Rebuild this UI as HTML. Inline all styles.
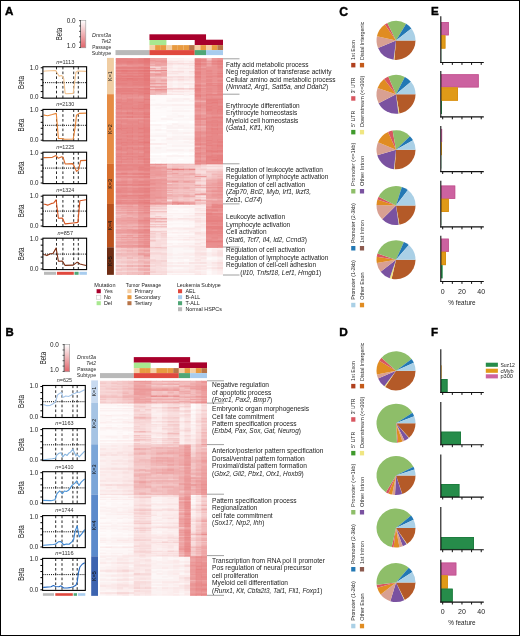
<!DOCTYPE html>
<html><head><meta charset="utf-8"><title>Figure</title>
<style>html,body{margin:0;padding:0;background:#fff;}body{width:520px;height:636px;overflow:hidden;font-family:"Liberation Sans",sans-serif;}svg{display:block;will-change:transform;}</style>
</head><body>
<svg width="520" height="636" viewBox="0 0 520 636" font-family="'Liberation Sans', sans-serif"><rect x="0" y="0" width="520" height="636" fill="#fff"/>
<defs><filter id="hblur" x="-2%" y="-1%" width="104%" height="102%"><feGaussianBlur stdDeviation="0.45 0.3"/></filter></defs>
<text x="5" y="15.4" font-size="11.6" text-anchor="start" fill="#000" font-weight="bold" stroke="#000" stroke-width="0.4">A</text>
<text x="5.4" y="336.3" font-size="11.4" text-anchor="start" fill="#000" font-weight="bold" stroke="#000" stroke-width="0.4">B</text>
<text x="339.2" y="15.5" font-size="12.2" text-anchor="start" fill="#000" font-weight="bold" stroke="#000" stroke-width="0.4">C</text>
<text x="339.3" y="336" font-size="11.8" text-anchor="start" fill="#000" font-weight="bold" stroke="#000" stroke-width="0.4">D</text>
<text x="431" y="15.2" font-size="11.6" text-anchor="start" fill="#000" font-weight="bold" stroke="#000" stroke-width="0.4">E</text>
<text x="431" y="335.8" font-size="11.6" text-anchor="start" fill="#000" font-weight="bold" stroke="#000" stroke-width="0.4">F</text>
<g>
<clipPath id="clip11"><rect x="115.5" y="57.9" width="107.5" height="216.9"/></clipPath>
<g filter="url(#hblur)"><g clip-path="url(#clip11)">
<path fill="#fefafa" d="M189.05 65.9h6.26v1.5h-6.26zM172.08 68.9h6.26v1.5h-6.26zM183.39 68.9h6.26v1.5h-6.26zM189.05 89.9h6.26v1.5h-6.26zM166.42 91.9h11.92v1.5h-11.92zM183.39 91.9h6.26v1.5h-6.26zM149.45 94.2h6.26v1.5h-6.26zM166.42 94.2h17.57v1.5h-17.57zM189.05 94.2h6.26v1.5h-6.26zM155.11 95.2h6.26v1.5h-6.26zM177.74 95.2h17.57v1.5h-17.57zM149.45 96.2h45.86v1.5h-45.86zM166.42 97.2h28.89v1.5h-28.89zM149.45 98.2h17.57v1.5h-17.57zM155.11 99.2h11.92v1.5h-11.92zM177.74 99.2h6.26v1.5h-6.26zM149.45 100.2h17.57v1.5h-17.57zM149.45 101.2h23.23v1.5h-23.23zM149.45 102.2h45.86v1.5h-45.86zM149.45 103.2h6.26v1.5h-6.26zM160.76 103.2h23.23v1.5h-23.23zM189.05 103.2h6.26v1.5h-6.26zM149.45 105.2h17.57v1.5h-17.57zM149.45 106.2h11.92v1.5h-11.92zM149.45 107.2h6.26v1.5h-6.26zM160.76 107.2h11.92v1.5h-11.92zM149.45 108.2h23.23v1.5h-23.23zM183.39 108.2h11.92v1.5h-11.92zM149.45 109.2h17.57v1.5h-17.57zM149.45 111.2h45.86v1.5h-45.86zM149.45 112.2h45.86v1.5h-45.86zM166.42 113.2h6.26v1.5h-6.26zM177.74 113.2h17.57v1.5h-17.57zM149.45 114.2h34.55v1.5h-34.55zM189.05 114.2h6.26v1.5h-6.26zM149.45 115.2h11.92v1.5h-11.92zM183.39 116.2h6.26v1.5h-6.26zM149.45 117.2h17.57v1.5h-17.57zM172.08 117.2h11.92v1.5h-11.92zM189.05 117.2h6.26v1.5h-6.26zM149.45 118.2h11.92v1.5h-11.92zM172.08 118.2h11.92v1.5h-11.92zM155.11 119.2h17.57v1.5h-17.57zM155.11 120.2h11.92v1.5h-11.92zM177.74 121.2h11.92v1.5h-11.92zM166.42 123.2h6.26v1.5h-6.26zM189.05 123.2h6.26v1.5h-6.26zM166.42 124.2h6.26v1.5h-6.26zM155.11 125.2h6.26v1.5h-6.26zM149.45 126.2h23.23v1.5h-23.23zM177.74 126.2h6.26v1.5h-6.26zM189.05 126.2h6.26v1.5h-6.26zM149.45 127.2h11.92v1.5h-11.92zM155.11 128.2h6.26v1.5h-6.26zM166.42 128.2h11.92v1.5h-11.92zM183.39 128.2h6.26v1.5h-6.26zM166.42 129.2h11.92v1.5h-11.92zM183.39 129.2h11.92v1.5h-11.92zM149.45 130.2h17.57v1.5h-17.57zM149.45 131.2h6.26v1.5h-6.26zM166.42 131.2h28.89v1.5h-28.89zM155.11 132.2h11.92v1.5h-11.92zM166.42 133.2h6.26v1.5h-6.26zM177.74 133.2h17.57v1.5h-17.57zM155.11 134.2h23.23v1.5h-23.23zM183.39 134.2h11.92v1.5h-11.92zM166.42 135.2h6.26v1.5h-6.26zM149.45 136.2h17.57v1.5h-17.57zM177.74 137.2h17.57v1.5h-17.57zM149.45 138.2h17.57v1.5h-17.57zM155.11 139.2h6.26v1.5h-6.26zM166.42 139.2h6.26v1.5h-6.26zM177.74 139.2h11.92v1.5h-11.92zM149.45 140.2h17.57v1.5h-17.57zM172.08 140.2h17.57v1.5h-17.57zM160.76 141.2h6.26v1.5h-6.26zM149.45 142.2h17.57v1.5h-17.57zM166.42 143.2h6.26v1.5h-6.26zM189.05 143.2h6.26v1.5h-6.26zM166.42 144.2h28.89v1.5h-28.89zM149.45 145.2h17.57v1.5h-17.57zM149.45 146.2h45.86v1.5h-45.86zM166.42 147.2h28.89v1.5h-28.89zM149.45 148.2h11.92v1.5h-11.92zM172.08 148.2h23.23v1.5h-23.23zM155.11 150.2h11.92v1.5h-11.92zM166.42 151.2h23.23v1.5h-23.23zM149.45 152.2h11.92v1.5h-11.92zM177.74 152.2h6.26v1.5h-6.26zM189.05 152.2h6.26v1.5h-6.26zM172.08 154.2h6.26v1.5h-6.26zM160.76 155.2h6.26v1.5h-6.26zM149.45 156.2h23.23v1.5h-23.23zM177.74 156.2h11.92v1.5h-11.92zM149.45 157.2h11.92v1.5h-11.92zM166.42 157.2h28.89v1.5h-28.89zM166.42 158.2h11.92v1.5h-11.92zM183.39 158.2h11.92v1.5h-11.92zM149.45 159.2h6.26v1.5h-6.26zM166.42 159.2h6.26v1.5h-6.26zM155.11 160.2h6.26v1.5h-6.26zM166.42 160.2h28.89v1.5h-28.89zM160.76 161.2h34.55v1.5h-34.55zM172.08 162.2h6.26v1.5h-6.26zM189.05 162.2h6.26v1.5h-6.26zM149.45 163.2h17.57v1.1h-17.57zM166.42 204.9h28.89v1.5h-28.89zM166.42 207.9h28.89v1.5h-28.89zM172.08 208.9h17.57v1.5h-17.57zM177.74 209.9h6.26v1.5h-6.26zM166.42 210.9h23.23v1.5h-23.23zM166.42 211.9h23.23v1.5h-23.23zM166.42 213.9h28.89v1.5h-28.89zM172.08 215.9h6.26v1.5h-6.26zM177.74 216.9h6.26v1.5h-6.26zM166.42 220.9h17.57v1.5h-17.57zM166.42 221.9h23.23v1.5h-23.23zM172.08 223.9h11.92v1.5h-11.92zM155.11 224.9h6.26v1.5h-6.26zM166.42 224.9h17.57v1.5h-17.57zM189.05 224.9h6.26v1.5h-6.26zM166.42 225.9h23.23v1.5h-23.23zM172.08 230.9h6.26v1.5h-6.26zM166.42 232.9h11.92v1.5h-11.92zM183.39 232.9h6.26v1.5h-6.26zM166.42 233.9h28.89v1.5h-28.89zM166.42 237.9h28.89v1.5h-28.89zM166.42 239.9h17.57v1.5h-17.57zM166.42 240.9h6.26v1.5h-6.26zM177.74 240.9h6.26v1.5h-6.26zM189.05 240.9h6.26v1.5h-6.26zM166.42 241.9h17.57v1.5h-17.57zM172.08 243.9h6.26v1.5h-6.26zM166.42 247.3h28.89v1.5h-28.89zM206.03 247.3h6.26v1.5h-6.26zM166.42 249.3h28.89v1.5h-28.89zM206.03 249.3h6.26v1.5h-6.26zM166.42 251.3h11.92v1.5h-11.92zM183.39 251.3h11.92v1.5h-11.92zM206.03 251.3h6.26v1.5h-6.26zM166.42 256.3h28.89v1.5h-28.89zM211.68 257.3h6.26v1.5h-6.26zM172.08 258.3h17.57v1.5h-17.57zM206.03 258.3h6.26v1.5h-6.26zM183.39 259.3h6.26v1.5h-6.26zM206.03 259.3h6.26v1.5h-6.26zM172.08 260.3h6.26v1.5h-6.26zM183.39 260.3h6.26v1.5h-6.26zM166.42 261.3h17.57v1.5h-17.57zM166.42 263.3h23.23v1.5h-23.23zM172.08 266.3h6.26v1.5h-6.26zM206.03 266.3h6.26v1.5h-6.26zM177.74 268.3h17.57v1.5h-17.57zM172.08 270.3h11.92v1.5h-11.92zM189.05 270.3h6.26v1.5h-6.26zM206.03 270.3h6.26v1.5h-6.26zM206.03 271.3h6.26v1.5h-6.26zM206.03 272.3h6.26v1.5h-6.26zM166.42 273.3h11.92v1.5h-11.92zM183.39 273.3h6.26v1.5h-6.26zM206.03 273.3h6.26v1.5h-6.26z"/>
<path fill="#fdf6f6" d="M183.39 57.9h11.92v1.5h-11.92zM166.42 58.9h28.89v1.5h-28.89zM183.39 61.9h6.26v1.5h-6.26zM172.08 65.9h6.26v1.5h-6.26zM183.39 65.9h6.26v1.5h-6.26zM177.74 68.9h6.26v1.5h-6.26zM189.05 68.9h6.26v1.5h-6.26zM166.42 73.9h11.92v1.5h-11.92zM183.39 73.9h6.26v1.5h-6.26zM172.08 80.9h6.26v1.5h-6.26zM183.39 80.9h6.26v1.5h-6.26zM172.08 81.9h23.23v1.5h-23.23zM172.08 84.9h6.26v1.5h-6.26zM183.39 84.9h6.26v1.5h-6.26zM172.08 85.9h6.26v1.5h-6.26zM183.39 85.9h6.26v1.5h-6.26zM183.39 86.9h6.26v1.5h-6.26zM172.08 89.9h17.57v1.5h-17.57zM177.74 91.9h6.26v1.5h-6.26zM189.05 91.9h6.26v1.5h-6.26zM155.11 94.2h11.92v1.5h-11.92zM166.42 98.2h6.26v1.5h-6.26zM189.05 98.2h6.26v1.5h-6.26zM149.45 99.2h6.26v1.5h-6.26zM166.42 99.2h6.26v1.5h-6.26zM183.39 99.2h11.92v1.5h-11.92zM183.39 100.2h6.26v1.5h-6.26zM155.11 103.2h6.26v1.5h-6.26zM166.42 105.2h28.89v1.5h-28.89zM160.76 106.2h6.26v1.5h-6.26zM155.11 107.2h6.26v1.5h-6.26zM172.08 107.2h23.23v1.5h-23.23zM172.08 108.2h11.92v1.5h-11.92zM166.42 110.2h6.26v1.5h-6.26zM189.05 110.2h6.26v1.5h-6.26zM172.08 113.2h6.26v1.5h-6.26zM166.42 115.2h11.92v1.5h-11.92zM183.39 115.2h11.92v1.5h-11.92zM166.42 116.2h17.57v1.5h-17.57zM189.05 116.2h6.26v1.5h-6.26zM183.39 118.2h11.92v1.5h-11.92zM172.08 119.2h23.23v1.5h-23.23zM149.45 120.2h6.26v1.5h-6.26zM177.74 123.2h11.92v1.5h-11.92zM160.76 124.2h6.26v1.5h-6.26zM172.08 124.2h23.23v1.5h-23.23zM172.08 125.2h6.26v1.5h-6.26zM183.39 125.2h11.92v1.5h-11.92zM172.08 126.2h6.26v1.5h-6.26zM183.39 126.2h6.26v1.5h-6.26zM149.45 129.2h6.26v1.5h-6.26zM160.76 129.2h6.26v1.5h-6.26zM177.74 130.2h17.57v1.5h-17.57zM166.42 132.2h6.26v1.5h-6.26zM149.45 133.2h17.57v1.5h-17.57zM172.08 133.2h6.26v1.5h-6.26zM177.74 134.2h6.26v1.5h-6.26zM172.08 135.2h23.23v1.5h-23.23zM166.42 136.2h6.26v1.5h-6.26zM166.42 137.2h11.92v1.5h-11.92zM160.76 139.2h6.26v1.5h-6.26zM172.08 139.2h6.26v1.5h-6.26zM189.05 139.2h6.26v1.5h-6.26zM166.42 140.2h6.26v1.5h-6.26zM189.05 140.2h6.26v1.5h-6.26zM166.42 141.2h17.57v1.5h-17.57zM189.05 141.2h6.26v1.5h-6.26zM166.42 142.2h23.23v1.5h-23.23zM172.08 143.2h17.57v1.5h-17.57zM166.42 145.2h6.26v1.5h-6.26zM149.45 147.2h6.26v1.5h-6.26zM160.76 147.2h6.26v1.5h-6.26zM149.45 149.2h17.57v1.5h-17.57zM183.39 149.2h6.26v1.5h-6.26zM149.45 150.2h6.26v1.5h-6.26zM166.42 150.2h23.23v1.5h-23.23zM149.45 151.2h17.57v1.5h-17.57zM149.45 155.2h11.92v1.5h-11.92zM183.39 155.2h6.26v1.5h-6.26zM149.45 158.2h17.57v1.5h-17.57zM149.45 160.2h6.26v1.5h-6.26zM160.76 160.2h6.26v1.5h-6.26zM172.08 163.2h6.26v1.1h-6.26zM183.39 163.2h11.92v1.1h-11.92zM166.42 203.9h23.23v1.5h-23.23zM172.08 206.9h6.26v1.5h-6.26zM166.42 208.9h6.26v1.5h-6.26zM189.05 208.9h6.26v1.5h-6.26zM166.42 209.9h11.92v1.5h-11.92zM183.39 209.9h11.92v1.5h-11.92zM189.05 210.9h17.57v1.5h-17.57zM189.05 211.9h6.26v1.5h-6.26zM172.08 214.9h11.92v1.5h-11.92zM166.42 215.9h6.26v1.5h-6.26zM177.74 215.9h6.26v1.5h-6.26zM194.71 215.9h11.92v1.5h-11.92zM166.42 216.9h11.92v1.5h-11.92zM183.39 216.9h11.92v1.5h-11.92zM172.08 219.9h11.92v1.5h-11.92zM183.39 220.9h11.92v1.5h-11.92zM189.05 221.9h6.26v1.5h-6.26zM166.42 222.9h28.89v1.5h-28.89zM166.42 223.9h6.26v1.5h-6.26zM183.39 223.9h11.92v1.5h-11.92zM149.45 224.9h6.26v1.5h-6.26zM160.76 224.9h6.26v1.5h-6.26zM189.05 225.9h6.26v1.5h-6.26zM166.42 226.9h6.26v1.5h-6.26zM172.08 228.9h6.26v1.5h-6.26zM200.37 228.9h6.26v1.5h-6.26zM166.42 229.9h23.23v1.5h-23.23zM200.37 229.9h6.26v1.5h-6.26zM166.42 230.9h6.26v1.5h-6.26zM177.74 230.9h11.92v1.5h-11.92zM177.74 232.9h6.26v1.5h-6.26zM189.05 232.9h6.26v1.5h-6.26zM166.42 234.9h11.92v1.5h-11.92zM166.42 235.9h23.23v1.5h-23.23zM183.39 239.9h11.92v1.5h-11.92zM183.39 241.9h11.92v1.5h-11.92zM172.08 242.9h6.26v1.5h-6.26zM166.42 243.9h6.26v1.5h-6.26zM177.74 243.9h17.57v1.5h-17.57zM166.42 244.9h6.26v1.5h-6.26zM166.42 246.9h23.23v0.9h-23.23zM200.37 247.3h6.26v1.5h-6.26zM211.68 247.3h6.26v1.5h-6.26zM172.08 248.3h11.92v1.5h-11.92zM206.03 248.3h6.26v1.5h-6.26zM172.08 250.3h23.23v1.5h-23.23zM206.03 250.3h6.26v1.5h-6.26zM177.74 251.3h6.26v1.5h-6.26zM172.08 252.3h11.92v1.5h-11.92zM172.08 253.3h6.26v1.5h-6.26zM172.08 255.3h11.92v1.5h-11.92zM189.05 255.3h6.26v1.5h-6.26zM206.03 256.3h11.92v1.5h-11.92zM217.34 257.3h6.26v1.5h-6.26zM166.42 258.3h6.26v1.5h-6.26zM189.05 258.3h6.26v1.5h-6.26zM211.68 258.3h6.26v1.5h-6.26zM166.42 259.3h17.57v1.5h-17.57zM211.68 259.3h6.26v1.5h-6.26zM166.42 260.3h6.26v1.5h-6.26zM177.74 260.3h6.26v1.5h-6.26zM189.05 260.3h6.26v1.5h-6.26zM183.39 261.3h11.92v1.5h-11.92zM206.03 261.3h6.26v1.5h-6.26zM189.05 263.3h28.89v1.5h-28.89zM172.08 264.3h17.57v1.5h-17.57zM206.03 265.3h6.26v1.5h-6.26zM166.42 266.3h6.26v1.5h-6.26zM177.74 266.3h17.57v1.5h-17.57zM211.68 266.3h6.26v1.5h-6.26zM172.08 267.3h11.92v1.5h-11.92zM206.03 268.3h6.26v1.5h-6.26zM206.03 269.3h6.26v1.5h-6.26zM166.42 270.3h6.26v1.5h-6.26zM183.39 270.3h6.26v1.5h-6.26zM200.37 270.3h6.26v1.5h-6.26zM211.68 270.3h6.26v1.5h-6.26zM166.42 272.3h28.89v1.5h-28.89zM211.68 272.3h6.26v1.5h-6.26zM177.74 273.3h6.26v1.5h-6.26zM189.05 273.3h6.26v1.5h-6.26zM206.03 274.3h6.26v1h-6.26z"/>
<path fill="#fcf1f1" d="M166.42 57.9h17.57v1.5h-17.57zM172.08 59.9h6.26v1.5h-6.26zM183.39 59.9h11.92v1.5h-11.92zM172.08 61.9h11.92v1.5h-11.92zM189.05 61.9h6.26v1.5h-6.26zM172.08 63.9h23.23v1.5h-23.23zM172.08 64.9h11.92v1.5h-11.92zM166.42 65.9h6.26v1.5h-6.26zM177.74 65.9h6.26v1.5h-6.26zM172.08 66.9h6.26v1.5h-6.26zM183.39 66.9h6.26v1.5h-6.26zM166.42 68.9h6.26v1.5h-6.26zM172.08 69.9h6.26v1.5h-6.26zM183.39 69.9h11.92v1.5h-11.92zM166.42 71.9h11.92v1.5h-11.92zM183.39 71.9h11.92v1.5h-11.92zM177.74 73.9h6.26v1.5h-6.26zM189.05 73.9h6.26v1.5h-6.26zM166.42 74.9h28.89v1.5h-28.89zM166.42 77.9h11.92v1.5h-11.92zM183.39 77.9h11.92v1.5h-11.92zM172.08 79.9h6.26v1.5h-6.26zM166.42 80.9h6.26v1.5h-6.26zM189.05 80.9h6.26v1.5h-6.26zM166.42 81.9h6.26v1.5h-6.26zM172.08 82.9h6.26v1.5h-6.26zM172.08 83.9h6.26v1.5h-6.26zM183.39 83.9h6.26v1.5h-6.26zM177.74 84.9h6.26v1.5h-6.26zM189.05 84.9h6.26v1.5h-6.26zM177.74 85.9h6.26v1.5h-6.26zM166.42 86.9h11.92v1.5h-11.92zM189.05 86.9h6.26v1.5h-6.26zM166.42 89.9h6.26v1.5h-6.26zM172.08 92.9h23.23v1.5h-23.23zM183.39 93.9h6.26v0.8h-6.26zM183.39 94.2h6.26v1.5h-6.26zM172.08 98.2h11.92v1.5h-11.92zM172.08 99.2h6.26v1.5h-6.26zM166.42 100.2h17.57v1.5h-17.57zM189.05 100.2h6.26v1.5h-6.26zM149.45 104.2h23.23v1.5h-23.23zM189.05 104.2h6.26v1.5h-6.26zM172.08 110.2h17.57v1.5h-17.57zM177.74 115.2h6.26v1.5h-6.26zM160.76 118.2h11.92v1.5h-11.92zM172.08 123.2h6.26v1.5h-6.26zM149.45 124.2h11.92v1.5h-11.92zM166.42 125.2h6.26v1.5h-6.26zM177.74 125.2h6.26v1.5h-6.26zM166.42 127.2h28.89v1.5h-28.89zM155.11 129.2h6.26v1.5h-6.26zM166.42 130.2h11.92v1.5h-11.92zM172.08 132.2h11.92v1.5h-11.92zM189.05 132.2h6.26v1.5h-6.26zM149.45 135.2h17.57v1.5h-17.57zM172.08 136.2h23.23v1.5h-23.23zM172.08 138.2h11.92v1.5h-11.92zM149.45 139.2h6.26v1.5h-6.26zM183.39 141.2h6.26v1.5h-6.26zM189.05 142.2h6.26v1.5h-6.26zM172.08 145.2h23.23v1.5h-23.23zM155.11 147.2h6.26v1.5h-6.26zM166.42 149.2h17.57v1.5h-17.57zM189.05 149.2h6.26v1.5h-6.26zM189.05 150.2h6.26v1.5h-6.26zM166.42 155.2h17.57v1.5h-17.57zM189.05 155.2h6.26v1.5h-6.26zM166.42 163.2h6.26v1.1h-6.26zM177.74 163.2h6.26v1.1h-6.26zM189.05 203.9h6.26v1.5h-6.26zM166.42 205.9h17.57v1.5h-17.57zM200.37 205.9h6.26v1.5h-6.26zM166.42 206.9h6.26v1.5h-6.26zM177.74 206.9h28.89v1.5h-28.89zM200.37 208.9h6.26v1.5h-6.26zM194.71 211.9h11.92v1.5h-11.92zM166.42 212.9h28.89v1.5h-28.89zM194.71 213.9h11.92v1.5h-11.92zM166.42 214.9h6.26v1.5h-6.26zM183.39 214.9h6.26v1.5h-6.26zM183.39 215.9h11.92v1.5h-11.92zM200.37 216.9h6.26v1.5h-6.26zM177.74 218.9h11.92v1.5h-11.92zM166.42 219.9h6.26v1.5h-6.26zM183.39 219.9h11.92v1.5h-11.92zM200.37 221.9h6.26v1.5h-6.26zM200.37 222.9h6.26v1.5h-6.26zM194.71 224.9h6.26v1.5h-6.26zM172.08 226.9h23.23v1.5h-23.23zM194.71 227.9h11.92v1.5h-11.92zM155.11 228.9h6.26v1.5h-6.26zM166.42 228.9h6.26v1.5h-6.26zM177.74 228.9h17.57v1.5h-17.57zM189.05 229.9h11.92v1.5h-11.92zM166.42 231.9h6.26v1.5h-6.26zM177.74 231.9h6.26v1.5h-6.26zM189.05 231.9h6.26v1.5h-6.26zM177.74 234.9h17.57v1.5h-17.57zM189.05 235.9h6.26v1.5h-6.26zM200.37 235.9h6.26v1.5h-6.26zM172.08 236.9h11.92v1.5h-11.92zM200.37 236.9h6.26v1.5h-6.26zM149.45 237.9h11.92v1.5h-11.92zM194.71 237.9h6.26v1.5h-6.26zM166.42 238.9h11.92v1.5h-11.92zM194.71 239.9h11.92v1.5h-11.92zM194.71 240.9h11.92v1.5h-11.92zM194.71 241.9h6.26v1.5h-6.26zM166.42 242.9h6.26v1.5h-6.26zM177.74 242.9h17.57v1.5h-17.57zM200.37 243.9h6.26v1.5h-6.26zM172.08 244.9h11.92v1.5h-11.92zM189.05 246.9h6.26v0.9h-6.26zM166.42 248.3h6.26v1.5h-6.26zM183.39 248.3h11.92v1.5h-11.92zM211.68 248.3h6.26v1.5h-6.26zM166.42 250.3h6.26v1.5h-6.26zM194.71 251.3h11.92v1.5h-11.92zM211.68 251.3h6.26v1.5h-6.26zM166.42 252.3h6.26v1.5h-6.26zM183.39 252.3h11.92v1.5h-11.92zM177.74 253.3h6.26v1.5h-6.26zM206.03 253.3h6.26v1.5h-6.26zM172.08 254.3h17.57v1.5h-17.57zM166.42 255.3h6.26v1.5h-6.26zM183.39 255.3h6.26v1.5h-6.26zM200.37 255.3h11.92v1.5h-11.92zM172.08 257.3h6.26v1.5h-6.26zM217.34 258.3h6.26v1.5h-6.26zM189.05 259.3h6.26v1.5h-6.26zM200.37 260.3h17.57v1.5h-17.57zM211.68 261.3h6.26v1.5h-6.26zM166.42 264.3h6.26v1.5h-6.26zM189.05 264.3h17.57v1.5h-17.57zM166.42 267.3h6.26v1.5h-6.26zM183.39 267.3h6.26v1.5h-6.26zM194.71 269.3h11.92v1.5h-11.92zM194.71 270.3h6.26v1.5h-6.26zM211.68 271.3h6.26v1.5h-6.26zM200.37 272.3h6.26v1.5h-6.26zM211.68 273.3h6.26v1.5h-6.26zM211.68 274.3h6.26v1h-6.26z"/>
<path fill="#fceded" d="M166.42 59.9h6.26v1.5h-6.26zM177.74 59.9h6.26v1.5h-6.26zM183.39 60.9h6.26v1.5h-6.26zM183.39 64.9h6.26v1.5h-6.26zM149.45 65.9h6.26v1.5h-6.26zM177.74 66.9h6.26v1.5h-6.26zM189.05 66.9h6.26v1.5h-6.26zM166.42 67.9h11.92v1.5h-11.92zM166.42 69.9h6.26v1.5h-6.26zM177.74 69.9h6.26v1.5h-6.26zM183.39 70.9h6.26v1.5h-6.26zM177.74 71.9h6.26v1.5h-6.26zM177.74 72.9h11.92v1.5h-11.92zM177.74 77.9h6.26v1.5h-6.26zM177.74 79.9h17.57v1.5h-17.57zM177.74 80.9h6.26v1.5h-6.26zM166.42 82.9h6.26v1.5h-6.26zM177.74 82.9h6.26v1.5h-6.26zM166.42 83.9h6.26v1.5h-6.26zM177.74 83.9h6.26v1.5h-6.26zM189.05 83.9h6.26v1.5h-6.26zM166.42 84.9h6.26v1.5h-6.26zM166.42 85.9h6.26v1.5h-6.26zM189.05 85.9h6.26v1.5h-6.26zM177.74 86.9h6.26v1.5h-6.26zM189.05 90.9h6.26v1.5h-6.26zM166.42 92.9h6.26v1.5h-6.26zM183.39 98.2h6.26v1.5h-6.26zM172.08 104.2h17.57v1.5h-17.57zM183.39 132.2h6.26v1.5h-6.26zM166.42 138.2h6.26v1.5h-6.26zM183.39 138.2h11.92v1.5h-11.92zM160.76 143.2h6.26v1.5h-6.26zM206.03 164.8h6.26v1.5h-6.26zM200.37 195.8h6.26v1.5h-6.26zM166.42 199.8h6.26v1.5h-6.26zM200.37 203.9h6.26v1.5h-6.26zM194.71 204.9h6.26v1.5h-6.26zM183.39 205.9h17.57v1.5h-17.57zM194.71 208.9h6.26v1.5h-6.26zM160.76 214.9h6.26v1.5h-6.26zM189.05 214.9h6.26v1.5h-6.26zM194.71 216.9h6.26v1.5h-6.26zM172.08 217.9h6.26v1.5h-6.26zM166.42 218.9h11.92v1.5h-11.92zM194.71 218.9h11.92v1.5h-11.92zM194.71 221.9h6.26v1.5h-6.26zM194.71 222.9h6.26v1.5h-6.26zM194.71 223.9h6.26v1.5h-6.26zM200.37 224.9h6.26v1.5h-6.26zM200.37 226.9h6.26v1.5h-6.26zM166.42 227.9h17.57v1.5h-17.57zM149.45 228.9h6.26v1.5h-6.26zM160.76 228.9h6.26v1.5h-6.26zM194.71 228.9h6.26v1.5h-6.26zM189.05 230.9h17.57v1.5h-17.57zM172.08 231.9h6.26v1.5h-6.26zM183.39 231.9h6.26v1.5h-6.26zM194.71 233.9h11.92v1.5h-11.92zM194.71 234.9h6.26v1.5h-6.26zM194.71 235.9h6.26v1.5h-6.26zM166.42 236.9h6.26v1.5h-6.26zM183.39 236.9h6.26v1.5h-6.26zM194.71 236.9h6.26v1.5h-6.26zM160.76 237.9h6.26v1.5h-6.26zM200.37 237.9h6.26v1.5h-6.26zM177.74 238.9h6.26v1.5h-6.26zM189.05 238.9h6.26v1.5h-6.26zM200.37 242.9h6.26v1.5h-6.26zM194.71 243.9h6.26v1.5h-6.26zM183.39 244.9h23.23v1.5h-23.23zM166.42 245.9h23.23v1.5h-23.23zM194.71 247.3h6.26v1.5h-6.26zM217.34 247.3h6.26v1.5h-6.26zM217.34 248.3h6.26v1.5h-6.26zM211.68 249.3h11.92v1.5h-11.92zM200.37 250.3h6.26v1.5h-6.26zM211.68 250.3h6.26v1.5h-6.26zM206.03 252.3h6.26v1.5h-6.26zM166.42 253.3h6.26v1.5h-6.26zM183.39 253.3h11.92v1.5h-11.92zM166.42 254.3h6.26v1.5h-6.26zM189.05 254.3h6.26v1.5h-6.26zM206.03 254.3h6.26v1.5h-6.26zM194.71 255.3h6.26v1.5h-6.26zM211.68 255.3h6.26v1.5h-6.26zM200.37 256.3h6.26v1.5h-6.26zM217.34 256.3h6.26v1.5h-6.26zM166.42 257.3h6.26v1.5h-6.26zM177.74 257.3h23.23v1.5h-23.23zM194.71 258.3h11.92v1.5h-11.92zM200.37 259.3h6.26v1.5h-6.26zM217.34 259.3h6.26v1.5h-6.26zM194.71 260.3h6.26v1.5h-6.26zM194.71 261.3h11.92v1.5h-11.92zM217.34 261.3h6.26v1.5h-6.26zM172.08 262.3h6.26v1.5h-6.26zM183.39 262.3h6.26v1.5h-6.26zM206.03 262.3h6.26v1.5h-6.26zM217.34 263.3h6.26v1.5h-6.26zM206.03 264.3h6.26v1.5h-6.26zM189.05 265.3h6.26v1.5h-6.26zM211.68 265.3h6.26v1.5h-6.26zM200.37 266.3h6.26v1.5h-6.26zM217.34 266.3h6.26v1.5h-6.26zM189.05 267.3h17.57v1.5h-17.57zM211.68 268.3h6.26v1.5h-6.26zM166.42 269.3h23.23v1.5h-23.23zM211.68 269.3h6.26v1.5h-6.26zM217.34 270.3h6.26v1.5h-6.26zM200.37 271.3h6.26v1.5h-6.26zM217.34 271.3h6.26v1.5h-6.26zM194.71 272.3h6.26v1.5h-6.26zM217.34 272.3h6.26v1.5h-6.26zM200.37 273.3h6.26v1.5h-6.26zM217.34 273.3h6.26v1.5h-6.26zM166.42 274.3h6.26v1h-6.26zM217.34 274.3h6.26v1h-6.26z"/>
<path fill="#fbe8e8" d="M177.74 60.9h6.26v1.5h-6.26zM189.05 60.9h6.26v1.5h-6.26zM166.42 61.9h6.26v1.5h-6.26zM166.42 63.9h6.26v1.5h-6.26zM166.42 64.9h6.26v1.5h-6.26zM166.42 66.9h6.26v1.5h-6.26zM177.74 67.9h17.57v1.5h-17.57zM189.05 72.9h6.26v1.5h-6.26zM189.05 78.9h6.26v1.5h-6.26zM166.42 79.9h6.26v1.5h-6.26zM183.39 82.9h11.92v1.5h-11.92zM172.08 88.9h17.57v1.5h-17.57zM166.42 90.9h6.26v1.5h-6.26zM183.39 90.9h6.26v1.5h-6.26zM189.05 93.9h6.26v0.8h-6.26zM149.45 143.2h11.92v1.5h-11.92zM211.68 164.8h11.92v1.5h-11.92zM206.03 166.8h11.92v1.5h-11.92zM206.03 167.8h11.92v1.5h-11.92zM200.37 185.8h6.26v1.5h-6.26zM200.37 188.8h6.26v1.5h-6.26zM200.37 197.8h6.26v1.5h-6.26zM194.71 203.9h6.26v1.5h-6.26zM200.37 204.9h6.26v1.5h-6.26zM155.11 206.9h6.26v1.5h-6.26zM200.37 207.9h6.26v1.5h-6.26zM194.71 209.9h6.26v1.5h-6.26zM149.45 211.9h17.57v1.5h-17.57zM149.45 214.9h11.92v1.5h-11.92zM166.42 217.9h6.26v1.5h-6.26zM189.05 217.9h6.26v1.5h-6.26zM200.37 217.9h6.26v1.5h-6.26zM189.05 218.9h6.26v1.5h-6.26zM155.11 221.9h11.92v1.5h-11.92zM200.37 223.9h6.26v1.5h-6.26zM200.37 225.9h6.26v1.5h-6.26zM155.11 226.9h6.26v1.5h-6.26zM194.71 226.9h6.26v1.5h-6.26zM160.76 227.9h6.26v1.5h-6.26zM183.39 227.9h11.92v1.5h-11.92zM155.11 229.9h6.26v1.5h-6.26zM200.37 231.9h6.26v1.5h-6.26zM200.37 234.9h6.26v1.5h-6.26zM189.05 236.9h6.26v1.5h-6.26zM183.39 238.9h6.26v1.5h-6.26zM200.37 238.9h6.26v1.5h-6.26zM200.37 241.9h6.26v1.5h-6.26zM189.05 245.9h6.26v1.5h-6.26zM194.71 246.9h11.92v0.9h-11.92zM194.71 249.3h11.92v1.5h-11.92zM149.45 250.3h17.57v1.5h-17.57zM194.71 250.3h6.26v1.5h-6.26zM217.34 251.3h6.26v1.5h-6.26zM211.68 252.3h6.26v1.5h-6.26zM211.68 253.3h6.26v1.5h-6.26zM155.11 254.3h6.26v1.5h-6.26zM155.11 256.3h11.92v1.5h-11.92zM194.71 256.3h6.26v1.5h-6.26zM155.11 258.3h6.26v1.5h-6.26zM217.34 260.3h6.26v1.5h-6.26zM166.42 262.3h6.26v1.5h-6.26zM177.74 262.3h6.26v1.5h-6.26zM155.11 263.3h6.26v1.5h-6.26zM211.68 264.3h6.26v1.5h-6.26zM166.42 265.3h23.23v1.5h-23.23zM160.76 266.3h6.26v1.5h-6.26zM194.71 266.3h6.26v1.5h-6.26zM206.03 267.3h6.26v1.5h-6.26zM155.11 268.3h6.26v1.5h-6.26zM200.37 268.3h6.26v1.5h-6.26zM217.34 268.3h6.26v1.5h-6.26zM189.05 269.3h6.26v1.5h-6.26zM217.34 269.3h6.26v1.5h-6.26zM172.08 271.3h17.57v1.5h-17.57zM194.71 271.3h6.26v1.5h-6.26zM194.71 273.3h6.26v1.5h-6.26zM172.08 274.3h23.23v1h-23.23z"/>
<path fill="#fae4e4" d="M166.42 60.9h11.92v1.5h-11.92zM189.05 64.9h6.26v1.5h-6.26zM149.45 68.9h6.26v1.5h-6.26zM166.42 70.9h6.26v1.5h-6.26zM166.42 72.9h11.92v1.5h-11.92zM183.39 75.9h6.26v1.5h-6.26zM172.08 76.9h6.26v1.5h-6.26zM183.39 76.9h6.26v1.5h-6.26zM172.08 78.9h6.26v1.5h-6.26zM183.39 78.9h6.26v1.5h-6.26zM189.05 88.9h6.26v1.5h-6.26zM172.08 90.9h11.92v1.5h-11.92zM172.08 93.9h11.92v0.8h-11.92zM200.37 166.8h6.26v1.5h-6.26zM217.34 166.8h6.26v1.5h-6.26zM217.34 167.8h6.26v1.5h-6.26zM200.37 174.8h6.26v1.5h-6.26zM166.42 182.8h6.26v1.5h-6.26zM166.42 192.8h6.26v1.5h-6.26zM200.37 194.8h6.26v1.5h-6.26zM194.71 197.8h6.26v1.5h-6.26zM200.37 200.8h6.26v1.5h-6.26zM149.45 206.9h6.26v1.5h-6.26zM160.76 206.9h6.26v1.5h-6.26zM194.71 207.9h6.26v1.5h-6.26zM155.11 209.9h11.92v1.5h-11.92zM200.37 209.9h6.26v1.5h-6.26zM155.11 213.9h11.92v1.5h-11.92zM194.71 214.9h11.92v1.5h-11.92zM155.11 216.9h6.26v1.5h-6.26zM177.74 217.9h11.92v1.5h-11.92zM200.37 219.9h6.26v1.5h-6.26zM200.37 220.9h6.26v1.5h-6.26zM149.45 221.9h6.26v1.5h-6.26zM194.71 225.9h6.26v1.5h-6.26zM149.45 226.9h6.26v1.5h-6.26zM160.76 226.9h6.26v1.5h-6.26zM149.45 227.9h11.92v1.5h-11.92zM149.45 229.9h6.26v1.5h-6.26zM160.76 229.9h6.26v1.5h-6.26zM149.45 231.9h17.57v1.5h-17.57zM200.37 232.9h6.26v1.5h-6.26zM194.71 238.9h6.26v1.5h-6.26zM160.76 240.9h6.26v1.5h-6.26zM194.71 242.9h6.26v1.5h-6.26zM160.76 243.9h6.26v1.5h-6.26zM160.76 244.9h6.26v1.5h-6.26zM194.71 245.9h6.26v1.5h-6.26zM194.71 248.3h11.92v1.5h-11.92zM149.45 251.3h6.26v1.5h-6.26zM160.76 251.3h6.26v1.5h-6.26zM194.71 253.3h6.26v1.5h-6.26zM149.45 254.3h6.26v1.5h-6.26zM160.76 254.3h6.26v1.5h-6.26zM194.71 254.3h6.26v1.5h-6.26zM211.68 254.3h6.26v1.5h-6.26zM217.34 255.3h6.26v1.5h-6.26zM149.45 256.3h6.26v1.5h-6.26zM149.45 257.3h6.26v1.5h-6.26zM200.37 257.3h6.26v1.5h-6.26zM149.45 258.3h6.26v1.5h-6.26zM160.76 258.3h6.26v1.5h-6.26zM194.71 259.3h6.26v1.5h-6.26zM149.45 261.3h6.26v1.5h-6.26zM149.45 263.3h6.26v1.5h-6.26zM160.76 263.3h6.26v1.5h-6.26zM194.71 265.3h11.92v1.5h-11.92zM217.34 265.3h6.26v1.5h-6.26zM149.45 266.3h11.92v1.5h-11.92zM160.76 267.3h6.26v1.5h-6.26zM194.71 268.3h6.26v1.5h-6.26zM149.45 270.3h17.57v1.5h-17.57zM166.42 271.3h6.26v1.5h-6.26zM189.05 271.3h6.26v1.5h-6.26zM149.45 272.3h17.57v1.5h-17.57z"/>
<path fill="#f9dfdf" d="M172.08 62.9h6.26v1.5h-6.26zM183.39 62.9h11.92v1.5h-11.92zM160.76 65.9h6.26v1.5h-6.26zM155.11 68.9h6.26v1.5h-6.26zM172.08 70.9h11.92v1.5h-11.92zM189.05 70.9h6.26v1.5h-6.26zM166.42 75.9h11.92v1.5h-11.92zM189.05 75.9h6.26v1.5h-6.26zM177.74 76.9h6.26v1.5h-6.26zM189.05 76.9h6.26v1.5h-6.26zM166.42 78.9h6.26v1.5h-6.26zM166.42 88.9h6.26v1.5h-6.26zM166.42 93.9h6.26v0.8h-6.26zM194.71 169.8h6.26v1.5h-6.26zM200.37 170.8h6.26v1.5h-6.26zM194.71 171.8h11.92v1.5h-11.92zM200.37 172.8h6.26v1.5h-6.26zM200.37 178.8h6.26v1.5h-6.26zM194.71 181.8h11.92v1.5h-11.92zM200.37 182.8h6.26v1.5h-6.26zM194.71 187.8h11.92v1.5h-11.92zM194.71 195.8h6.26v1.5h-6.26zM194.71 200.8h6.26v1.5h-6.26zM149.45 208.9h17.57v1.5h-17.57zM149.45 209.9h6.26v1.5h-6.26zM155.11 212.9h11.92v1.5h-11.92zM149.45 215.9h6.26v1.5h-6.26zM160.76 215.9h6.26v1.5h-6.26zM160.76 216.9h6.26v1.5h-6.26zM194.71 217.9h6.26v1.5h-6.26zM155.11 218.9h6.26v1.5h-6.26zM194.71 219.9h6.26v1.5h-6.26zM194.71 220.9h6.26v1.5h-6.26zM149.45 222.9h17.57v1.5h-17.57zM194.71 231.9h6.26v1.5h-6.26zM155.11 232.9h6.26v1.5h-6.26zM194.71 232.9h6.26v1.5h-6.26zM155.11 234.9h6.26v1.5h-6.26zM155.11 235.9h6.26v1.5h-6.26zM155.11 236.9h6.26v1.5h-6.26zM155.11 238.9h6.26v1.5h-6.26zM149.45 240.9h6.26v1.5h-6.26zM149.45 241.9h17.57v1.5h-17.57zM149.45 242.9h6.26v1.5h-6.26zM149.45 243.9h6.26v1.5h-6.26zM149.45 244.9h6.26v1.5h-6.26zM160.76 245.9h6.26v1.5h-6.26zM200.37 245.9h6.26v1.5h-6.26zM149.45 248.3h6.26v1.5h-6.26zM160.76 248.3h6.26v1.5h-6.26zM217.34 250.3h6.26v1.5h-6.26zM155.11 251.3h6.26v1.5h-6.26zM160.76 252.3h6.26v1.5h-6.26zM194.71 252.3h11.92v1.5h-11.92zM200.37 253.3h6.26v1.5h-6.26zM217.34 253.3h6.26v1.5h-6.26zM200.37 254.3h6.26v1.5h-6.26zM149.45 255.3h11.92v1.5h-11.92zM115.5 256.3h6.26v1.5h-6.26zM155.11 257.3h6.26v1.5h-6.26zM155.11 259.3h11.92v1.5h-11.92zM155.11 261.3h11.92v1.5h-11.92zM189.05 262.3h11.92v1.5h-11.92zM211.68 262.3h6.26v1.5h-6.26zM115.5 263.3h11.92v1.5h-11.92zM149.45 264.3h6.26v1.5h-6.26zM217.34 264.3h6.26v1.5h-6.26zM149.45 267.3h6.26v1.5h-6.26zM211.68 267.3h6.26v1.5h-6.26zM160.76 268.3h6.26v1.5h-6.26zM160.76 269.3h6.26v1.5h-6.26zM149.45 273.3h11.92v1.5h-11.92zM200.37 274.3h6.26v1h-6.26z"/>
<path fill="#f8dbdb" d="M166.42 62.9h6.26v1.5h-6.26zM177.74 62.9h6.26v1.5h-6.26zM177.74 75.9h6.26v1.5h-6.26zM166.42 76.9h6.26v1.5h-6.26zM177.74 78.9h6.26v1.5h-6.26zM206.03 163.8h11.92v1.5h-11.92zM200.37 164.8h6.26v1.5h-6.26zM194.71 167.8h11.92v1.5h-11.92zM200.37 169.8h11.92v1.5h-11.92zM194.71 170.8h6.26v1.5h-6.26zM194.71 172.8h6.26v1.5h-6.26zM194.71 174.8h6.26v1.5h-6.26zM200.37 176.8h6.26v1.5h-6.26zM200.37 177.8h6.26v1.5h-6.26zM194.71 178.8h6.26v1.5h-6.26zM194.71 182.8h6.26v1.5h-6.26zM200.37 183.8h6.26v1.5h-6.26zM194.71 185.8h6.26v1.5h-6.26zM194.71 188.8h6.26v1.5h-6.26zM200.37 189.8h6.26v1.5h-6.26zM200.37 191.8h6.26v1.5h-6.26zM194.71 194.8h6.26v1.5h-6.26zM200.37 198.8h6.26v1.5h-6.26zM200.37 203.8h6.26v0.6h-6.26zM194.71 212.9h11.92v1.5h-11.92zM149.45 213.9h6.26v1.5h-6.26zM160.76 219.9h6.26v1.5h-6.26zM149.45 233.9h17.57v1.5h-17.57zM160.76 235.9h6.26v1.5h-6.26zM160.76 238.9h6.26v1.5h-6.26zM155.11 239.9h11.92v1.5h-11.92zM155.11 240.9h6.26v1.5h-6.26zM155.11 242.9h11.92v1.5h-11.92zM155.11 243.9h6.26v1.5h-6.26zM155.11 244.9h6.26v1.5h-6.26zM149.45 245.9h11.92v1.5h-11.92zM115.5 248.3h6.26v1.5h-6.26zM155.11 248.3h6.26v1.5h-6.26zM149.45 249.3h17.57v1.5h-17.57zM115.5 251.3h11.92v1.5h-11.92zM217.34 252.3h6.26v1.5h-6.26zM217.34 254.3h6.26v1.5h-6.26zM160.76 255.3h6.26v1.5h-6.26zM160.76 257.3h6.26v1.5h-6.26zM115.5 259.3h6.26v1.5h-6.26zM160.76 262.3h6.26v1.5h-6.26zM200.37 262.3h6.26v1.5h-6.26zM160.76 264.3h6.26v1.5h-6.26zM155.11 265.3h6.26v1.5h-6.26zM115.5 267.3h6.26v1.5h-6.26zM155.11 267.3h6.26v1.5h-6.26zM149.45 268.3h6.26v1.5h-6.26zM155.11 269.3h6.26v1.5h-6.26zM121.16 270.3h6.26v1.5h-6.26zM115.5 273.3h11.92v1.5h-11.92zM160.76 273.3h6.26v1.5h-6.26zM194.71 274.3h6.26v1h-6.26z"/>
<path fill="#f7d6d6" d="M155.11 65.9h6.26v1.5h-6.26zM155.11 66.9h6.26v1.5h-6.26zM149.45 70.9h6.26v1.5h-6.26zM160.76 70.9h6.26v1.5h-6.26zM160.76 76.9h6.26v1.5h-6.26zM155.11 83.9h6.26v1.5h-6.26zM183.39 87.9h6.26v1.5h-6.26zM217.34 163.8h6.26v1.5h-6.26zM194.71 164.8h6.26v1.5h-6.26zM200.37 165.8h23.23v1.5h-23.23zM194.71 166.8h6.26v1.5h-6.26zM206.03 168.8h11.92v1.5h-11.92zM211.68 169.8h6.26v1.5h-6.26zM194.71 176.8h6.26v1.5h-6.26zM200.37 180.8h6.26v1.5h-6.26zM194.71 189.8h6.26v1.5h-6.26zM194.71 191.8h6.26v1.5h-6.26zM166.42 198.8h6.26v1.5h-6.26zM189.05 199.8h6.26v1.5h-6.26zM155.11 204.9h6.26v1.5h-6.26zM149.45 212.9h6.26v1.5h-6.26zM149.45 216.9h6.26v1.5h-6.26zM160.76 218.9h6.26v1.5h-6.26zM149.45 234.9h6.26v1.5h-6.26zM160.76 236.9h6.26v1.5h-6.26zM149.45 238.9h6.26v1.5h-6.26zM149.45 252.3h11.92v1.5h-11.92zM149.45 253.3h11.92v1.5h-11.92zM121.16 256.3h6.26v1.5h-6.26zM132.47 256.3h6.26v1.5h-6.26zM217.34 262.3h6.26v1.5h-6.26zM132.47 263.3h6.26v1.5h-6.26zM115.5 264.3h11.92v1.5h-11.92zM155.11 264.3h6.26v1.5h-6.26zM160.76 265.3h6.26v1.5h-6.26zM115.5 266.3h6.26v1.5h-6.26zM217.34 267.3h6.26v1.5h-6.26zM149.45 269.3h6.26v1.5h-6.26zM115.5 270.3h6.26v1.5h-6.26zM132.47 270.3h6.26v1.5h-6.26zM115.5 271.3h11.92v1.5h-11.92zM155.11 271.3h11.92v1.5h-11.92zM126.82 273.3h11.92v1.5h-11.92z"/>
<path fill="#f6d2d2" d="M149.45 66.9h6.26v1.5h-6.26zM149.45 76.9h6.26v1.5h-6.26zM172.08 87.9h6.26v1.5h-6.26zM166.42 164.8h6.26v1.5h-6.26zM189.05 164.8h6.26v1.5h-6.26zM189.05 166.8h6.26v1.5h-6.26zM194.71 168.8h6.26v1.5h-6.26zM217.34 168.8h6.26v1.5h-6.26zM217.34 169.8h6.26v1.5h-6.26zM206.03 172.8h6.26v1.5h-6.26zM206.03 174.8h6.26v1.5h-6.26zM200.37 179.8h6.26v1.5h-6.26zM194.71 180.8h6.26v1.5h-6.26zM194.71 183.8h6.26v1.5h-6.26zM166.42 188.8h6.26v1.5h-6.26zM166.42 190.8h6.26v1.5h-6.26zM200.37 190.8h6.26v1.5h-6.26zM177.74 192.8h6.26v1.5h-6.26zM189.05 192.8h6.26v1.5h-6.26zM200.37 196.8h6.26v1.5h-6.26zM177.74 198.8h6.26v1.5h-6.26zM189.05 198.8h6.26v1.5h-6.26zM149.45 218.9h6.26v1.5h-6.26zM155.11 219.9h6.26v1.5h-6.26zM160.76 230.9h6.26v1.5h-6.26zM160.76 234.9h6.26v1.5h-6.26zM149.45 235.9h6.26v1.5h-6.26zM149.45 236.9h6.26v1.5h-6.26zM149.45 247.3h11.92v1.5h-11.92zM121.16 248.3h6.26v1.5h-6.26zM126.82 251.3h11.92v1.5h-11.92zM160.76 253.3h6.26v1.5h-6.26zM126.82 256.3h6.26v1.5h-6.26zM115.5 258.3h11.92v1.5h-11.92zM121.16 259.3h17.57v1.5h-17.57zM149.45 259.3h6.26v1.5h-6.26zM155.11 260.3h6.26v1.5h-6.26zM149.45 262.3h11.92v1.5h-11.92zM126.82 263.3h6.26v1.5h-6.26zM149.45 265.3h6.26v1.5h-6.26zM121.16 266.3h6.26v1.5h-6.26zM132.47 266.3h6.26v1.5h-6.26zM121.16 267.3h6.26v1.5h-6.26zM132.47 267.3h6.26v1.5h-6.26zM126.82 270.3h6.26v1.5h-6.26z"/>
<path fill="#f5cdcd" d="M160.76 68.9h6.26v1.5h-6.26zM155.11 76.9h6.26v1.5h-6.26zM149.45 87.9h6.26v1.5h-6.26zM166.42 87.9h6.26v1.5h-6.26zM177.74 87.9h6.26v1.5h-6.26zM189.05 87.9h6.26v1.5h-6.26zM160.76 92.9h6.26v1.5h-6.26zM172.08 164.8h17.57v1.5h-17.57zM194.71 165.8h6.26v1.5h-6.26zM166.42 166.8h6.26v1.5h-6.26zM183.39 166.8h6.26v1.5h-6.26zM200.37 168.8h6.26v1.5h-6.26zM166.42 169.8h6.26v1.5h-6.26zM189.05 169.8h6.26v1.5h-6.26zM189.05 171.8h6.26v1.5h-6.26zM206.03 171.8h11.92v1.5h-11.92zM200.37 173.8h11.92v1.5h-11.92zM206.03 175.8h6.26v1.5h-6.26zM172.08 182.8h6.26v1.5h-6.26zM183.39 182.8h11.92v1.5h-11.92zM189.05 185.8h6.26v1.5h-6.26zM189.05 188.8h6.26v1.5h-6.26zM183.39 190.8h11.92v1.5h-11.92zM172.08 192.8h6.26v1.5h-6.26zM189.05 196.8h11.92v1.5h-11.92zM189.05 197.8h6.26v1.5h-6.26zM177.74 199.8h11.92v1.5h-11.92zM166.42 200.8h6.26v1.5h-6.26zM160.76 204.9h6.26v1.5h-6.26zM155.11 207.9h11.92v1.5h-11.92zM155.11 215.9h6.26v1.5h-6.26zM155.11 230.9h6.26v1.5h-6.26zM149.45 232.9h6.26v1.5h-6.26zM160.76 232.9h6.26v1.5h-6.26zM115.5 237.9h11.92v1.5h-11.92zM160.76 247.3h6.26v1.5h-6.26zM126.82 248.3h11.92v1.5h-11.92zM126.82 258.3h11.92v1.5h-11.92zM115.5 260.3h11.92v1.5h-11.92zM132.47 260.3h6.26v1.5h-6.26zM149.45 260.3h6.26v1.5h-6.26zM160.76 260.3h6.26v1.5h-6.26zM115.5 261.3h6.26v1.5h-6.26zM115.5 262.3h6.26v1.5h-6.26zM126.82 264.3h11.92v1.5h-11.92zM126.82 266.3h6.26v1.5h-6.26zM126.82 267.3h6.26v1.5h-6.26zM115.5 268.3h6.26v1.5h-6.26zM126.82 271.3h11.92v1.5h-11.92zM143.79 273.3h6.26v1.5h-6.26zM160.76 274.3h6.26v1h-6.26z"/>
<path fill="#f4c9c9" d="M155.11 70.9h6.26v1.5h-6.26zM149.45 71.9h6.26v1.5h-6.26zM155.11 87.9h6.26v1.5h-6.26zM166.42 165.8h6.26v1.5h-6.26zM183.39 165.8h11.92v1.5h-11.92zM177.74 166.8h6.26v1.5h-6.26zM189.05 167.8h6.26v1.5h-6.26zM177.74 169.8h6.26v1.5h-6.26zM166.42 171.8h6.26v1.5h-6.26zM183.39 171.8h6.26v1.5h-6.26zM211.68 174.8h6.26v1.5h-6.26zM189.05 175.8h6.26v1.5h-6.26zM206.03 176.8h6.26v1.5h-6.26zM189.05 178.8h6.26v1.5h-6.26zM177.74 182.8h6.26v1.5h-6.26zM172.08 188.8h17.57v1.5h-17.57zM194.71 190.8h6.26v1.5h-6.26zM183.39 192.8h6.26v1.5h-6.26zM194.71 192.8h6.26v1.5h-6.26zM177.74 196.8h6.26v1.5h-6.26zM177.74 197.8h11.92v1.5h-11.92zM200.37 201.8h6.26v1.5h-6.26zM160.76 205.9h6.26v1.5h-6.26zM149.45 207.9h6.26v1.5h-6.26zM115.5 210.9h6.26v1.5h-6.26zM155.11 223.9h6.26v1.5h-6.26zM149.45 230.9h6.26v1.5h-6.26zM160.76 246.9h6.26v0.9h-6.26zM143.79 248.3h6.26v1.5h-6.26zM138.13 251.3h6.26v1.5h-6.26zM115.5 252.3h6.26v1.5h-6.26zM138.13 256.3h6.26v1.5h-6.26zM121.16 257.3h6.26v1.5h-6.26zM121.16 262.3h6.26v1.5h-6.26zM138.13 263.3h11.92v1.5h-11.92zM138.13 267.3h6.26v1.5h-6.26zM121.16 269.3h6.26v1.5h-6.26zM138.13 270.3h6.26v1.5h-6.26zM149.45 271.3h6.26v1.5h-6.26zM138.13 273.3h6.26v1.5h-6.26zM149.45 274.3h11.92v1h-11.92z"/>
<path fill="#f4c4c4" d="M206.03 58.9h6.26v1.5h-6.26zM155.11 67.9h6.26v1.5h-6.26zM155.11 71.9h6.26v1.5h-6.26zM149.45 83.9h6.26v1.5h-6.26zM160.76 83.9h6.26v1.5h-6.26zM155.11 84.9h6.26v1.5h-6.26zM149.45 89.9h6.26v1.5h-6.26zM189.05 163.8h6.26v1.5h-6.26zM160.76 164.8h6.26v1.5h-6.26zM177.74 167.8h6.26v1.5h-6.26zM172.08 169.8h6.26v1.5h-6.26zM183.39 169.8h6.26v1.5h-6.26zM206.03 170.8h11.92v1.5h-11.92zM172.08 171.8h11.92v1.5h-11.92zM211.68 172.8h11.92v1.5h-11.92zM166.42 174.8h6.26v1.5h-6.26zM189.05 174.8h6.26v1.5h-6.26zM166.42 175.8h6.26v1.5h-6.26zM183.39 175.8h6.26v1.5h-6.26zM217.34 176.8h6.26v1.5h-6.26zM189.05 177.8h6.26v1.5h-6.26zM206.03 177.8h6.26v1.5h-6.26zM183.39 178.8h6.26v1.5h-6.26zM194.71 179.8h6.26v1.5h-6.26zM166.42 185.8h6.26v1.5h-6.26zM177.74 185.8h11.92v1.5h-11.92zM177.74 189.8h6.26v1.5h-6.26zM172.08 190.8h11.92v1.5h-11.92zM189.05 193.8h6.26v1.5h-6.26zM166.42 196.8h6.26v1.5h-6.26zM183.39 196.8h6.26v1.5h-6.26zM172.08 198.8h6.26v1.5h-6.26zM183.39 198.8h6.26v1.5h-6.26zM206.03 198.8h11.92v1.5h-11.92zM172.08 199.8h6.26v1.5h-6.26zM189.05 200.8h6.26v1.5h-6.26zM194.71 201.8h6.26v1.5h-6.26zM194.71 203.8h6.26v0.6h-6.26zM149.45 204.9h6.26v1.5h-6.26zM149.45 205.9h11.92v1.5h-11.92zM132.47 210.9h6.26v1.5h-6.26zM149.45 210.9h17.57v1.5h-17.57zM149.45 219.9h6.26v1.5h-6.26zM149.45 223.9h6.26v1.5h-6.26zM160.76 223.9h6.26v1.5h-6.26zM155.11 225.9h6.26v1.5h-6.26zM126.82 237.9h6.26v1.5h-6.26zM149.45 239.9h6.26v1.5h-6.26zM149.45 246.9h6.26v0.9h-6.26zM115.5 247.3h11.92v1.5h-11.92zM138.13 248.3h6.26v1.5h-6.26zM115.5 249.3h6.26v1.5h-6.26zM138.13 258.3h6.26v1.5h-6.26zM138.13 259.3h11.92v1.5h-11.92zM126.82 260.3h6.26v1.5h-6.26zM121.16 261.3h6.26v1.5h-6.26zM132.47 262.3h6.26v1.5h-6.26zM138.13 264.3h6.26v1.5h-6.26zM121.16 268.3h6.26v1.5h-6.26zM126.82 269.3h11.92v1.5h-11.92zM143.79 270.3h6.26v1.5h-6.26zM138.13 271.3h11.92v1.5h-11.92z"/>
<path fill="#f3c0c0" d="M206.03 57.9h6.26v1.5h-6.26zM160.76 77.9h6.26v1.5h-6.26zM155.11 80.9h6.26v1.5h-6.26zM155.11 81.9h11.92v1.5h-11.92zM149.45 84.9h6.26v1.5h-6.26zM149.45 86.9h6.26v1.5h-6.26zM155.11 91.9h11.92v1.5h-11.92zM160.76 93.9h6.26v0.8h-6.26zM200.37 100.2h6.26v1.5h-6.26zM166.42 163.8h6.26v1.5h-6.26zM177.74 163.8h11.92v1.5h-11.92zM200.37 163.8h6.26v1.5h-6.26zM172.08 165.8h11.92v1.5h-11.92zM172.08 166.8h6.26v1.5h-6.26zM183.39 167.8h6.26v1.5h-6.26zM189.05 170.8h6.26v1.5h-6.26zM217.34 170.8h6.26v1.5h-6.26zM217.34 171.8h6.26v1.5h-6.26zM217.34 174.8h6.26v1.5h-6.26zM177.74 175.8h6.26v1.5h-6.26zM211.68 175.8h6.26v1.5h-6.26zM211.68 176.8h6.26v1.5h-6.26zM166.42 177.8h11.92v1.5h-11.92zM183.39 177.8h6.26v1.5h-6.26zM194.71 177.8h6.26v1.5h-6.26zM166.42 178.8h17.57v1.5h-17.57zM183.39 184.8h11.92v1.5h-11.92zM172.08 185.8h6.26v1.5h-6.26zM189.05 187.8h6.26v1.5h-6.26zM172.08 189.8h6.26v1.5h-6.26zM183.39 189.8h6.26v1.5h-6.26zM177.74 191.8h6.26v1.5h-6.26zM189.05 191.8h6.26v1.5h-6.26zM172.08 196.8h6.26v1.5h-6.26zM172.08 197.8h6.26v1.5h-6.26zM194.71 198.8h6.26v1.5h-6.26zM177.74 200.8h11.92v1.5h-11.92zM194.71 202.8h11.92v1.5h-11.92zM149.45 203.9h17.57v1.5h-17.57zM121.16 210.9h11.92v1.5h-11.92zM121.16 213.9h6.26v1.5h-6.26zM149.45 225.9h6.26v1.5h-6.26zM160.76 225.9h6.26v1.5h-6.26zM115.5 233.9h11.92v1.5h-11.92zM132.47 237.9h6.26v1.5h-6.26zM132.47 249.3h6.26v1.5h-6.26zM143.79 251.3h6.26v1.5h-6.26zM121.16 252.3h6.26v1.5h-6.26zM115.5 254.3h6.26v1.5h-6.26zM126.82 255.3h6.26v1.5h-6.26zM143.79 256.3h6.26v1.5h-6.26zM115.5 257.3h6.26v1.5h-6.26zM132.47 257.3h6.26v1.5h-6.26zM143.79 258.3h6.26v1.5h-6.26zM126.82 261.3h6.26v1.5h-6.26zM126.82 262.3h6.26v1.5h-6.26zM143.79 264.3h6.26v1.5h-6.26zM138.13 266.3h6.26v1.5h-6.26zM143.79 267.3h6.26v1.5h-6.26zM115.5 269.3h6.26v1.5h-6.26zM115.5 272.3h11.92v1.5h-11.92z"/>
<path fill="#f2bbbb" d="M149.45 63.9h6.26v1.5h-6.26zM160.76 75.9h6.26v1.5h-6.26zM160.76 80.9h6.26v1.5h-6.26zM149.45 81.9h6.26v1.5h-6.26zM160.76 84.9h6.26v1.5h-6.26zM155.11 92.9h6.26v1.5h-6.26zM155.11 93.9h6.26v0.8h-6.26zM200.37 157.2h6.26v1.5h-6.26zM172.08 163.8h6.26v1.5h-6.26zM149.45 164.8h6.26v1.5h-6.26zM172.08 170.8h6.26v1.5h-6.26zM183.39 170.8h6.26v1.5h-6.26zM172.08 173.8h11.92v1.5h-11.92zM194.71 173.8h6.26v1.5h-6.26zM183.39 174.8h6.26v1.5h-6.26zM172.08 175.8h6.26v1.5h-6.26zM189.05 176.8h6.26v1.5h-6.26zM177.74 177.8h6.26v1.5h-6.26zM211.68 177.8h6.26v1.5h-6.26zM206.03 178.8h6.26v1.5h-6.26zM183.39 179.8h6.26v1.5h-6.26zM177.74 183.8h17.57v1.5h-17.57zM177.74 184.8h6.26v1.5h-6.26zM200.37 184.8h6.26v1.5h-6.26zM206.03 185.8h6.26v1.5h-6.26zM189.05 189.8h6.26v1.5h-6.26zM172.08 191.8h6.26v1.5h-6.26zM183.39 191.8h6.26v1.5h-6.26zM172.08 193.8h6.26v1.5h-6.26zM183.39 193.8h6.26v1.5h-6.26zM189.05 194.8h6.26v1.5h-6.26zM177.74 195.8h6.26v1.5h-6.26zM115.5 213.9h6.26v1.5h-6.26zM115.5 214.9h6.26v1.5h-6.26zM149.45 220.9h6.26v1.5h-6.26zM115.5 224.9h6.26v1.5h-6.26zM115.5 226.9h6.26v1.5h-6.26zM132.47 226.9h6.26v1.5h-6.26zM115.5 227.9h6.26v1.5h-6.26zM132.47 235.9h6.26v1.5h-6.26zM115.5 239.9h11.92v1.5h-11.92zM115.5 246.9h6.26v0.9h-6.26zM155.11 246.9h6.26v0.9h-6.26zM132.47 247.3h6.26v1.5h-6.26zM121.16 249.3h11.92v1.5h-11.92zM115.5 250.3h11.92v1.5h-11.92zM126.82 252.3h6.26v1.5h-6.26zM121.16 254.3h17.57v1.5h-17.57zM115.5 255.3h11.92v1.5h-11.92zM143.79 260.3h6.26v1.5h-6.26zM132.47 261.3h6.26v1.5h-6.26zM138.13 262.3h6.26v1.5h-6.26zM121.16 265.3h6.26v1.5h-6.26zM143.79 266.3h6.26v1.5h-6.26zM126.82 268.3h11.92v1.5h-11.92zM126.82 272.3h6.26v1.5h-6.26zM121.16 274.3h6.26v1h-6.26z"/>
<path fill="#f1b6b6" d="M206.03 61.9h6.26v1.5h-6.26zM160.76 66.9h6.26v1.5h-6.26zM149.45 75.9h6.26v1.5h-6.26zM155.11 77.9h6.26v1.5h-6.26zM155.11 79.9h6.26v1.5h-6.26zM155.11 89.9h11.92v1.5h-11.92zM149.45 90.9h6.26v1.5h-6.26zM149.45 91.9h6.26v1.5h-6.26zM149.45 92.9h6.26v1.5h-6.26zM194.71 100.2h6.26v1.5h-6.26zM200.37 120.2h6.26v1.5h-6.26zM200.37 122.2h6.26v1.5h-6.26zM155.11 164.8h6.26v1.5h-6.26zM166.42 167.8h11.92v1.5h-11.92zM177.74 170.8h6.26v1.5h-6.26zM177.74 172.8h11.92v1.5h-11.92zM211.68 173.8h11.92v1.5h-11.92zM172.08 174.8h6.26v1.5h-6.26zM183.39 176.8h6.26v1.5h-6.26zM149.45 177.8h6.26v1.5h-6.26zM217.34 177.8h6.26v1.5h-6.26zM172.08 179.8h6.26v1.5h-6.26zM189.05 179.8h6.26v1.5h-6.26zM177.74 181.8h6.26v1.5h-6.26zM172.08 184.8h6.26v1.5h-6.26zM177.74 186.8h6.26v1.5h-6.26zM189.05 186.8h6.26v1.5h-6.26zM177.74 187.8h6.26v1.5h-6.26zM177.74 193.8h6.26v1.5h-6.26zM172.08 194.8h11.92v1.5h-11.92zM166.42 195.8h6.26v1.5h-6.26zM166.42 197.8h6.26v1.5h-6.26zM217.34 198.8h6.26v1.5h-6.26zM115.5 208.9h11.92v1.5h-11.92zM126.82 215.9h6.26v1.5h-6.26zM115.5 216.9h6.26v1.5h-6.26zM160.76 220.9h6.26v1.5h-6.26zM115.5 223.9h6.26v1.5h-6.26zM126.82 224.9h11.92v1.5h-11.92zM121.16 226.9h6.26v1.5h-6.26zM126.82 227.9h11.92v1.5h-11.92zM121.16 232.9h6.26v1.5h-6.26zM126.82 233.9h11.92v1.5h-11.92zM115.5 235.9h11.92v1.5h-11.92zM138.13 237.9h6.26v1.5h-6.26zM132.47 243.9h6.26v1.5h-6.26zM126.82 247.3h6.26v1.5h-6.26zM138.13 247.3h6.26v1.5h-6.26zM132.47 250.3h6.26v1.5h-6.26zM132.47 252.3h6.26v1.5h-6.26zM121.16 253.3h6.26v1.5h-6.26zM132.47 255.3h11.92v1.5h-11.92zM138.13 261.3h6.26v1.5h-6.26zM115.5 265.3h6.26v1.5h-6.26zM132.47 272.3h11.92v1.5h-11.92z"/>
<path fill="#f0b2b2" d="M155.11 61.9h6.26v1.5h-6.26zM155.11 75.9h6.26v1.5h-6.26zM149.45 77.9h6.26v1.5h-6.26zM155.11 78.9h6.26v1.5h-6.26zM149.45 80.9h6.26v1.5h-6.26zM160.76 86.9h6.26v1.5h-6.26zM160.76 87.9h6.26v1.5h-6.26zM149.45 93.9h6.26v0.8h-6.26zM200.37 125.2h6.26v1.5h-6.26zM200.37 135.2h6.26v1.5h-6.26zM166.42 173.8h6.26v1.5h-6.26zM177.74 174.8h6.26v1.5h-6.26zM217.34 175.8h6.26v1.5h-6.26zM160.76 176.8h23.23v1.5h-23.23zM155.11 177.8h6.26v1.5h-6.26zM211.68 178.8h6.26v1.5h-6.26zM166.42 179.8h6.26v1.5h-6.26zM177.74 179.8h6.26v1.5h-6.26zM177.74 180.8h6.26v1.5h-6.26zM206.03 180.8h6.26v1.5h-6.26zM166.42 181.8h11.92v1.5h-11.92zM172.08 183.8h6.26v1.5h-6.26zM166.42 184.8h6.26v1.5h-6.26zM211.68 185.8h11.92v1.5h-11.92zM172.08 186.8h6.26v1.5h-6.26zM194.71 186.8h11.92v1.5h-11.92zM206.03 188.8h6.26v1.5h-6.26zM166.42 191.8h6.26v1.5h-6.26zM206.03 191.8h6.26v1.5h-6.26zM200.37 192.8h6.26v1.5h-6.26zM166.42 193.8h6.26v1.5h-6.26zM172.08 195.8h6.26v1.5h-6.26zM155.11 198.8h11.92v1.5h-11.92zM200.37 199.8h6.26v1.5h-6.26zM172.08 200.8h6.26v1.5h-6.26zM115.5 206.9h6.26v1.5h-6.26zM138.13 210.9h6.26v1.5h-6.26zM126.82 214.9h6.26v1.5h-6.26zM115.5 215.9h11.92v1.5h-11.92zM132.47 215.9h6.26v1.5h-6.26zM155.11 220.9h6.26v1.5h-6.26zM126.82 223.9h11.92v1.5h-11.92zM121.16 224.9h6.26v1.5h-6.26zM126.82 235.9h6.26v1.5h-6.26zM126.82 239.9h11.92v1.5h-11.92zM121.16 243.9h6.26v1.5h-6.26zM115.5 253.3h6.26v1.5h-6.26zM126.82 253.3h11.92v1.5h-11.92zM126.82 257.3h6.26v1.5h-6.26zM138.13 257.3h6.26v1.5h-6.26zM138.13 260.3h6.26v1.5h-6.26z"/>
<path fill="#efadad" d="M206.03 59.9h6.26v1.5h-6.26zM160.76 64.9h6.26v1.5h-6.26zM160.76 67.9h6.26v1.5h-6.26zM149.45 78.9h6.26v1.5h-6.26zM160.76 78.9h6.26v1.5h-6.26zM155.11 90.9h6.26v1.5h-6.26zM200.37 108.2h6.26v1.5h-6.26zM194.71 113.2h11.92v1.5h-11.92zM194.71 125.2h6.26v1.5h-6.26zM200.37 146.2h6.26v1.5h-6.26zM194.71 157.2h6.26v1.5h-6.26zM200.37 159.2h6.26v1.5h-6.26zM155.11 165.8h11.92v1.5h-11.92zM160.76 169.8h6.26v1.5h-6.26zM166.42 170.8h6.26v1.5h-6.26zM166.42 172.8h6.26v1.5h-6.26zM189.05 172.8h6.26v1.5h-6.26zM183.39 173.8h6.26v1.5h-6.26zM126.82 174.8h6.26v1.5h-6.26zM155.11 176.8h6.26v1.5h-6.26zM189.05 180.8h6.26v1.5h-6.26zM211.68 180.8h6.26v1.5h-6.26zM183.39 181.8h11.92v1.5h-11.92zM206.03 181.8h11.92v1.5h-11.92zM166.42 183.8h6.26v1.5h-6.26zM166.42 186.8h6.26v1.5h-6.26zM183.39 186.8h6.26v1.5h-6.26zM166.42 187.8h11.92v1.5h-11.92zM183.39 187.8h6.26v1.5h-6.26zM155.11 188.8h6.26v1.5h-6.26zM166.42 189.8h6.26v1.5h-6.26zM211.68 191.8h6.26v1.5h-6.26zM206.03 192.8h6.26v1.5h-6.26zM166.42 194.8h6.26v1.5h-6.26zM183.39 194.8h6.26v1.5h-6.26zM189.05 195.8h6.26v1.5h-6.26zM121.16 198.8h6.26v1.5h-6.26zM211.68 199.8h6.26v1.5h-6.26zM160.76 200.8h6.26v1.5h-6.26zM160.76 201.8h6.26v1.5h-6.26zM115.5 203.9h11.92v1.5h-11.92zM132.47 203.9h6.26v1.5h-6.26zM115.5 204.9h6.26v1.5h-6.26zM132.47 204.9h6.26v1.5h-6.26zM121.16 206.9h6.26v1.5h-6.26zM126.82 208.9h11.92v1.5h-11.92zM115.5 212.9h11.92v1.5h-11.92zM126.82 213.9h6.26v1.5h-6.26zM121.16 214.9h6.26v1.5h-6.26zM132.47 214.9h6.26v1.5h-6.26zM132.47 216.9h6.26v1.5h-6.26zM155.11 217.9h6.26v1.5h-6.26zM132.47 222.9h6.26v1.5h-6.26zM121.16 223.9h6.26v1.5h-6.26zM126.82 226.9h6.26v1.5h-6.26zM121.16 227.9h6.26v1.5h-6.26zM115.5 232.9h6.26v1.5h-6.26zM126.82 232.9h6.26v1.5h-6.26zM115.5 234.9h6.26v1.5h-6.26zM115.5 238.9h6.26v1.5h-6.26zM115.5 242.9h11.92v1.5h-11.92zM115.5 243.9h6.26v1.5h-6.26zM132.47 246.9h6.26v0.9h-6.26zM143.79 247.3h6.26v1.5h-6.26zM126.82 250.3h6.26v1.5h-6.26zM143.79 252.3h6.26v1.5h-6.26zM143.79 261.3h6.26v1.5h-6.26zM132.47 265.3h6.26v1.5h-6.26zM138.13 269.3h6.26v1.5h-6.26zM115.5 274.3h6.26v1h-6.26z"/>
<path fill="#eea9a9" d="M160.76 58.9h6.26v1.5h-6.26zM149.45 62.9h6.26v1.5h-6.26zM149.45 64.9h11.92v1.5h-11.92zM206.03 64.9h6.26v1.5h-6.26zM200.37 66.9h6.26v1.5h-6.26zM160.76 71.9h6.26v1.5h-6.26zM155.11 74.9h6.26v1.5h-6.26zM155.11 86.9h6.26v1.5h-6.26zM160.76 90.9h6.26v1.5h-6.26zM200.37 96.2h6.26v1.5h-6.26zM194.71 122.2h6.26v1.5h-6.26zM200.37 126.2h6.26v1.5h-6.26zM194.71 146.2h6.26v1.5h-6.26zM194.71 163.8h6.26v1.5h-6.26zM160.76 168.8h6.26v1.5h-6.26zM189.05 173.8h6.26v1.5h-6.26zM121.16 174.8h6.26v1.5h-6.26zM132.47 174.8h6.26v1.5h-6.26zM160.76 177.8h6.26v1.5h-6.26zM206.03 179.8h11.92v1.5h-11.92zM206.03 182.8h6.26v1.5h-6.26zM206.03 183.8h6.26v1.5h-6.26zM194.71 184.8h6.26v1.5h-6.26zM121.16 185.8h11.92v1.5h-11.92zM149.45 185.8h6.26v1.5h-6.26zM206.03 187.8h11.92v1.5h-11.92zM160.76 188.8h6.26v1.5h-6.26zM211.68 188.8h6.26v1.5h-6.26zM183.39 195.8h6.26v1.5h-6.26zM206.03 197.8h6.26v1.5h-6.26zM126.82 198.8h6.26v1.5h-6.26zM155.11 199.8h6.26v1.5h-6.26zM155.11 200.8h6.26v1.5h-6.26zM166.42 201.8h6.26v1.5h-6.26zM206.03 201.8h6.26v1.5h-6.26zM166.42 202.8h6.26v1.5h-6.26zM206.03 202.8h6.26v1.5h-6.26zM126.82 203.9h6.26v1.5h-6.26zM121.16 204.9h6.26v1.5h-6.26zM126.82 206.9h6.26v1.5h-6.26zM115.5 207.9h6.26v1.5h-6.26zM132.47 212.9h6.26v1.5h-6.26zM132.47 213.9h6.26v1.5h-6.26zM121.16 216.9h6.26v1.5h-6.26zM160.76 217.9h6.26v1.5h-6.26zM115.5 220.9h6.26v1.5h-6.26zM126.82 220.9h6.26v1.5h-6.26zM121.16 221.9h6.26v1.5h-6.26zM126.82 222.9h6.26v1.5h-6.26zM126.82 225.9h6.26v1.5h-6.26zM138.13 226.9h6.26v1.5h-6.26zM132.47 232.9h6.26v1.5h-6.26zM138.13 233.9h6.26v1.5h-6.26zM132.47 234.9h6.26v1.5h-6.26zM132.47 238.9h6.26v1.5h-6.26zM115.5 240.9h11.92v1.5h-11.92zM126.82 242.9h11.92v1.5h-11.92zM126.82 243.9h6.26v1.5h-6.26zM138.13 249.3h6.26v1.5h-6.26zM138.13 250.3h6.26v1.5h-6.26zM138.13 252.3h6.26v1.5h-6.26zM138.13 254.3h6.26v1.5h-6.26zM143.79 257.3h6.26v1.5h-6.26zM143.79 262.3h6.26v1.5h-6.26zM126.82 265.3h6.26v1.5h-6.26zM138.13 268.3h11.92v1.5h-11.92zM126.82 274.3h11.92v1h-11.92z"/>
<path fill="#eea4a4" d="M155.11 57.9h11.92v1.5h-11.92zM200.37 57.9h6.26v1.5h-6.26zM149.45 58.9h11.92v1.5h-11.92zM149.45 60.9h6.26v1.5h-6.26zM149.45 61.9h6.26v1.5h-6.26zM200.37 61.9h6.26v1.5h-6.26zM155.11 62.9h11.92v1.5h-11.92zM160.76 63.9h6.26v1.5h-6.26zM206.03 63.9h6.26v1.5h-6.26zM149.45 67.9h6.26v1.5h-6.26zM149.45 72.9h17.57v1.5h-17.57zM149.45 73.9h6.26v1.5h-6.26zM160.76 73.9h6.26v1.5h-6.26zM149.45 74.9h6.26v1.5h-6.26zM160.76 74.9h6.26v1.5h-6.26zM149.45 79.9h6.26v1.5h-6.26zM160.76 79.9h6.26v1.5h-6.26zM200.37 82.9h6.26v1.5h-6.26zM200.37 86.9h6.26v1.5h-6.26zM200.37 101.2h6.26v1.5h-6.26zM194.71 108.2h6.26v1.5h-6.26zM126.82 118.2h6.26v1.5h-6.26zM194.71 120.2h6.26v1.5h-6.26zM200.37 129.2h6.26v1.5h-6.26zM194.71 135.2h6.26v1.5h-6.26zM194.71 142.2h11.92v1.5h-11.92zM194.71 159.2h6.26v1.5h-6.26zM149.45 165.8h6.26v1.5h-6.26zM155.11 168.8h6.26v1.5h-6.26zM115.5 171.8h6.26v1.5h-6.26zM115.5 174.8h6.26v1.5h-6.26zM138.13 174.8h6.26v1.5h-6.26zM149.45 175.8h11.92v1.5h-11.92zM126.82 178.8h6.26v1.5h-6.26zM217.34 178.8h6.26v1.5h-6.26zM166.42 180.8h6.26v1.5h-6.26zM115.5 185.8h6.26v1.5h-6.26zM132.47 185.8h11.92v1.5h-11.92zM160.76 185.8h6.26v1.5h-6.26zM206.03 189.8h6.26v1.5h-6.26zM211.68 192.8h6.26v1.5h-6.26zM206.03 195.8h6.26v1.5h-6.26zM211.68 197.8h6.26v1.5h-6.26zM132.47 198.8h11.92v1.5h-11.92zM149.45 198.8h6.26v1.5h-6.26zM194.71 199.8h6.26v1.5h-6.26zM206.03 199.8h6.26v1.5h-6.26zM149.45 200.8h6.26v1.5h-6.26zM149.45 201.8h6.26v1.5h-6.26zM189.05 201.8h6.26v1.5h-6.26zM183.39 202.8h11.92v1.5h-11.92zM206.03 203.9h6.26v1.5h-6.26zM126.82 204.9h6.26v1.5h-6.26zM206.03 204.9h6.26v1.5h-6.26zM132.47 206.9h6.26v1.5h-6.26zM206.03 207.9h6.26v1.5h-6.26zM138.13 208.9h6.26v1.5h-6.26zM115.5 209.9h11.92v1.5h-11.92zM115.5 211.9h11.92v1.5h-11.92zM126.82 212.9h6.26v1.5h-6.26zM115.5 217.9h11.92v1.5h-11.92zM149.45 217.9h6.26v1.5h-6.26zM115.5 218.9h23.23v1.5h-23.23zM121.16 220.9h6.26v1.5h-6.26zM132.47 220.9h6.26v1.5h-6.26zM115.5 221.9h6.26v1.5h-6.26zM115.5 222.9h11.92v1.5h-11.92zM138.13 223.9h6.26v1.5h-6.26zM138.13 224.9h6.26v1.5h-6.26zM115.5 225.9h11.92v1.5h-11.92zM138.13 227.9h6.26v1.5h-6.26zM115.5 228.9h11.92v1.5h-11.92zM115.5 230.9h6.26v1.5h-6.26zM121.16 234.9h6.26v1.5h-6.26zM138.13 235.9h6.26v1.5h-6.26zM143.79 237.9h6.26v1.5h-6.26zM121.16 238.9h11.92v1.5h-11.92zM138.13 239.9h6.26v1.5h-6.26zM115.5 241.9h6.26v1.5h-6.26zM121.16 246.9h11.92v0.9h-11.92zM143.79 249.3h6.26v1.5h-6.26zM138.13 265.3h6.26v1.5h-6.26zM143.79 269.3h6.26v1.5h-6.26z"/>
<path fill="#eda0a0" d="M149.45 57.9h6.26v1.5h-6.26zM155.11 59.9h6.26v1.5h-6.26zM160.76 61.9h6.26v1.5h-6.26zM155.11 63.9h6.26v1.5h-6.26zM211.68 64.9h6.26v1.5h-6.26zM211.68 81.9h6.26v1.5h-6.26zM160.76 82.9h6.26v1.5h-6.26zM155.11 85.9h6.26v1.5h-6.26zM194.71 101.2h6.26v1.5h-6.26zM200.37 112.2h6.26v1.5h-6.26zM115.5 118.2h11.92v1.5h-11.92zM132.47 118.2h11.92v1.5h-11.92zM194.71 126.2h6.26v1.5h-6.26zM200.37 127.2h6.26v1.5h-6.26zM200.37 128.2h6.26v1.5h-6.26zM194.71 129.2h6.26v1.5h-6.26zM194.71 145.2h6.26v1.5h-6.26zM121.16 162.2h11.92v1.5h-11.92zM160.76 167.8h6.26v1.5h-6.26zM149.45 169.8h11.92v1.5h-11.92zM126.82 171.8h6.26v1.5h-6.26zM160.76 171.8h6.26v1.5h-6.26zM160.76 172.8h6.26v1.5h-6.26zM172.08 172.8h6.26v1.5h-6.26zM149.45 173.8h6.26v1.5h-6.26zM160.76 174.8h6.26v1.5h-6.26zM160.76 175.8h6.26v1.5h-6.26zM149.45 176.8h6.26v1.5h-6.26zM115.5 177.8h6.26v1.5h-6.26zM126.82 177.8h11.92v1.5h-11.92zM115.5 178.8h6.26v1.5h-6.26zM217.34 179.8h6.26v1.5h-6.26zM160.76 180.8h6.26v1.5h-6.26zM183.39 180.8h6.26v1.5h-6.26zM217.34 180.8h6.26v1.5h-6.26zM160.76 181.8h6.26v1.5h-6.26zM126.82 182.8h6.26v1.5h-6.26zM211.68 182.8h6.26v1.5h-6.26zM211.68 183.8h11.92v1.5h-11.92zM160.76 184.8h6.26v1.5h-6.26zM206.03 184.8h11.92v1.5h-11.92zM155.11 185.8h6.26v1.5h-6.26zM149.45 188.8h6.26v1.5h-6.26zM160.76 190.8h6.26v1.5h-6.26zM160.76 191.8h6.26v1.5h-6.26zM217.34 191.8h6.26v1.5h-6.26zM126.82 192.8h6.26v1.5h-6.26zM160.76 192.8h6.26v1.5h-6.26zM217.34 192.8h6.26v1.5h-6.26zM126.82 193.8h6.26v1.5h-6.26zM160.76 193.8h6.26v1.5h-6.26zM206.03 193.8h6.26v1.5h-6.26zM160.76 194.8h6.26v1.5h-6.26zM206.03 194.8h6.26v1.5h-6.26zM160.76 195.8h6.26v1.5h-6.26zM217.34 195.8h6.26v1.5h-6.26zM206.03 196.8h11.92v1.5h-11.92zM160.76 197.8h6.26v1.5h-6.26zM217.34 197.8h6.26v1.5h-6.26zM115.5 198.8h6.26v1.5h-6.26zM143.79 198.8h6.26v1.5h-6.26zM160.76 199.8h6.26v1.5h-6.26zM217.34 199.8h6.26v1.5h-6.26zM206.03 200.8h6.26v1.5h-6.26zM211.68 201.8h11.92v1.5h-11.92zM172.08 202.8h6.26v1.5h-6.26zM217.34 202.8h6.26v1.5h-6.26zM132.47 205.9h6.26v1.5h-6.26zM121.16 207.9h17.57v1.5h-17.57zM211.68 207.9h11.92v1.5h-11.92zM132.47 209.9h6.26v1.5h-6.26zM143.79 210.9h6.26v1.5h-6.26zM132.47 211.9h6.26v1.5h-6.26zM211.68 211.9h6.26v1.5h-6.26zM138.13 215.9h11.92v1.5h-11.92zM126.82 216.9h6.26v1.5h-6.26zM126.82 217.9h11.92v1.5h-11.92zM115.5 219.9h6.26v1.5h-6.26zM126.82 221.9h11.92v1.5h-11.92zM132.47 225.9h6.26v1.5h-6.26zM143.79 226.9h6.26v1.5h-6.26zM143.79 227.9h6.26v1.5h-6.26zM132.47 228.9h6.26v1.5h-6.26zM121.16 230.9h6.26v1.5h-6.26zM138.13 232.9h6.26v1.5h-6.26zM115.5 236.9h6.26v1.5h-6.26zM126.82 236.9h6.26v1.5h-6.26zM143.79 239.9h6.26v1.5h-6.26zM126.82 240.9h11.92v1.5h-11.92zM121.16 241.9h17.57v1.5h-17.57zM138.13 243.9h6.26v1.5h-6.26zM115.5 244.9h6.26v1.5h-6.26zM121.16 245.9h6.26v1.5h-6.26zM138.13 246.9h6.26v0.9h-6.26zM143.79 272.3h6.26v1.5h-6.26zM138.13 274.3h6.26v1h-6.26z"/>
<path fill="#ec9b9b" d="M160.76 59.9h6.26v1.5h-6.26zM206.03 60.9h6.26v1.5h-6.26zM121.16 63.9h6.26v1.5h-6.26zM115.5 64.9h17.57v1.5h-17.57zM200.37 64.9h6.26v1.5h-6.26zM206.03 65.9h6.26v1.5h-6.26zM200.37 69.9h6.26v1.5h-6.26zM211.68 73.9h6.26v1.5h-6.26zM200.37 74.9h6.26v1.5h-6.26zM211.68 76.9h6.26v1.5h-6.26zM200.37 81.9h11.92v1.5h-11.92zM149.45 82.9h11.92v1.5h-11.92zM194.71 82.9h6.26v1.5h-6.26zM211.68 83.9h6.26v1.5h-6.26zM149.45 85.9h6.26v1.5h-6.26zM160.76 85.9h6.26v1.5h-6.26zM200.37 90.9h6.26v1.5h-6.26zM211.68 91.9h6.26v1.5h-6.26zM200.37 92.9h6.26v1.5h-6.26zM211.68 92.9h6.26v1.5h-6.26zM115.5 93.9h6.26v0.8h-6.26zM194.71 96.2h6.26v1.5h-6.26zM126.82 97.2h6.26v1.5h-6.26zM194.71 111.2h11.92v1.5h-11.92zM200.37 116.2h6.26v1.5h-6.26zM194.71 127.2h6.26v1.5h-6.26zM206.03 129.2h6.26v1.5h-6.26zM200.37 130.2h6.26v1.5h-6.26zM200.37 150.2h6.26v1.5h-6.26zM200.37 155.2h6.26v1.5h-6.26zM132.47 162.2h11.92v1.5h-11.92zM155.11 166.8h11.92v1.5h-11.92zM149.45 168.8h6.26v1.5h-6.26zM149.45 170.8h17.57v1.5h-17.57zM132.47 171.8h6.26v1.5h-6.26zM149.45 171.8h11.92v1.5h-11.92zM149.45 172.8h11.92v1.5h-11.92zM160.76 173.8h6.26v1.5h-6.26zM143.79 174.8h17.57v1.5h-17.57zM194.71 175.8h11.92v1.5h-11.92zM138.13 177.8h6.26v1.5h-6.26zM121.16 178.8h6.26v1.5h-6.26zM138.13 178.8h6.26v1.5h-6.26zM160.76 178.8h6.26v1.5h-6.26zM115.5 179.8h6.26v1.5h-6.26zM126.82 179.8h6.26v1.5h-6.26zM155.11 180.8h6.26v1.5h-6.26zM217.34 181.8h6.26v1.5h-6.26zM115.5 182.8h6.26v1.5h-6.26zM155.11 183.8h11.92v1.5h-11.92zM149.45 184.8h11.92v1.5h-11.92zM143.79 185.8h6.26v1.5h-6.26zM132.47 186.8h6.26v1.5h-6.26zM160.76 186.8h6.26v1.5h-6.26zM160.76 187.8h6.26v1.5h-6.26zM217.34 187.8h6.26v1.5h-6.26zM217.34 188.8h6.26v1.5h-6.26zM160.76 189.8h6.26v1.5h-6.26zM211.68 189.8h6.26v1.5h-6.26zM155.11 190.8h6.26v1.5h-6.26zM206.03 190.8h6.26v1.5h-6.26zM149.45 191.8h11.92v1.5h-11.92zM121.16 192.8h6.26v1.5h-6.26zM138.13 192.8h6.26v1.5h-6.26zM149.45 192.8h11.92v1.5h-11.92zM155.11 193.8h6.26v1.5h-6.26zM194.71 193.8h11.92v1.5h-11.92zM155.11 194.8h6.26v1.5h-6.26zM149.45 195.8h11.92v1.5h-11.92zM211.68 195.8h6.26v1.5h-6.26zM155.11 197.8h6.26v1.5h-6.26zM149.45 199.8h6.26v1.5h-6.26zM211.68 200.8h11.92v1.5h-11.92zM155.11 201.8h6.26v1.5h-6.26zM183.39 201.8h6.26v1.5h-6.26zM211.68 202.8h6.26v1.5h-6.26zM160.76 203.8h6.26v0.6h-6.26zM206.03 203.8h11.92v0.6h-11.92zM115.5 205.9h11.92v1.5h-11.92zM138.13 206.9h11.92v1.5h-11.92zM126.82 209.9h6.26v1.5h-6.26zM206.03 210.9h17.57v1.5h-17.57zM126.82 211.9h6.26v1.5h-6.26zM217.34 211.9h6.26v1.5h-6.26zM138.13 213.9h11.92v1.5h-11.92zM138.13 214.9h11.92v1.5h-11.92zM138.13 216.9h6.26v1.5h-6.26zM138.13 217.9h6.26v1.5h-6.26zM121.16 219.9h17.57v1.5h-17.57zM143.79 223.9h6.26v1.5h-6.26zM143.79 224.9h6.26v1.5h-6.26zM126.82 228.9h6.26v1.5h-6.26zM115.5 229.9h11.92v1.5h-11.92zM126.82 230.9h6.26v1.5h-6.26zM115.5 231.9h17.57v1.5h-17.57zM143.79 233.9h6.26v1.5h-6.26zM126.82 234.9h6.26v1.5h-6.26zM143.79 235.9h6.26v1.5h-6.26zM121.16 236.9h6.26v1.5h-6.26zM138.13 242.9h6.26v1.5h-6.26zM143.79 243.9h6.26v1.5h-6.26zM121.16 244.9h11.92v1.5h-11.92zM115.5 245.9h6.26v1.5h-6.26zM126.82 245.9h11.92v1.5h-11.92zM143.79 250.3h6.26v1.5h-6.26zM143.79 253.3h6.26v1.5h-6.26z"/>
<path fill="#eb9797" d="M194.71 57.9h6.26v1.5h-6.26zM211.68 57.9h6.26v1.5h-6.26zM211.68 58.9h11.92v1.5h-11.92zM149.45 59.9h6.26v1.5h-6.26zM155.11 60.9h11.92v1.5h-11.92zM211.68 61.9h6.26v1.5h-6.26zM206.03 62.9h6.26v1.5h-6.26zM115.5 63.9h6.26v1.5h-6.26zM138.13 63.9h6.26v1.5h-6.26zM200.37 65.9h6.26v1.5h-6.26zM194.71 66.9h6.26v1.5h-6.26zM115.5 68.9h6.26v1.5h-6.26zM126.82 68.9h6.26v1.5h-6.26zM211.68 68.9h6.26v1.5h-6.26zM194.71 69.9h6.26v1.5h-6.26zM206.03 71.9h11.92v1.5h-11.92zM121.16 73.9h6.26v1.5h-6.26zM155.11 73.9h6.26v1.5h-6.26zM217.34 73.9h6.26v1.5h-6.26zM126.82 76.9h6.26v1.5h-6.26zM200.37 77.9h11.92v1.5h-11.92zM217.34 77.9h6.26v1.5h-6.26zM200.37 78.9h6.26v1.5h-6.26zM217.34 81.9h6.26v1.5h-6.26zM200.37 83.9h6.26v1.5h-6.26zM200.37 85.9h17.57v1.5h-17.57zM126.82 86.9h6.26v1.5h-6.26zM138.13 86.9h6.26v1.5h-6.26zM149.45 88.9h6.26v1.5h-6.26zM200.37 88.9h6.26v1.5h-6.26zM206.03 91.9h6.26v1.5h-6.26zM132.47 93.9h11.92v0.8h-11.92zM200.37 93.9h6.26v0.8h-6.26zM206.03 95.2h17.57v1.5h-17.57zM132.47 96.2h6.26v1.5h-6.26zM115.5 97.2h6.26v1.5h-6.26zM132.47 97.2h11.92v1.5h-11.92zM200.37 103.2h6.26v1.5h-6.26zM200.37 110.2h6.26v1.5h-6.26zM143.79 118.2h6.26v1.5h-6.26zM200.37 119.2h6.26v1.5h-6.26zM217.34 129.2h6.26v1.5h-6.26zM194.71 130.2h6.26v1.5h-6.26zM132.47 146.2h6.26v1.5h-6.26zM200.37 148.2h6.26v1.5h-6.26zM132.47 150.2h6.26v1.5h-6.26zM194.71 151.2h6.26v1.5h-6.26zM138.13 152.2h6.26v1.5h-6.26zM121.16 160.2h23.23v1.5h-23.23zM115.5 162.2h6.26v1.5h-6.26zM121.16 163.2h6.26v1.1h-6.26zM149.45 163.8h6.26v1.5h-6.26zM160.76 163.8h6.26v1.5h-6.26zM149.45 167.8h11.92v1.5h-11.92zM166.42 168.8h6.26v1.5h-6.26zM183.39 168.8h6.26v1.5h-6.26zM132.47 169.8h6.26v1.5h-6.26zM115.5 170.8h28.89v1.5h-28.89zM121.16 171.8h6.26v1.5h-6.26zM138.13 171.8h11.92v1.5h-11.92zM155.11 173.8h6.26v1.5h-6.26zM121.16 177.8h6.26v1.5h-6.26zM143.79 177.8h6.26v1.5h-6.26zM149.45 178.8h11.92v1.5h-11.92zM121.16 179.8h6.26v1.5h-6.26zM138.13 179.8h6.26v1.5h-6.26zM155.11 179.8h11.92v1.5h-11.92zM149.45 180.8h6.26v1.5h-6.26zM172.08 180.8h6.26v1.5h-6.26zM149.45 181.8h11.92v1.5h-11.92zM121.16 182.8h6.26v1.5h-6.26zM138.13 182.8h6.26v1.5h-6.26zM155.11 182.8h11.92v1.5h-11.92zM217.34 182.8h6.26v1.5h-6.26zM217.34 184.8h6.26v1.5h-6.26zM126.82 186.8h6.26v1.5h-6.26zM155.11 186.8h6.26v1.5h-6.26zM206.03 186.8h11.92v1.5h-11.92zM155.11 187.8h6.26v1.5h-6.26zM155.11 189.8h6.26v1.5h-6.26zM217.34 189.8h6.26v1.5h-6.26zM149.45 190.8h6.26v1.5h-6.26zM115.5 192.8h6.26v1.5h-6.26zM132.47 192.8h6.26v1.5h-6.26zM115.5 193.8h11.92v1.5h-11.92zM132.47 193.8h11.92v1.5h-11.92zM149.45 193.8h6.26v1.5h-6.26zM211.68 193.8h6.26v1.5h-6.26zM149.45 194.8h6.26v1.5h-6.26zM211.68 194.8h11.92v1.5h-11.92zM149.45 196.8h6.26v1.5h-6.26zM160.76 196.8h6.26v1.5h-6.26zM217.34 196.8h6.26v1.5h-6.26zM149.45 197.8h6.26v1.5h-6.26zM121.16 200.8h17.57v1.5h-17.57zM177.74 201.8h6.26v1.5h-6.26zM149.45 203.8h11.92v0.6h-11.92zM166.42 203.8h6.26v0.6h-6.26zM138.13 203.9h6.26v1.5h-6.26zM126.82 205.9h6.26v1.5h-6.26zM206.03 205.9h6.26v1.5h-6.26zM143.79 208.9h6.26v1.5h-6.26zM138.13 212.9h11.92v1.5h-11.92zM138.13 218.9h6.26v1.5h-6.26zM211.68 221.9h6.26v1.5h-6.26zM138.13 222.9h6.26v1.5h-6.26zM126.82 229.9h6.26v1.5h-6.26zM132.47 230.9h6.26v1.5h-6.26zM132.47 231.9h6.26v1.5h-6.26zM143.79 232.9h6.26v1.5h-6.26zM217.34 233.9h6.26v1.5h-6.26zM132.47 236.9h6.26v1.5h-6.26zM206.03 237.9h6.26v1.5h-6.26zM217.34 237.9h6.26v1.5h-6.26zM138.13 238.9h6.26v1.5h-6.26zM217.34 238.9h6.26v1.5h-6.26zM138.13 241.9h6.26v1.5h-6.26zM132.47 244.9h6.26v1.5h-6.26zM143.79 246.9h6.26v0.9h-6.26zM138.13 253.3h6.26v1.5h-6.26zM143.79 254.3h6.26v1.5h-6.26zM143.79 255.3h6.26v1.5h-6.26z"/>
<path fill="#ea9292" d="M217.34 61.9h6.26v1.5h-6.26zM132.47 63.9h6.26v1.5h-6.26zM132.47 64.9h11.92v1.5h-11.92zM194.71 64.9h6.26v1.5h-6.26zM217.34 64.9h6.26v1.5h-6.26zM115.5 65.9h6.26v1.5h-6.26zM126.82 65.9h6.26v1.5h-6.26zM211.68 65.9h6.26v1.5h-6.26zM206.03 66.9h11.92v1.5h-11.92zM206.03 67.9h11.92v1.5h-11.92zM121.16 68.9h6.26v1.5h-6.26zM132.47 68.9h11.92v1.5h-11.92zM206.03 68.9h6.26v1.5h-6.26zM149.45 69.9h6.26v1.5h-6.26zM211.68 69.9h6.26v1.5h-6.26zM200.37 70.9h6.26v1.5h-6.26zM211.68 70.9h6.26v1.5h-6.26zM115.5 71.9h6.26v1.5h-6.26zM126.82 71.9h6.26v1.5h-6.26zM200.37 71.9h6.26v1.5h-6.26zM200.37 72.9h6.26v1.5h-6.26zM115.5 73.9h6.26v1.5h-6.26zM132.47 73.9h11.92v1.5h-11.92zM200.37 73.9h11.92v1.5h-11.92zM194.71 74.9h6.26v1.5h-6.26zM200.37 75.9h6.26v1.5h-6.26zM121.16 76.9h6.26v1.5h-6.26zM138.13 76.9h6.26v1.5h-6.26zM200.37 76.9h6.26v1.5h-6.26zM217.34 76.9h6.26v1.5h-6.26zM211.68 77.9h6.26v1.5h-6.26zM211.68 78.9h6.26v1.5h-6.26zM200.37 79.9h6.26v1.5h-6.26zM211.68 79.9h6.26v1.5h-6.26zM200.37 80.9h6.26v1.5h-6.26zM211.68 80.9h6.26v1.5h-6.26zM115.5 85.9h6.26v1.5h-6.26zM115.5 86.9h6.26v1.5h-6.26zM194.71 86.9h6.26v1.5h-6.26zM160.76 88.9h6.26v1.5h-6.26zM200.37 89.9h6.26v1.5h-6.26zM211.68 89.9h6.26v1.5h-6.26zM200.37 91.9h6.26v1.5h-6.26zM217.34 91.9h6.26v1.5h-6.26zM194.71 92.9h6.26v1.5h-6.26zM121.16 93.9h6.26v0.8h-6.26zM121.16 94.2h11.92v1.5h-11.92zM121.16 95.2h6.26v1.5h-6.26zM121.16 96.2h6.26v1.5h-6.26zM138.13 96.2h6.26v1.5h-6.26zM121.16 97.2h6.26v1.5h-6.26zM206.03 97.2h6.26v1.5h-6.26zM194.71 99.2h6.26v1.5h-6.26zM194.71 103.2h6.26v1.5h-6.26zM200.37 106.2h6.26v1.5h-6.26zM194.71 107.2h6.26v1.5h-6.26zM200.37 109.2h6.26v1.5h-6.26zM121.16 111.2h6.26v1.5h-6.26zM132.47 111.2h11.92v1.5h-11.92zM194.71 112.2h6.26v1.5h-6.26zM200.37 114.2h6.26v1.5h-6.26zM132.47 115.2h6.26v1.5h-6.26zM206.03 115.2h17.57v1.5h-17.57zM121.16 117.2h23.23v1.5h-23.23zM200.37 117.2h6.26v1.5h-6.26zM121.16 122.2h6.26v1.5h-6.26zM121.16 123.2h6.26v1.5h-6.26zM200.37 123.2h6.26v1.5h-6.26zM194.71 128.2h6.26v1.5h-6.26zM211.68 129.2h6.26v1.5h-6.26zM194.71 133.2h11.92v1.5h-11.92zM217.34 134.2h6.26v1.5h-6.26zM200.37 144.2h6.26v1.5h-6.26zM121.16 146.2h6.26v1.5h-6.26zM138.13 146.2h6.26v1.5h-6.26zM206.03 146.2h11.92v1.5h-11.92zM200.37 151.2h6.26v1.5h-6.26zM115.5 152.2h11.92v1.5h-11.92zM200.37 153.2h6.26v1.5h-6.26zM211.68 153.2h11.92v1.5h-11.92zM126.82 154.2h17.57v1.5h-17.57zM200.37 154.2h6.26v1.5h-6.26zM121.16 157.2h6.26v1.5h-6.26zM200.37 158.2h6.26v1.5h-6.26zM115.5 160.2h6.26v1.5h-6.26zM143.79 160.2h6.26v1.5h-6.26zM138.13 163.2h6.26v1.1h-6.26zM200.37 163.2h6.26v1.1h-6.26zM155.11 163.8h6.26v1.5h-6.26zM149.45 166.8h6.26v1.5h-6.26zM126.82 169.8h6.26v1.5h-6.26zM121.16 176.8h6.26v1.5h-6.26zM132.47 178.8h6.26v1.5h-6.26zM143.79 178.8h6.26v1.5h-6.26zM132.47 179.8h6.26v1.5h-6.26zM149.45 179.8h6.26v1.5h-6.26zM115.5 180.8h6.26v1.5h-6.26zM126.82 180.8h6.26v1.5h-6.26zM126.82 181.8h6.26v1.5h-6.26zM132.47 182.8h6.26v1.5h-6.26zM149.45 183.8h6.26v1.5h-6.26zM115.5 186.8h11.92v1.5h-11.92zM138.13 186.8h17.57v1.5h-17.57zM149.45 187.8h6.26v1.5h-6.26zM126.82 188.8h6.26v1.5h-6.26zM126.82 189.8h6.26v1.5h-6.26zM149.45 189.8h6.26v1.5h-6.26zM211.68 190.8h11.92v1.5h-11.92zM143.79 192.8h6.26v1.5h-6.26zM217.34 193.8h6.26v1.5h-6.26zM126.82 195.8h6.26v1.5h-6.26zM121.16 196.8h6.26v1.5h-6.26zM155.11 196.8h6.26v1.5h-6.26zM155.11 202.8h11.92v1.5h-11.92zM115.5 203.8h6.26v0.6h-6.26zM217.34 203.8h6.26v0.6h-6.26zM143.79 203.9h6.26v1.5h-6.26zM138.13 204.9h11.92v1.5h-11.92zM138.13 205.9h6.26v1.5h-6.26zM206.03 206.9h6.26v1.5h-6.26zM138.13 207.9h6.26v1.5h-6.26zM138.13 209.9h6.26v1.5h-6.26zM138.13 211.9h6.26v1.5h-6.26zM206.03 211.9h6.26v1.5h-6.26zM217.34 214.9h6.26v1.5h-6.26zM143.79 216.9h6.26v1.5h-6.26zM138.13 220.9h11.92v1.5h-11.92zM138.13 221.9h6.26v1.5h-6.26zM206.03 221.9h6.26v1.5h-6.26zM143.79 222.9h6.26v1.5h-6.26zM206.03 224.9h17.57v1.5h-17.57zM138.13 225.9h6.26v1.5h-6.26zM138.13 228.9h6.26v1.5h-6.26zM211.68 228.9h6.26v1.5h-6.26zM132.47 229.9h6.26v1.5h-6.26zM211.68 229.9h6.26v1.5h-6.26zM206.03 233.9h6.26v1.5h-6.26zM138.13 234.9h6.26v1.5h-6.26zM217.34 235.9h6.26v1.5h-6.26zM206.03 236.9h6.26v1.5h-6.26zM211.68 238.9h6.26v1.5h-6.26zM138.13 240.9h6.26v1.5h-6.26zM143.79 241.9h6.26v1.5h-6.26zM206.03 241.9h17.57v1.5h-17.57zM217.34 243.9h6.26v1.5h-6.26zM206.03 244.9h6.26v1.5h-6.26zM217.34 246.9h6.26v0.9h-6.26zM143.79 265.3h6.26v1.5h-6.26zM143.79 274.3h6.26v1h-6.26z"/>
<path fill="#e98e8e" d="M132.47 57.9h6.26v1.5h-6.26zM217.34 57.9h6.26v1.5h-6.26zM211.68 59.9h6.26v1.5h-6.26zM194.71 61.9h6.26v1.5h-6.26zM126.82 63.9h6.26v1.5h-6.26zM211.68 63.9h6.26v1.5h-6.26zM121.16 65.9h6.26v1.5h-6.26zM132.47 65.9h6.26v1.5h-6.26zM200.37 67.9h6.26v1.5h-6.26zM217.34 67.9h6.26v1.5h-6.26zM143.79 68.9h6.26v1.5h-6.26zM200.37 68.9h6.26v1.5h-6.26zM217.34 68.9h6.26v1.5h-6.26zM155.11 69.9h6.26v1.5h-6.26zM217.34 69.9h6.26v1.5h-6.26zM132.47 71.9h6.26v1.5h-6.26zM217.34 71.9h6.26v1.5h-6.26zM211.68 72.9h6.26v1.5h-6.26zM126.82 73.9h6.26v1.5h-6.26zM206.03 74.9h11.92v1.5h-11.92zM132.47 76.9h6.26v1.5h-6.26zM206.03 76.9h6.26v1.5h-6.26zM194.71 77.9h6.26v1.5h-6.26zM217.34 78.9h6.26v1.5h-6.26zM194.71 79.9h6.26v1.5h-6.26zM121.16 80.9h6.26v1.5h-6.26zM132.47 80.9h6.26v1.5h-6.26zM194.71 80.9h6.26v1.5h-6.26zM217.34 80.9h6.26v1.5h-6.26zM194.71 81.9h6.26v1.5h-6.26zM200.37 84.9h6.26v1.5h-6.26zM121.16 85.9h23.23v1.5h-23.23zM194.71 85.9h6.26v1.5h-6.26zM121.16 86.9h6.26v1.5h-6.26zM132.47 86.9h6.26v1.5h-6.26zM206.03 86.9h11.92v1.5h-11.92zM200.37 87.9h6.26v1.5h-6.26zM211.68 87.9h6.26v1.5h-6.26zM132.47 88.9h6.26v1.5h-6.26zM155.11 88.9h6.26v1.5h-6.26zM211.68 88.9h6.26v1.5h-6.26zM206.03 89.9h6.26v1.5h-6.26zM217.34 89.9h6.26v1.5h-6.26zM211.68 90.9h6.26v1.5h-6.26zM121.16 91.9h17.57v1.5h-17.57zM206.03 92.9h6.26v1.5h-6.26zM126.82 93.9h6.26v0.8h-6.26zM143.79 93.9h6.26v0.8h-6.26zM211.68 93.9h6.26v0.8h-6.26zM115.5 94.2h6.26v1.5h-6.26zM132.47 94.2h6.26v1.5h-6.26zM138.13 95.2h6.26v1.5h-6.26zM115.5 96.2h6.26v1.5h-6.26zM126.82 96.2h6.26v1.5h-6.26zM200.37 97.2h6.26v1.5h-6.26zM211.68 97.2h11.92v1.5h-11.92zM121.16 98.2h6.26v1.5h-6.26zM200.37 99.2h6.26v1.5h-6.26zM132.47 100.2h11.92v1.5h-11.92zM200.37 102.2h6.26v1.5h-6.26zM217.34 104.2h6.26v1.5h-6.26zM200.37 105.2h6.26v1.5h-6.26zM200.37 107.2h6.26v1.5h-6.26zM115.5 109.2h6.26v1.5h-6.26zM126.82 109.2h6.26v1.5h-6.26zM121.16 110.2h6.26v1.5h-6.26zM194.71 110.2h6.26v1.5h-6.26zM115.5 111.2h6.26v1.5h-6.26zM126.82 111.2h6.26v1.5h-6.26zM206.03 114.2h6.26v1.5h-6.26zM217.34 114.2h6.26v1.5h-6.26zM115.5 115.2h17.57v1.5h-17.57zM200.37 115.2h6.26v1.5h-6.26zM115.5 117.2h6.26v1.5h-6.26zM194.71 117.2h6.26v1.5h-6.26zM194.71 119.2h6.26v1.5h-6.26zM121.16 120.2h6.26v1.5h-6.26zM138.13 120.2h6.26v1.5h-6.26zM200.37 121.2h6.26v1.5h-6.26zM115.5 122.2h6.26v1.5h-6.26zM194.71 123.2h6.26v1.5h-6.26zM200.37 124.2h6.26v1.5h-6.26zM206.03 125.2h6.26v1.5h-6.26zM217.34 125.2h6.26v1.5h-6.26zM211.68 127.2h11.92v1.5h-11.92zM200.37 131.2h6.26v1.5h-6.26zM132.47 134.2h6.26v1.5h-6.26zM200.37 134.2h6.26v1.5h-6.26zM200.37 137.2h6.26v1.5h-6.26zM132.47 138.2h6.26v1.5h-6.26zM200.37 138.2h6.26v1.5h-6.26zM200.37 139.2h6.26v1.5h-6.26zM200.37 141.2h6.26v1.5h-6.26zM115.5 144.2h6.26v1.5h-6.26zM138.13 145.2h6.26v1.5h-6.26zM200.37 145.2h6.26v1.5h-6.26zM126.82 146.2h6.26v1.5h-6.26zM206.03 148.2h6.26v1.5h-6.26zM217.34 148.2h6.26v1.5h-6.26zM194.71 149.2h11.92v1.5h-11.92zM115.5 150.2h6.26v1.5h-6.26zM194.71 150.2h6.26v1.5h-6.26zM121.16 151.2h6.26v1.5h-6.26zM138.13 151.2h6.26v1.5h-6.26zM126.82 152.2h11.92v1.5h-11.92zM115.5 154.2h11.92v1.5h-11.92zM194.71 155.2h6.26v1.5h-6.26zM115.5 157.2h6.26v1.5h-6.26zM126.82 157.2h17.57v1.5h-17.57zM194.71 161.2h11.92v1.5h-11.92zM143.79 162.2h6.26v1.5h-6.26zM115.5 163.2h6.26v1.1h-6.26zM126.82 163.2h11.92v1.1h-11.92zM126.82 165.8h6.26v1.5h-6.26zM126.82 166.8h6.26v1.5h-6.26zM115.5 169.8h11.92v1.5h-11.92zM143.79 170.8h6.26v1.5h-6.26zM126.82 173.8h6.26v1.5h-6.26zM115.5 176.8h6.26v1.5h-6.26zM126.82 176.8h6.26v1.5h-6.26zM143.79 179.8h6.26v1.5h-6.26zM143.79 182.8h11.92v1.5h-11.92zM126.82 184.8h6.26v1.5h-6.26zM217.34 186.8h6.26v1.5h-6.26zM115.5 187.8h6.26v1.5h-6.26zM126.82 187.8h6.26v1.5h-6.26zM121.16 188.8h6.26v1.5h-6.26zM132.47 188.8h6.26v1.5h-6.26zM126.82 191.8h6.26v1.5h-6.26zM132.47 195.8h11.92v1.5h-11.92zM115.5 196.8h6.26v1.5h-6.26zM126.82 196.8h11.92v1.5h-11.92zM115.5 197.8h23.23v1.5h-23.23zM143.79 197.8h6.26v1.5h-6.26zM126.82 199.8h6.26v1.5h-6.26zM115.5 200.8h6.26v1.5h-6.26zM143.79 200.8h6.26v1.5h-6.26zM172.08 201.8h6.26v1.5h-6.26zM149.45 202.8h6.26v1.5h-6.26zM177.74 202.8h6.26v1.5h-6.26zM126.82 203.8h6.26v0.6h-6.26zM217.34 203.9h6.26v1.5h-6.26zM143.79 207.9h6.26v1.5h-6.26zM217.34 208.9h6.26v1.5h-6.26zM143.79 209.9h6.26v1.5h-6.26zM217.34 209.9h6.26v1.5h-6.26zM206.03 214.9h11.92v1.5h-11.92zM143.79 217.9h6.26v1.5h-6.26zM143.79 218.9h6.26v1.5h-6.26zM143.79 221.9h6.26v1.5h-6.26zM217.34 221.9h6.26v1.5h-6.26zM206.03 223.9h11.92v1.5h-11.92zM217.34 228.9h6.26v1.5h-6.26zM138.13 229.9h6.26v1.5h-6.26zM206.03 229.9h6.26v1.5h-6.26zM138.13 230.9h11.92v1.5h-11.92zM211.68 233.9h6.26v1.5h-6.26zM206.03 234.9h11.92v1.5h-11.92zM206.03 235.9h11.92v1.5h-11.92zM138.13 236.9h11.92v1.5h-11.92zM217.34 236.9h6.26v1.5h-6.26zM211.68 237.9h6.26v1.5h-6.26zM143.79 238.9h6.26v1.5h-6.26zM206.03 238.9h6.26v1.5h-6.26zM211.68 239.9h6.26v1.5h-6.26zM143.79 240.9h6.26v1.5h-6.26zM143.79 242.9h6.26v1.5h-6.26zM206.03 242.9h17.57v1.5h-17.57zM206.03 243.9h11.92v1.5h-11.92zM138.13 244.9h6.26v1.5h-6.26zM211.68 244.9h6.26v1.5h-6.26zM138.13 245.9h6.26v1.5h-6.26zM206.03 245.9h17.57v1.5h-17.57z"/>
<path fill="#e88989" d="M126.82 57.9h6.26v1.5h-6.26zM200.37 58.9h6.26v1.5h-6.26zM200.37 59.9h6.26v1.5h-6.26zM200.37 60.9h6.26v1.5h-6.26zM121.16 62.9h6.26v1.5h-6.26zM200.37 62.9h6.26v1.5h-6.26zM200.37 63.9h6.26v1.5h-6.26zM138.13 65.9h11.92v1.5h-11.92zM160.76 69.9h6.26v1.5h-6.26zM206.03 69.9h6.26v1.5h-6.26zM206.03 70.9h6.26v1.5h-6.26zM217.34 70.9h6.26v1.5h-6.26zM121.16 71.9h6.26v1.5h-6.26zM138.13 71.9h6.26v1.5h-6.26zM206.03 72.9h6.26v1.5h-6.26zM211.68 75.9h6.26v1.5h-6.26zM115.5 76.9h6.26v1.5h-6.26zM194.71 78.9h6.26v1.5h-6.26zM206.03 78.9h6.26v1.5h-6.26zM206.03 79.9h6.26v1.5h-6.26zM115.5 80.9h6.26v1.5h-6.26zM126.82 80.9h6.26v1.5h-6.26zM206.03 80.9h6.26v1.5h-6.26zM211.68 82.9h6.26v1.5h-6.26zM194.71 83.9h6.26v1.5h-6.26zM206.03 83.9h6.26v1.5h-6.26zM217.34 83.9h6.26v1.5h-6.26zM115.5 84.9h6.26v1.5h-6.26zM132.47 84.9h6.26v1.5h-6.26zM143.79 85.9h6.26v1.5h-6.26zM217.34 85.9h6.26v1.5h-6.26zM206.03 87.9h6.26v1.5h-6.26zM206.03 88.9h6.26v1.5h-6.26zM194.71 90.9h6.26v1.5h-6.26zM206.03 90.9h6.26v1.5h-6.26zM115.5 91.9h6.26v1.5h-6.26zM194.71 91.9h6.26v1.5h-6.26zM217.34 92.9h6.26v1.5h-6.26zM206.03 93.9h6.26v0.8h-6.26zM200.37 94.2h6.26v1.5h-6.26zM115.5 95.2h6.26v1.5h-6.26zM126.82 95.2h11.92v1.5h-11.92zM143.79 96.2h6.26v1.5h-6.26zM211.68 96.2h11.92v1.5h-11.92zM143.79 97.2h6.26v1.5h-6.26zM115.5 98.2h6.26v1.5h-6.26zM132.47 98.2h11.92v1.5h-11.92zM194.71 98.2h11.92v1.5h-11.92zM121.16 99.2h6.26v1.5h-6.26zM115.5 100.2h11.92v1.5h-11.92zM132.47 102.2h6.26v1.5h-6.26zM194.71 102.2h6.26v1.5h-6.26zM115.5 103.2h6.26v1.5h-6.26zM132.47 103.2h6.26v1.5h-6.26zM200.37 104.2h6.26v1.5h-6.26zM126.82 106.2h6.26v1.5h-6.26zM121.16 109.2h6.26v1.5h-6.26zM132.47 109.2h11.92v1.5h-11.92zM194.71 109.2h6.26v1.5h-6.26zM115.5 110.2h6.26v1.5h-6.26zM126.82 110.2h6.26v1.5h-6.26zM138.13 110.2h6.26v1.5h-6.26zM143.79 111.2h6.26v1.5h-6.26zM206.03 112.2h6.26v1.5h-6.26zM115.5 113.2h6.26v1.5h-6.26zM206.03 113.2h6.26v1.5h-6.26zM115.5 114.2h17.57v1.5h-17.57zM194.71 114.2h6.26v1.5h-6.26zM211.68 114.2h6.26v1.5h-6.26zM138.13 115.2h11.92v1.5h-11.92zM194.71 116.2h6.26v1.5h-6.26zM206.03 116.2h6.26v1.5h-6.26zM206.03 118.2h17.57v1.5h-17.57zM115.5 120.2h6.26v1.5h-6.26zM126.82 120.2h11.92v1.5h-11.92zM206.03 120.2h6.26v1.5h-6.26zM217.34 120.2h6.26v1.5h-6.26zM138.13 121.2h6.26v1.5h-6.26zM194.71 121.2h6.26v1.5h-6.26zM126.82 122.2h11.92v1.5h-11.92zM126.82 123.2h6.26v1.5h-6.26zM211.68 123.2h6.26v1.5h-6.26zM132.47 124.2h11.92v1.5h-11.92zM194.71 124.2h6.26v1.5h-6.26zM211.68 125.2h6.26v1.5h-6.26zM138.13 126.2h6.26v1.5h-6.26zM211.68 126.2h6.26v1.5h-6.26zM206.03 127.2h6.26v1.5h-6.26zM132.47 130.2h6.26v1.5h-6.26zM194.71 131.2h6.26v1.5h-6.26zM132.47 132.2h6.26v1.5h-6.26zM200.37 132.2h6.26v1.5h-6.26zM115.5 133.2h6.26v1.5h-6.26zM115.5 134.2h17.57v1.5h-17.57zM138.13 134.2h6.26v1.5h-6.26zM206.03 134.2h11.92v1.5h-11.92zM200.37 136.2h6.26v1.5h-6.26zM211.68 136.2h11.92v1.5h-11.92zM115.5 137.2h28.89v1.5h-28.89zM194.71 137.2h6.26v1.5h-6.26zM121.16 138.2h6.26v1.5h-6.26zM206.03 138.2h6.26v1.5h-6.26zM194.71 139.2h6.26v1.5h-6.26zM121.16 140.2h6.26v1.5h-6.26zM138.13 140.2h6.26v1.5h-6.26zM194.71 140.2h11.92v1.5h-11.92zM211.68 143.2h11.92v1.5h-11.92zM194.71 144.2h6.26v1.5h-6.26zM115.5 145.2h6.26v1.5h-6.26zM126.82 145.2h11.92v1.5h-11.92zM115.5 146.2h6.26v1.5h-6.26zM143.79 146.2h6.26v1.5h-6.26zM217.34 146.2h6.26v1.5h-6.26zM126.82 148.2h6.26v1.5h-6.26zM194.71 148.2h6.26v1.5h-6.26zM211.68 148.2h6.26v1.5h-6.26zM121.16 150.2h11.92v1.5h-11.92zM138.13 150.2h6.26v1.5h-6.26zM115.5 151.2h6.26v1.5h-6.26zM132.47 151.2h6.26v1.5h-6.26zM200.37 152.2h6.26v1.5h-6.26zM211.68 152.2h11.92v1.5h-11.92zM206.03 153.2h6.26v1.5h-6.26zM194.71 154.2h6.26v1.5h-6.26zM200.37 156.2h6.26v1.5h-6.26zM143.79 157.2h6.26v1.5h-6.26zM194.71 158.2h6.26v1.5h-6.26zM115.5 159.2h6.26v1.5h-6.26zM132.47 159.2h11.92v1.5h-11.92zM217.34 161.2h6.26v1.5h-6.26zM194.71 162.2h11.92v1.5h-11.92zM143.79 163.2h6.26v1.1h-6.26zM194.71 163.2h6.26v1.1h-6.26zM115.5 163.8h28.89v1.5h-28.89zM115.5 165.8h11.92v1.5h-11.92zM132.47 165.8h6.26v1.5h-6.26zM115.5 166.8h11.92v1.5h-11.92zM132.47 166.8h6.26v1.5h-6.26zM143.79 166.8h6.26v1.5h-6.26zM115.5 167.8h23.23v1.5h-23.23zM132.47 168.8h6.26v1.5h-6.26zM138.13 169.8h6.26v1.5h-6.26zM126.82 172.8h6.26v1.5h-6.26zM115.5 173.8h11.92v1.5h-11.92zM115.5 175.8h23.23v1.5h-23.23zM132.47 176.8h6.26v1.5h-6.26zM121.16 180.8h6.26v1.5h-6.26zM132.47 180.8h6.26v1.5h-6.26zM115.5 181.8h11.92v1.5h-11.92zM132.47 181.8h6.26v1.5h-6.26zM132.47 183.8h6.26v1.5h-6.26zM115.5 184.8h6.26v1.5h-6.26zM121.16 187.8h6.26v1.5h-6.26zM132.47 187.8h6.26v1.5h-6.26zM115.5 188.8h6.26v1.5h-6.26zM138.13 188.8h6.26v1.5h-6.26zM115.5 189.8h11.92v1.5h-11.92zM132.47 189.8h6.26v1.5h-6.26zM121.16 190.8h11.92v1.5h-11.92zM115.5 191.8h11.92v1.5h-11.92zM132.47 191.8h6.26v1.5h-6.26zM143.79 193.8h6.26v1.5h-6.26zM115.5 194.8h6.26v1.5h-6.26zM115.5 195.8h6.26v1.5h-6.26zM138.13 197.8h6.26v1.5h-6.26zM115.5 199.8h11.92v1.5h-11.92zM132.47 199.8h6.26v1.5h-6.26zM138.13 200.8h6.26v1.5h-6.26zM121.16 201.8h17.57v1.5h-17.57zM115.5 202.8h28.89v1.5h-28.89zM121.16 203.8h6.26v0.6h-6.26zM132.47 203.8h6.26v0.6h-6.26zM143.79 203.8h6.26v0.6h-6.26zM189.05 203.8h6.26v0.6h-6.26zM211.68 203.9h6.26v1.5h-6.26zM211.68 204.9h6.26v1.5h-6.26zM217.34 205.9h6.26v1.5h-6.26zM206.03 208.9h11.92v1.5h-11.92zM206.03 209.9h6.26v1.5h-6.26zM143.79 211.9h6.26v1.5h-6.26zM211.68 213.9h11.92v1.5h-11.92zM217.34 215.9h6.26v1.5h-6.26zM211.68 216.9h6.26v1.5h-6.26zM138.13 219.9h6.26v1.5h-6.26zM206.03 222.9h6.26v1.5h-6.26zM217.34 222.9h6.26v1.5h-6.26zM217.34 223.9h6.26v1.5h-6.26zM143.79 225.9h6.26v1.5h-6.26zM206.03 227.9h6.26v1.5h-6.26zM143.79 228.9h6.26v1.5h-6.26zM206.03 228.9h6.26v1.5h-6.26zM217.34 229.9h6.26v1.5h-6.26zM138.13 231.9h11.92v1.5h-11.92zM217.34 231.9h6.26v1.5h-6.26zM211.68 232.9h6.26v1.5h-6.26zM143.79 234.9h6.26v1.5h-6.26zM217.34 234.9h6.26v1.5h-6.26zM211.68 236.9h6.26v1.5h-6.26zM206.03 239.9h6.26v1.5h-6.26zM217.34 239.9h6.26v1.5h-6.26zM143.79 244.9h6.26v1.5h-6.26zM217.34 244.9h6.26v1.5h-6.26zM143.79 245.9h6.26v1.5h-6.26zM206.03 246.9h11.92v0.9h-11.92z"/>
<path fill="#e78585" d="M115.5 57.9h11.92v1.5h-11.92zM138.13 57.9h6.26v1.5h-6.26zM194.71 58.9h6.26v1.5h-6.26zM121.16 59.9h17.57v1.5h-17.57zM217.34 59.9h6.26v1.5h-6.26zM211.68 60.9h6.26v1.5h-6.26zM115.5 61.9h11.92v1.5h-11.92zM132.47 61.9h6.26v1.5h-6.26zM115.5 62.9h6.26v1.5h-6.26zM126.82 62.9h17.57v1.5h-17.57zM211.68 62.9h6.26v1.5h-6.26zM143.79 63.9h6.26v1.5h-6.26zM217.34 63.9h6.26v1.5h-6.26zM143.79 64.9h6.26v1.5h-6.26zM194.71 65.9h6.26v1.5h-6.26zM217.34 65.9h6.26v1.5h-6.26zM217.34 66.9h6.26v1.5h-6.26zM115.5 67.9h28.89v1.5h-28.89zM194.71 67.9h6.26v1.5h-6.26zM194.71 68.9h6.26v1.5h-6.26zM115.5 70.9h6.26v1.5h-6.26zM132.47 70.9h6.26v1.5h-6.26zM194.71 70.9h6.26v1.5h-6.26zM143.79 71.9h6.26v1.5h-6.26zM194.71 72.9h6.26v1.5h-6.26zM194.71 73.9h6.26v1.5h-6.26zM121.16 74.9h6.26v1.5h-6.26zM132.47 74.9h6.26v1.5h-6.26zM217.34 74.9h6.26v1.5h-6.26zM206.03 75.9h6.26v1.5h-6.26zM194.71 76.9h6.26v1.5h-6.26zM121.16 78.9h6.26v1.5h-6.26zM217.34 79.9h6.26v1.5h-6.26zM138.13 80.9h11.92v1.5h-11.92zM115.5 81.9h17.57v1.5h-17.57zM126.82 82.9h17.57v1.5h-17.57zM206.03 82.9h6.26v1.5h-6.26zM217.34 82.9h6.26v1.5h-6.26zM115.5 83.9h17.57v1.5h-17.57zM121.16 84.9h11.92v1.5h-11.92zM138.13 84.9h6.26v1.5h-6.26zM206.03 84.9h11.92v1.5h-11.92zM143.79 86.9h6.26v1.5h-6.26zM217.34 86.9h6.26v1.5h-6.26zM217.34 87.9h6.26v1.5h-6.26zM121.16 88.9h11.92v1.5h-11.92zM138.13 88.9h6.26v1.5h-6.26zM217.34 88.9h6.26v1.5h-6.26zM115.5 89.9h6.26v1.5h-6.26zM132.47 89.9h11.92v1.5h-11.92zM194.71 89.9h6.26v1.5h-6.26zM217.34 90.9h6.26v1.5h-6.26zM115.5 92.9h6.26v1.5h-6.26zM132.47 92.9h11.92v1.5h-11.92zM194.71 93.9h6.26v0.8h-6.26zM217.34 93.9h6.26v0.8h-6.26zM138.13 94.2h11.92v1.5h-11.92zM194.71 94.2h6.26v1.5h-6.26zM200.37 95.2h6.26v1.5h-6.26zM206.03 96.2h6.26v1.5h-6.26zM194.71 97.2h6.26v1.5h-6.26zM126.82 98.2h6.26v1.5h-6.26zM126.82 99.2h17.57v1.5h-17.57zM126.82 100.2h6.26v1.5h-6.26zM143.79 100.2h6.26v1.5h-6.26zM217.34 100.2h6.26v1.5h-6.26zM121.16 101.2h6.26v1.5h-6.26zM121.16 102.2h11.92v1.5h-11.92zM121.16 103.2h11.92v1.5h-11.92zM138.13 103.2h6.26v1.5h-6.26zM217.34 103.2h6.26v1.5h-6.26zM115.5 104.2h28.89v1.5h-28.89zM194.71 104.2h6.26v1.5h-6.26zM206.03 104.2h11.92v1.5h-11.92zM115.5 105.2h6.26v1.5h-6.26zM138.13 105.2h6.26v1.5h-6.26zM211.68 105.2h6.26v1.5h-6.26zM115.5 106.2h11.92v1.5h-11.92zM132.47 106.2h11.92v1.5h-11.92zM194.71 106.2h6.26v1.5h-6.26zM143.79 109.2h6.26v1.5h-6.26zM211.68 109.2h6.26v1.5h-6.26zM132.47 110.2h6.26v1.5h-6.26zM206.03 111.2h11.92v1.5h-11.92zM217.34 112.2h6.26v1.5h-6.26zM121.16 113.2h6.26v1.5h-6.26zM132.47 113.2h11.92v1.5h-11.92zM211.68 113.2h11.92v1.5h-11.92zM132.47 114.2h11.92v1.5h-11.92zM194.71 115.2h6.26v1.5h-6.26zM143.79 117.2h6.26v1.5h-6.26zM126.82 119.2h11.92v1.5h-11.92zM206.03 119.2h17.57v1.5h-17.57zM211.68 120.2h6.26v1.5h-6.26zM115.5 121.2h6.26v1.5h-6.26zM138.13 122.2h11.92v1.5h-11.92zM115.5 123.2h6.26v1.5h-6.26zM132.47 123.2h6.26v1.5h-6.26zM206.03 123.2h6.26v1.5h-6.26zM217.34 123.2h6.26v1.5h-6.26zM115.5 124.2h17.57v1.5h-17.57zM115.5 126.2h23.23v1.5h-23.23zM206.03 126.2h6.26v1.5h-6.26zM217.34 126.2h6.26v1.5h-6.26zM132.47 128.2h6.26v1.5h-6.26zM121.16 129.2h11.92v1.5h-11.92zM115.5 130.2h17.57v1.5h-17.57zM138.13 130.2h6.26v1.5h-6.26zM206.03 131.2h17.57v1.5h-17.57zM115.5 132.2h11.92v1.5h-11.92zM194.71 132.2h6.26v1.5h-6.26zM121.16 133.2h23.23v1.5h-23.23zM206.03 133.2h6.26v1.5h-6.26zM217.34 133.2h6.26v1.5h-6.26zM194.71 134.2h6.26v1.5h-6.26zM206.03 135.2h6.26v1.5h-6.26zM115.5 136.2h11.92v1.5h-11.92zM132.47 136.2h6.26v1.5h-6.26zM194.71 136.2h6.26v1.5h-6.26zM206.03 136.2h6.26v1.5h-6.26zM126.82 138.2h6.26v1.5h-6.26zM138.13 138.2h6.26v1.5h-6.26zM211.68 138.2h11.92v1.5h-11.92zM126.82 139.2h17.57v1.5h-17.57zM217.34 139.2h6.26v1.5h-6.26zM115.5 140.2h6.26v1.5h-6.26zM126.82 140.2h11.92v1.5h-11.92zM211.68 140.2h6.26v1.5h-6.26zM194.71 141.2h6.26v1.5h-6.26zM206.03 141.2h11.92v1.5h-11.92zM206.03 142.2h11.92v1.5h-11.92zM121.16 143.2h23.23v1.5h-23.23zM206.03 143.2h6.26v1.5h-6.26zM121.16 144.2h23.23v1.5h-23.23zM121.16 145.2h6.26v1.5h-6.26zM200.37 147.2h6.26v1.5h-6.26zM121.16 148.2h6.26v1.5h-6.26zM132.47 148.2h11.92v1.5h-11.92zM126.82 149.2h17.57v1.5h-17.57zM126.82 151.2h6.26v1.5h-6.26zM194.71 152.2h6.26v1.5h-6.26zM206.03 152.2h6.26v1.5h-6.26zM194.71 153.2h6.26v1.5h-6.26zM143.79 154.2h6.26v1.5h-6.26zM206.03 154.2h6.26v1.5h-6.26zM121.16 155.2h17.57v1.5h-17.57zM121.16 156.2h11.92v1.5h-11.92zM121.16 158.2h6.26v1.5h-6.26zM132.47 158.2h6.26v1.5h-6.26zM121.16 159.2h11.92v1.5h-11.92zM200.37 160.2h6.26v1.5h-6.26zM132.47 161.2h6.26v1.5h-6.26zM206.03 161.2h11.92v1.5h-11.92zM121.16 164.8h23.23v1.5h-23.23zM138.13 165.8h11.92v1.5h-11.92zM138.13 167.8h6.26v1.5h-6.26zM115.5 168.8h17.57v1.5h-17.57zM189.05 168.8h6.26v1.5h-6.26zM143.79 169.8h6.26v1.5h-6.26zM115.5 172.8h6.26v1.5h-6.26zM132.47 172.8h6.26v1.5h-6.26zM132.47 173.8h11.92v1.5h-11.92zM138.13 175.8h6.26v1.5h-6.26zM138.13 176.8h11.92v1.5h-11.92zM138.13 180.8h11.92v1.5h-11.92zM138.13 181.8h11.92v1.5h-11.92zM115.5 183.8h17.57v1.5h-17.57zM121.16 184.8h6.26v1.5h-6.26zM132.47 184.8h17.57v1.5h-17.57zM138.13 187.8h6.26v1.5h-6.26zM143.79 188.8h6.26v1.5h-6.26zM138.13 189.8h11.92v1.5h-11.92zM115.5 190.8h6.26v1.5h-6.26zM132.47 190.8h11.92v1.5h-11.92zM138.13 191.8h11.92v1.5h-11.92zM121.16 194.8h17.57v1.5h-17.57zM121.16 195.8h6.26v1.5h-6.26zM143.79 195.8h6.26v1.5h-6.26zM138.13 196.8h11.92v1.5h-11.92zM138.13 199.8h6.26v1.5h-6.26zM115.5 201.8h6.26v1.5h-6.26zM138.13 203.8h6.26v0.6h-6.26zM217.34 204.9h6.26v1.5h-6.26zM143.79 205.9h6.26v1.5h-6.26zM211.68 205.9h6.26v1.5h-6.26zM211.68 206.9h11.92v1.5h-11.92zM211.68 209.9h6.26v1.5h-6.26zM211.68 212.9h11.92v1.5h-11.92zM206.03 213.9h6.26v1.5h-6.26zM206.03 215.9h11.92v1.5h-11.92zM206.03 216.9h6.26v1.5h-6.26zM217.34 216.9h6.26v1.5h-6.26zM206.03 217.9h17.57v1.5h-17.57zM206.03 218.9h17.57v1.5h-17.57zM143.79 219.9h6.26v1.5h-6.26zM217.34 220.9h6.26v1.5h-6.26zM211.68 222.9h6.26v1.5h-6.26zM211.68 226.9h6.26v1.5h-6.26zM143.79 229.9h6.26v1.5h-6.26zM206.03 230.9h17.57v1.5h-17.57zM206.03 231.9h11.92v1.5h-11.92zM206.03 232.9h6.26v1.5h-6.26zM217.34 232.9h6.26v1.5h-6.26z"/>
<path fill="#e68080" d="M115.5 58.9h23.23v1.5h-23.23zM115.5 59.9h6.26v1.5h-6.26zM138.13 59.9h6.26v1.5h-6.26zM194.71 59.9h6.26v1.5h-6.26zM115.5 60.9h11.92v1.5h-11.92zM132.47 60.9h6.26v1.5h-6.26zM194.71 60.9h6.26v1.5h-6.26zM126.82 61.9h6.26v1.5h-6.26zM138.13 61.9h6.26v1.5h-6.26zM217.34 62.9h6.26v1.5h-6.26zM115.5 66.9h23.23v1.5h-23.23zM121.16 70.9h11.92v1.5h-11.92zM138.13 70.9h6.26v1.5h-6.26zM194.71 71.9h6.26v1.5h-6.26zM115.5 72.9h23.23v1.5h-23.23zM217.34 72.9h6.26v1.5h-6.26zM143.79 73.9h6.26v1.5h-6.26zM115.5 74.9h6.26v1.5h-6.26zM126.82 74.9h6.26v1.5h-6.26zM138.13 74.9h6.26v1.5h-6.26zM115.5 75.9h6.26v1.5h-6.26zM194.71 75.9h6.26v1.5h-6.26zM217.34 75.9h6.26v1.5h-6.26zM143.79 76.9h6.26v1.5h-6.26zM115.5 78.9h6.26v1.5h-6.26zM126.82 78.9h6.26v1.5h-6.26zM138.13 78.9h6.26v1.5h-6.26zM115.5 79.9h6.26v1.5h-6.26zM126.82 79.9h6.26v1.5h-6.26zM138.13 79.9h6.26v1.5h-6.26zM132.47 81.9h11.92v1.5h-11.92zM115.5 82.9h11.92v1.5h-11.92zM132.47 83.9h11.92v1.5h-11.92zM143.79 84.9h6.26v1.5h-6.26zM194.71 84.9h6.26v1.5h-6.26zM217.34 84.9h6.26v1.5h-6.26zM115.5 87.9h23.23v1.5h-23.23zM194.71 87.9h6.26v1.5h-6.26zM115.5 88.9h6.26v1.5h-6.26zM194.71 88.9h6.26v1.5h-6.26zM121.16 89.9h11.92v1.5h-11.92zM143.79 89.9h6.26v1.5h-6.26zM115.5 90.9h28.89v1.5h-28.89zM138.13 91.9h11.92v1.5h-11.92zM121.16 92.9h11.92v1.5h-11.92zM206.03 98.2h17.57v1.5h-17.57zM115.5 99.2h6.26v1.5h-6.26zM206.03 99.2h17.57v1.5h-17.57zM206.03 100.2h11.92v1.5h-11.92zM115.5 101.2h6.26v1.5h-6.26zM126.82 101.2h17.57v1.5h-17.57zM115.5 102.2h6.26v1.5h-6.26zM138.13 102.2h11.92v1.5h-11.92zM206.03 102.2h6.26v1.5h-6.26zM217.34 102.2h6.26v1.5h-6.26zM206.03 103.2h11.92v1.5h-11.92zM121.16 105.2h17.57v1.5h-17.57zM194.71 105.2h6.26v1.5h-6.26zM206.03 105.2h6.26v1.5h-6.26zM217.34 105.2h6.26v1.5h-6.26zM143.79 106.2h6.26v1.5h-6.26zM206.03 106.2h17.57v1.5h-17.57zM115.5 107.2h6.26v1.5h-6.26zM132.47 107.2h6.26v1.5h-6.26zM115.5 108.2h23.23v1.5h-23.23zM206.03 108.2h17.57v1.5h-17.57zM206.03 109.2h6.26v1.5h-6.26zM217.34 109.2h6.26v1.5h-6.26zM143.79 110.2h6.26v1.5h-6.26zM206.03 110.2h11.92v1.5h-11.92zM217.34 111.2h6.26v1.5h-6.26zM211.68 112.2h6.26v1.5h-6.26zM126.82 113.2h6.26v1.5h-6.26zM211.68 116.2h11.92v1.5h-11.92zM206.03 117.2h17.57v1.5h-17.57zM194.71 118.2h11.92v1.5h-11.92zM115.5 119.2h11.92v1.5h-11.92zM138.13 119.2h6.26v1.5h-6.26zM143.79 120.2h6.26v1.5h-6.26zM121.16 121.2h17.57v1.5h-17.57zM206.03 122.2h17.57v1.5h-17.57zM138.13 123.2h6.26v1.5h-6.26zM143.79 124.2h6.26v1.5h-6.26zM206.03 124.2h6.26v1.5h-6.26zM217.34 124.2h6.26v1.5h-6.26zM121.16 125.2h23.23v1.5h-23.23zM143.79 126.2h6.26v1.5h-6.26zM121.16 127.2h6.26v1.5h-6.26zM132.47 127.2h6.26v1.5h-6.26zM121.16 128.2h11.92v1.5h-11.92zM115.5 129.2h6.26v1.5h-6.26zM132.47 129.2h11.92v1.5h-11.92zM206.03 130.2h6.26v1.5h-6.26zM115.5 131.2h11.92v1.5h-11.92zM132.47 131.2h11.92v1.5h-11.92zM126.82 132.2h6.26v1.5h-6.26zM138.13 132.2h11.92v1.5h-11.92zM211.68 133.2h6.26v1.5h-6.26zM143.79 134.2h6.26v1.5h-6.26zM115.5 135.2h11.92v1.5h-11.92zM132.47 135.2h11.92v1.5h-11.92zM211.68 135.2h11.92v1.5h-11.92zM126.82 136.2h6.26v1.5h-6.26zM138.13 136.2h11.92v1.5h-11.92zM143.79 137.2h6.26v1.5h-6.26zM206.03 137.2h17.57v1.5h-17.57zM115.5 138.2h6.26v1.5h-6.26zM194.71 138.2h6.26v1.5h-6.26zM115.5 139.2h11.92v1.5h-11.92zM143.79 139.2h6.26v1.5h-6.26zM206.03 139.2h11.92v1.5h-11.92zM206.03 140.2h6.26v1.5h-6.26zM217.34 140.2h6.26v1.5h-6.26zM115.5 141.2h17.57v1.5h-17.57zM217.34 141.2h6.26v1.5h-6.26zM121.16 142.2h6.26v1.5h-6.26zM132.47 142.2h6.26v1.5h-6.26zM217.34 142.2h6.26v1.5h-6.26zM115.5 143.2h6.26v1.5h-6.26zM143.79 143.2h6.26v1.5h-6.26zM200.37 143.2h6.26v1.5h-6.26zM206.03 144.2h11.92v1.5h-11.92zM143.79 145.2h6.26v1.5h-6.26zM206.03 145.2h6.26v1.5h-6.26zM121.16 147.2h6.26v1.5h-6.26zM132.47 147.2h6.26v1.5h-6.26zM194.71 147.2h6.26v1.5h-6.26zM206.03 147.2h6.26v1.5h-6.26zM115.5 148.2h6.26v1.5h-6.26zM143.79 148.2h6.26v1.5h-6.26zM115.5 149.2h11.92v1.5h-11.92zM206.03 149.2h17.57v1.5h-17.57zM143.79 150.2h6.26v1.5h-6.26zM143.79 151.2h6.26v1.5h-6.26zM206.03 151.2h6.26v1.5h-6.26zM217.34 151.2h6.26v1.5h-6.26zM143.79 152.2h6.26v1.5h-6.26zM121.16 153.2h6.26v1.5h-6.26zM132.47 153.2h11.92v1.5h-11.92zM211.68 154.2h11.92v1.5h-11.92zM115.5 155.2h6.26v1.5h-6.26zM138.13 155.2h6.26v1.5h-6.26zM206.03 155.2h6.26v1.5h-6.26zM217.34 155.2h6.26v1.5h-6.26zM115.5 156.2h6.26v1.5h-6.26zM132.47 156.2h17.57v1.5h-17.57zM194.71 156.2h6.26v1.5h-6.26zM206.03 156.2h17.57v1.5h-17.57zM206.03 157.2h17.57v1.5h-17.57zM115.5 158.2h6.26v1.5h-6.26zM126.82 158.2h6.26v1.5h-6.26zM206.03 159.2h6.26v1.5h-6.26zM121.16 161.2h11.92v1.5h-11.92zM138.13 161.2h6.26v1.5h-6.26zM206.03 162.2h17.57v1.5h-17.57zM206.03 163.2h17.57v1.1h-17.57zM143.79 163.8h6.26v1.5h-6.26zM115.5 164.8h6.26v1.5h-6.26zM143.79 164.8h6.26v1.5h-6.26zM138.13 166.8h6.26v1.5h-6.26zM143.79 167.8h6.26v1.5h-6.26zM138.13 168.8h11.92v1.5h-11.92zM177.74 168.8h6.26v1.5h-6.26zM121.16 172.8h6.26v1.5h-6.26zM138.13 172.8h11.92v1.5h-11.92zM143.79 173.8h6.26v1.5h-6.26zM143.79 175.8h6.26v1.5h-6.26zM138.13 183.8h11.92v1.5h-11.92zM143.79 187.8h6.26v1.5h-6.26zM143.79 190.8h6.26v1.5h-6.26zM138.13 194.8h11.92v1.5h-11.92zM143.79 199.8h6.26v1.5h-6.26zM138.13 201.8h6.26v1.5h-6.26zM143.79 202.8h6.26v1.5h-6.26zM206.03 212.9h6.26v1.5h-6.26zM206.03 219.9h17.57v1.5h-17.57zM206.03 220.9h11.92v1.5h-11.92zM206.03 225.9h17.57v1.5h-17.57zM206.03 226.9h6.26v1.5h-6.26zM217.34 226.9h6.26v1.5h-6.26zM211.68 227.9h11.92v1.5h-11.92zM206.03 240.9h17.57v1.5h-17.57z"/>
<path fill="#e67c7c" d="M143.79 57.9h6.26v1.5h-6.26zM138.13 58.9h6.26v1.5h-6.26zM143.79 59.9h6.26v1.5h-6.26zM126.82 60.9h6.26v1.5h-6.26zM138.13 60.9h6.26v1.5h-6.26zM217.34 60.9h6.26v1.5h-6.26zM143.79 61.9h6.26v1.5h-6.26zM143.79 62.9h6.26v1.5h-6.26zM194.71 62.9h6.26v1.5h-6.26zM194.71 63.9h6.26v1.5h-6.26zM138.13 66.9h6.26v1.5h-6.26zM143.79 67.9h6.26v1.5h-6.26zM115.5 69.9h6.26v1.5h-6.26zM126.82 69.9h11.92v1.5h-11.92zM143.79 70.9h6.26v1.5h-6.26zM138.13 72.9h6.26v1.5h-6.26zM121.16 75.9h23.23v1.5h-23.23zM115.5 77.9h11.92v1.5h-11.92zM132.47 77.9h11.92v1.5h-11.92zM132.47 78.9h6.26v1.5h-6.26zM121.16 79.9h6.26v1.5h-6.26zM132.47 79.9h6.26v1.5h-6.26zM143.79 81.9h6.26v1.5h-6.26zM143.79 82.9h6.26v1.5h-6.26zM143.79 83.9h6.26v1.5h-6.26zM138.13 87.9h6.26v1.5h-6.26zM143.79 88.9h6.26v1.5h-6.26zM143.79 90.9h6.26v1.5h-6.26zM206.03 94.2h17.57v1.5h-17.57zM143.79 95.2h6.26v1.5h-6.26zM143.79 98.2h6.26v1.5h-6.26zM143.79 99.2h6.26v1.5h-6.26zM143.79 101.2h6.26v1.5h-6.26zM206.03 101.2h17.57v1.5h-17.57zM211.68 102.2h6.26v1.5h-6.26zM143.79 103.2h6.26v1.5h-6.26zM143.79 104.2h6.26v1.5h-6.26zM121.16 107.2h11.92v1.5h-11.92zM138.13 107.2h6.26v1.5h-6.26zM206.03 107.2h17.57v1.5h-17.57zM138.13 108.2h11.92v1.5h-11.92zM217.34 110.2h6.26v1.5h-6.26zM115.5 112.2h11.92v1.5h-11.92zM132.47 112.2h11.92v1.5h-11.92zM143.79 113.2h6.26v1.5h-6.26zM143.79 114.2h6.26v1.5h-6.26zM115.5 116.2h11.92v1.5h-11.92zM132.47 116.2h11.92v1.5h-11.92zM143.79 119.2h6.26v1.5h-6.26zM143.79 121.2h6.26v1.5h-6.26zM206.03 121.2h17.57v1.5h-17.57zM143.79 123.2h6.26v1.5h-6.26zM211.68 124.2h6.26v1.5h-6.26zM115.5 125.2h6.26v1.5h-6.26zM143.79 125.2h6.26v1.5h-6.26zM115.5 127.2h6.26v1.5h-6.26zM126.82 127.2h6.26v1.5h-6.26zM138.13 127.2h6.26v1.5h-6.26zM115.5 128.2h6.26v1.5h-6.26zM138.13 128.2h11.92v1.5h-11.92zM206.03 128.2h6.26v1.5h-6.26zM217.34 128.2h6.26v1.5h-6.26zM143.79 130.2h6.26v1.5h-6.26zM211.68 130.2h11.92v1.5h-11.92zM126.82 131.2h6.26v1.5h-6.26zM206.03 132.2h17.57v1.5h-17.57zM143.79 133.2h6.26v1.5h-6.26zM126.82 135.2h6.26v1.5h-6.26zM143.79 138.2h6.26v1.5h-6.26zM143.79 140.2h6.26v1.5h-6.26zM132.47 141.2h11.92v1.5h-11.92zM115.5 142.2h6.26v1.5h-6.26zM126.82 142.2h6.26v1.5h-6.26zM138.13 142.2h6.26v1.5h-6.26zM194.71 143.2h6.26v1.5h-6.26zM143.79 144.2h6.26v1.5h-6.26zM217.34 144.2h6.26v1.5h-6.26zM211.68 145.2h6.26v1.5h-6.26zM115.5 147.2h6.26v1.5h-6.26zM126.82 147.2h6.26v1.5h-6.26zM138.13 147.2h6.26v1.5h-6.26zM211.68 147.2h11.92v1.5h-11.92zM143.79 149.2h6.26v1.5h-6.26zM211.68 150.2h6.26v1.5h-6.26zM211.68 151.2h6.26v1.5h-6.26zM115.5 153.2h6.26v1.5h-6.26zM126.82 153.2h6.26v1.5h-6.26zM143.79 153.2h6.26v1.5h-6.26zM143.79 155.2h6.26v1.5h-6.26zM211.68 155.2h6.26v1.5h-6.26zM138.13 158.2h6.26v1.5h-6.26zM206.03 158.2h11.92v1.5h-11.92zM143.79 159.2h6.26v1.5h-6.26zM211.68 159.2h11.92v1.5h-11.92zM194.71 160.2h6.26v1.5h-6.26zM206.03 160.2h17.57v1.5h-17.57zM115.5 161.2h6.26v1.5h-6.26zM143.79 201.8h6.26v1.5h-6.26zM177.74 203.8h11.92v0.6h-11.92z"/>
<path fill="#e57777" d="M143.79 60.9h6.26v1.5h-6.26zM143.79 66.9h6.26v1.5h-6.26zM121.16 69.9h6.26v1.5h-6.26zM138.13 69.9h6.26v1.5h-6.26zM143.79 72.9h6.26v1.5h-6.26zM143.79 74.9h6.26v1.5h-6.26zM143.79 75.9h6.26v1.5h-6.26zM126.82 77.9h6.26v1.5h-6.26zM143.79 77.9h6.26v1.5h-6.26zM143.79 78.9h6.26v1.5h-6.26zM143.79 79.9h6.26v1.5h-6.26zM143.79 87.9h6.26v1.5h-6.26zM143.79 92.9h6.26v1.5h-6.26zM194.71 95.2h6.26v1.5h-6.26zM143.79 105.2h6.26v1.5h-6.26zM143.79 107.2h6.26v1.5h-6.26zM126.82 112.2h6.26v1.5h-6.26zM143.79 112.2h6.26v1.5h-6.26zM126.82 116.2h6.26v1.5h-6.26zM143.79 127.2h6.26v1.5h-6.26zM211.68 128.2h6.26v1.5h-6.26zM143.79 129.2h6.26v1.5h-6.26zM143.79 131.2h6.26v1.5h-6.26zM143.79 135.2h6.26v1.5h-6.26zM143.79 141.2h6.26v1.5h-6.26zM143.79 142.2h6.26v1.5h-6.26zM217.34 145.2h6.26v1.5h-6.26zM143.79 147.2h6.26v1.5h-6.26zM206.03 150.2h6.26v1.5h-6.26zM217.34 150.2h6.26v1.5h-6.26zM143.79 158.2h6.26v1.5h-6.26zM217.34 158.2h6.26v1.5h-6.26zM143.79 161.2h6.26v1.5h-6.26zM172.08 168.8h6.26v1.5h-6.26z"/>
<path fill="#e47373" d="M143.79 58.9h6.26v1.5h-6.26zM143.79 69.9h6.26v1.5h-6.26zM143.79 116.2h6.26v1.5h-6.26zM172.08 203.8h6.26v0.6h-6.26z"/>
</g></g>
</g>
<rect x="149.45" y="34.3" width="56.58" height="5.7" fill="#a8002c"/>
<rect x="149.45" y="40" width="16.97" height="5.1" fill="#a8e890"/>
<rect x="194.71" y="39.7" width="28.29" height="5.4" fill="#a8002c"/>
<rect x="149.45" y="45.1" width="5.71" height="5" fill="#f5cfa5"/>
<rect x="155.11" y="45.1" width="5.71" height="5" fill="#e89a40"/>
<rect x="160.76" y="45.1" width="5.71" height="5" fill="#e89a40"/>
<rect x="166.42" y="45.1" width="5.71" height="5" fill="#f5cfa5"/>
<rect x="172.08" y="45.1" width="5.71" height="5" fill="#e89a40"/>
<rect x="177.74" y="45.1" width="5.71" height="5" fill="#e89a40"/>
<rect x="183.39" y="45.1" width="5.71" height="5" fill="#e89a40"/>
<rect x="189.05" y="45.1" width="5.71" height="5" fill="#b87448"/>
<rect x="194.71" y="45.1" width="5.71" height="5" fill="#f5cfa5"/>
<rect x="200.37" y="45.1" width="5.71" height="5" fill="#e89a40"/>
<rect x="206.03" y="45.1" width="5.71" height="5" fill="#f5cfa5"/>
<rect x="211.68" y="45.1" width="5.71" height="5" fill="#e89a40"/>
<rect x="217.34" y="45.1" width="5.71" height="5" fill="#b87448"/>
<rect x="115.5" y="50.1" width="33.95" height="5" fill="#b9b9b9"/>
<rect x="149.45" y="50.1" width="45.26" height="5" fill="#e0483e"/>
<rect x="194.71" y="50.1" width="11.32" height="5" fill="#4fa676"/>
<rect x="206.03" y="50.1" width="16.97" height="5" fill="#a8ccee"/>
<defs><linearGradient id="gA" x1="0" y1="0" x2="0" y2="1"><stop offset="0" stop-color="#ffffff"/><stop offset="1" stop-color="#e0646a"/></linearGradient></defs>
<rect x="80.5" y="20.3" width="5.3" height="27.5" fill="url(#gA)" stroke="#9a9a9a" stroke-width="0.6"/>
<line x1="80.5" y1="20.3" x2="80.5" y2="47.8" stroke="#555" stroke-width="0.7"/>
<line x1="79" y1="20.6" x2="80.8" y2="20.6" stroke="#333" stroke-width="0.8"/>
<line x1="79" y1="25.98" x2="80.8" y2="25.98" stroke="#333" stroke-width="0.8"/>
<line x1="79" y1="31.36" x2="80.8" y2="31.36" stroke="#333" stroke-width="0.8"/>
<line x1="79" y1="36.74" x2="80.8" y2="36.74" stroke="#333" stroke-width="0.8"/>
<line x1="79" y1="42.12" x2="80.8" y2="42.12" stroke="#333" stroke-width="0.8"/>
<line x1="79" y1="47.5" x2="80.8" y2="47.5" stroke="#333" stroke-width="0.8"/>
<text x="75.6" y="23.3" font-size="6.6" text-anchor="end" fill="#222" textLength="8.9" lengthAdjust="spacingAndGlyphs">0.0</text>
<text x="75.6" y="48.1" font-size="6.6" text-anchor="end" fill="#222" textLength="8.9" lengthAdjust="spacingAndGlyphs">1.0</text>
<text x="61.9" y="34" font-size="9" text-anchor="middle" fill="#222" transform="rotate(-90 61.9 34)" textLength="12.4" lengthAdjust="spacingAndGlyphs">Beta</text>
<text x="111.1" y="36.5" font-size="6" text-anchor="end" fill="#2a2a2a" font-style="italic" textLength="19" lengthAdjust="spacingAndGlyphs">Dnmt3a</text>
<text x="111.1" y="42.6" font-size="6" text-anchor="end" fill="#2a2a2a" font-style="italic" textLength="9.8" lengthAdjust="spacingAndGlyphs">Tet2</text>
<text x="111.1" y="48.8" font-size="6" text-anchor="end" fill="#2a2a2a" textLength="18.8" lengthAdjust="spacingAndGlyphs">Passage</text>
<text x="111.1" y="55" font-size="6" text-anchor="end" fill="#2a2a2a" textLength="19.4" lengthAdjust="spacingAndGlyphs">Subtype</text>
<rect x="107" y="57.9" width="6.9" height="36.35" fill="#f0cda2"/>
<text x="112.35" y="76.05" font-size="5.4" text-anchor="middle" fill="#111" transform="rotate(-90 112.35 76.05)">K=1</text>
<rect x="107" y="94.2" width="6.9" height="69.65" fill="#e68c44"/>
<text x="112.35" y="129" font-size="5.4" text-anchor="middle" fill="#111" transform="rotate(-90 112.35 129)">K=2</text>
<rect x="107" y="163.8" width="6.9" height="40.15" fill="#d76e2c"/>
<text x="112.35" y="183.85" font-size="5.4" text-anchor="middle" fill="#111" transform="rotate(-90 112.35 183.85)">K=3</text>
<rect x="107" y="203.9" width="6.9" height="43.45" fill="#b9521e"/>
<text x="112.35" y="225.6" font-size="5.4" text-anchor="middle" fill="#111" transform="rotate(-90 112.35 225.6)">K=4</text>
<rect x="107" y="247.3" width="6.9" height="27.55" fill="#6e2d14"/>
<text x="112.35" y="261.05" font-size="5.4" text-anchor="middle" fill="#111" transform="rotate(-90 112.35 261.05)">K=5</text>
<line x1="42.9" y1="82.65" x2="86.6" y2="82.65" stroke="#000" stroke-width="1" stroke-dasharray="1 1.1"/>
<line x1="56.5" y1="66.75" x2="56.5" y2="98.15" stroke="#111" stroke-width="0.9" stroke-dasharray="2.6 2.2"/>
<line x1="62.9" y1="66.75" x2="62.9" y2="98.15" stroke="#111" stroke-width="0.9" stroke-dasharray="2.6 2.2"/>
<line x1="73.7" y1="66.75" x2="73.7" y2="98.15" stroke="#111" stroke-width="0.9" stroke-dasharray="2.6 2.2"/>
<line x1="78.3" y1="66.75" x2="78.3" y2="98.15" stroke="#111" stroke-width="0.9" stroke-dasharray="2.6 2.2"/>
<path d="M43.5 71.33 L45.6 71.03 L55.7 70.43 L59 76.09 L61.7 75.5 L63.7 78.48 L65.1 93.08 L66 93.68 L73.2 93.38 L75.9 72.22 L77.9 71.03 L86 71.33" fill="none" stroke="#f2c28e" stroke-width="1.1" stroke-linejoin="round"/>
<rect x="42.9" y="66.75" width="43.7" height="31.4" fill="none" stroke="#000" stroke-width="1.1"/>
<line x1="40.7" y1="97.55" x2="42.9" y2="97.55" stroke="#000" stroke-width="1"/>
<line x1="40.7" y1="91.59" x2="42.9" y2="91.59" stroke="#000" stroke-width="1"/>
<line x1="40.7" y1="85.63" x2="42.9" y2="85.63" stroke="#000" stroke-width="1"/>
<line x1="40.7" y1="79.67" x2="42.9" y2="79.67" stroke="#000" stroke-width="1"/>
<line x1="40.7" y1="73.71" x2="42.9" y2="73.71" stroke="#000" stroke-width="1"/>
<line x1="40.7" y1="67.75" x2="42.9" y2="67.75" stroke="#000" stroke-width="1"/>
<text x="38.5" y="69.65" font-size="6.3" text-anchor="end" fill="#222" textLength="8.7" lengthAdjust="spacingAndGlyphs">1.0</text>
<text x="38.5" y="99.45" font-size="6.3" text-anchor="end" fill="#222" textLength="8.7" lengthAdjust="spacingAndGlyphs">0.0</text>
<text x="24.1" y="82.45" font-size="8.6" text-anchor="middle" fill="#222" transform="rotate(-90 24.1 82.45)" textLength="12.85" lengthAdjust="spacingAndGlyphs">Beta</text>
<text x="65.25" y="63.55" font-size="5.5" text-anchor="middle" fill="#333" textLength="18.2" lengthAdjust="spacingAndGlyphs"><tspan font-style="italic">n</tspan>=1113</text>
<line x1="42.9" y1="125.3" x2="86.6" y2="125.3" stroke="#000" stroke-width="1" stroke-dasharray="1 1.1"/>
<line x1="56.5" y1="109.4" x2="56.5" y2="140.8" stroke="#111" stroke-width="0.9" stroke-dasharray="2.6 2.2"/>
<line x1="62.9" y1="109.4" x2="62.9" y2="140.8" stroke="#111" stroke-width="0.9" stroke-dasharray="2.6 2.2"/>
<line x1="73.7" y1="109.4" x2="73.7" y2="140.8" stroke="#111" stroke-width="0.9" stroke-dasharray="2.6 2.2"/>
<line x1="78.3" y1="109.4" x2="78.3" y2="140.8" stroke="#111" stroke-width="0.9" stroke-dasharray="2.6 2.2"/>
<path d="M43.5 115.17 L44.9 115.17 L47.6 115.76 L52.3 114.57 L56.3 113.38 L58.4 138.41 L63.1 138.71 L64.4 139.31 L73.2 139.01 L75.2 127.09 L76.5 115.17 L79.2 113.38 L86 113.08" fill="none" stroke="#e8873a" stroke-width="1.1" stroke-linejoin="round"/>
<rect x="42.9" y="109.4" width="43.7" height="31.4" fill="none" stroke="#000" stroke-width="1.1"/>
<line x1="40.7" y1="140.2" x2="42.9" y2="140.2" stroke="#000" stroke-width="1"/>
<line x1="40.7" y1="134.24" x2="42.9" y2="134.24" stroke="#000" stroke-width="1"/>
<line x1="40.7" y1="128.28" x2="42.9" y2="128.28" stroke="#000" stroke-width="1"/>
<line x1="40.7" y1="122.32" x2="42.9" y2="122.32" stroke="#000" stroke-width="1"/>
<line x1="40.7" y1="116.36" x2="42.9" y2="116.36" stroke="#000" stroke-width="1"/>
<line x1="40.7" y1="110.4" x2="42.9" y2="110.4" stroke="#000" stroke-width="1"/>
<text x="38.5" y="112.3" font-size="6.3" text-anchor="end" fill="#222" textLength="8.7" lengthAdjust="spacingAndGlyphs">1.0</text>
<text x="38.5" y="142.1" font-size="6.3" text-anchor="end" fill="#222" textLength="8.7" lengthAdjust="spacingAndGlyphs">0.0</text>
<text x="24.1" y="125.1" font-size="8.6" text-anchor="middle" fill="#222" transform="rotate(-90 24.1 125.1)" textLength="12.85" lengthAdjust="spacingAndGlyphs">Beta</text>
<text x="65.25" y="106.2" font-size="5.5" text-anchor="middle" fill="#333" textLength="18.2" lengthAdjust="spacingAndGlyphs"><tspan font-style="italic">n</tspan>=2130</text>
<line x1="42.9" y1="168.1" x2="86.6" y2="168.1" stroke="#000" stroke-width="1" stroke-dasharray="1 1.1"/>
<line x1="56.5" y1="152.2" x2="56.5" y2="183.6" stroke="#111" stroke-width="0.9" stroke-dasharray="2.6 2.2"/>
<line x1="62.9" y1="152.2" x2="62.9" y2="183.6" stroke="#111" stroke-width="0.9" stroke-dasharray="2.6 2.2"/>
<line x1="73.7" y1="152.2" x2="73.7" y2="183.6" stroke="#111" stroke-width="0.9" stroke-dasharray="2.6 2.2"/>
<line x1="78.3" y1="152.2" x2="78.3" y2="183.6" stroke="#111" stroke-width="0.9" stroke-dasharray="2.6 2.2"/>
<path d="M43.5 157.67 L44.9 157.67 L52.3 157.37 L56.1 155.58 L58.4 158.27 L61.7 156.78 L63.1 157.37 L65.1 163.93 L72.5 163.63 L73.8 165.42 L76.5 171.38 L78.5 169.89 L80.6 160.65 L86 160.35" fill="none" stroke="#d9692a" stroke-width="1.1" stroke-linejoin="round"/>
<rect x="42.9" y="152.2" width="43.7" height="31.4" fill="none" stroke="#000" stroke-width="1.1"/>
<line x1="40.7" y1="183" x2="42.9" y2="183" stroke="#000" stroke-width="1"/>
<line x1="40.7" y1="177.04" x2="42.9" y2="177.04" stroke="#000" stroke-width="1"/>
<line x1="40.7" y1="171.08" x2="42.9" y2="171.08" stroke="#000" stroke-width="1"/>
<line x1="40.7" y1="165.12" x2="42.9" y2="165.12" stroke="#000" stroke-width="1"/>
<line x1="40.7" y1="159.16" x2="42.9" y2="159.16" stroke="#000" stroke-width="1"/>
<line x1="40.7" y1="153.2" x2="42.9" y2="153.2" stroke="#000" stroke-width="1"/>
<text x="38.5" y="155.1" font-size="6.3" text-anchor="end" fill="#222" textLength="8.7" lengthAdjust="spacingAndGlyphs">1.0</text>
<text x="38.5" y="184.9" font-size="6.3" text-anchor="end" fill="#222" textLength="8.7" lengthAdjust="spacingAndGlyphs">0.0</text>
<text x="24.1" y="167.9" font-size="8.6" text-anchor="middle" fill="#222" transform="rotate(-90 24.1 167.9)" textLength="12.85" lengthAdjust="spacingAndGlyphs">Beta</text>
<text x="65.25" y="149" font-size="5.5" text-anchor="middle" fill="#333" textLength="18.2" lengthAdjust="spacingAndGlyphs"><tspan font-style="italic">n</tspan>=1225</text>
<line x1="42.9" y1="211.1" x2="86.6" y2="211.1" stroke="#000" stroke-width="1" stroke-dasharray="1 1.1"/>
<line x1="56.5" y1="195.2" x2="56.5" y2="226.6" stroke="#111" stroke-width="0.9" stroke-dasharray="2.6 2.2"/>
<line x1="62.9" y1="195.2" x2="62.9" y2="226.6" stroke="#111" stroke-width="0.9" stroke-dasharray="2.6 2.2"/>
<line x1="73.7" y1="195.2" x2="73.7" y2="226.6" stroke="#111" stroke-width="0.9" stroke-dasharray="2.6 2.2"/>
<line x1="78.3" y1="195.2" x2="78.3" y2="226.6" stroke="#111" stroke-width="0.9" stroke-dasharray="2.6 2.2"/>
<path d="M43.5 204.25 L44.9 204.25 L47.6 205.14 L51 203.65 L53.6 203.05 L56.1 199.78 L58.4 218.25 L62.4 217.95 L65.1 223.91 L73.2 223.02 L77.9 222.42 L79.9 200.67 L86 199.78" fill="none" stroke="#d4521e" stroke-width="1.1" stroke-linejoin="round"/>
<rect x="42.9" y="195.2" width="43.7" height="31.4" fill="none" stroke="#000" stroke-width="1.1"/>
<line x1="40.7" y1="226" x2="42.9" y2="226" stroke="#000" stroke-width="1"/>
<line x1="40.7" y1="220.04" x2="42.9" y2="220.04" stroke="#000" stroke-width="1"/>
<line x1="40.7" y1="214.08" x2="42.9" y2="214.08" stroke="#000" stroke-width="1"/>
<line x1="40.7" y1="208.12" x2="42.9" y2="208.12" stroke="#000" stroke-width="1"/>
<line x1="40.7" y1="202.16" x2="42.9" y2="202.16" stroke="#000" stroke-width="1"/>
<line x1="40.7" y1="196.2" x2="42.9" y2="196.2" stroke="#000" stroke-width="1"/>
<text x="38.5" y="198.1" font-size="6.3" text-anchor="end" fill="#222" textLength="8.7" lengthAdjust="spacingAndGlyphs">1.0</text>
<text x="38.5" y="227.9" font-size="6.3" text-anchor="end" fill="#222" textLength="8.7" lengthAdjust="spacingAndGlyphs">0.0</text>
<text x="24.1" y="210.9" font-size="8.6" text-anchor="middle" fill="#222" transform="rotate(-90 24.1 210.9)" textLength="12.85" lengthAdjust="spacingAndGlyphs">Beta</text>
<text x="65.25" y="192" font-size="5.5" text-anchor="middle" fill="#333" textLength="18.2" lengthAdjust="spacingAndGlyphs"><tspan font-style="italic">n</tspan>=1324</text>
<line x1="42.9" y1="254.1" x2="86.6" y2="254.1" stroke="#000" stroke-width="1" stroke-dasharray="1 1.1"/>
<line x1="56.5" y1="238.2" x2="56.5" y2="269.6" stroke="#111" stroke-width="0.9" stroke-dasharray="2.6 2.2"/>
<line x1="62.9" y1="238.2" x2="62.9" y2="269.6" stroke="#111" stroke-width="0.9" stroke-dasharray="2.6 2.2"/>
<line x1="73.7" y1="238.2" x2="73.7" y2="269.6" stroke="#111" stroke-width="0.9" stroke-dasharray="2.6 2.2"/>
<line x1="78.3" y1="238.2" x2="78.3" y2="269.6" stroke="#111" stroke-width="0.9" stroke-dasharray="2.6 2.2"/>
<path d="M43.5 254.7 L44.9 254.7 L46.9 255.59 L50.3 253.8 L53 253.5 L56.1 248.14 L58.4 261.25 L62.4 260.95 L65.1 265.42 L73.2 265.13 L77.2 262.15 L79.9 263.93 L86 265.42" fill="none" stroke="#7d2e12" stroke-width="1.1" stroke-linejoin="round"/>
<rect x="42.9" y="238.2" width="43.7" height="31.4" fill="none" stroke="#000" stroke-width="1.1"/>
<line x1="40.7" y1="269" x2="42.9" y2="269" stroke="#000" stroke-width="1"/>
<line x1="40.7" y1="263.04" x2="42.9" y2="263.04" stroke="#000" stroke-width="1"/>
<line x1="40.7" y1="257.08" x2="42.9" y2="257.08" stroke="#000" stroke-width="1"/>
<line x1="40.7" y1="251.12" x2="42.9" y2="251.12" stroke="#000" stroke-width="1"/>
<line x1="40.7" y1="245.16" x2="42.9" y2="245.16" stroke="#000" stroke-width="1"/>
<line x1="40.7" y1="239.2" x2="42.9" y2="239.2" stroke="#000" stroke-width="1"/>
<text x="38.5" y="241.1" font-size="6.3" text-anchor="end" fill="#222" textLength="8.7" lengthAdjust="spacingAndGlyphs">1.0</text>
<text x="38.5" y="270.9" font-size="6.3" text-anchor="end" fill="#222" textLength="8.7" lengthAdjust="spacingAndGlyphs">0.0</text>
<text x="24.1" y="253.9" font-size="8.6" text-anchor="middle" fill="#222" transform="rotate(-90 24.1 253.9)" textLength="12.85" lengthAdjust="spacingAndGlyphs">Beta</text>
<text x="65.25" y="235" font-size="5.5" text-anchor="middle" fill="#333" textLength="15.5" lengthAdjust="spacingAndGlyphs"><tspan font-style="italic">n</tspan>=857</text>
<rect x="44" y="271.8" width="12" height="3" fill="#b9b9b9"/>
<rect x="56.9" y="271.8" width="16.9" height="3" fill="#e0483e"/>
<rect x="74.5" y="271.8" width="4.1" height="3" fill="#4fa676"/>
<rect x="79.4" y="271.8" width="7.5" height="3" fill="#a8ccee"/>
<line x1="223" y1="58.8" x2="239.5" y2="58.8" stroke="#a0a0a0" stroke-width="1"/>
<line x1="223" y1="94.2" x2="239.5" y2="94.2" stroke="#a0a0a0" stroke-width="1"/>
<line x1="223" y1="163.8" x2="239.5" y2="163.8" stroke="#a0a0a0" stroke-width="1"/>
<line x1="223" y1="203.9" x2="239.5" y2="203.9" stroke="#a0a0a0" stroke-width="1"/>
<line x1="223" y1="247" x2="239.5" y2="247" stroke="#a0a0a0" stroke-width="1"/>
<line x1="223" y1="275" x2="239.5" y2="275" stroke="#a0a0a0" stroke-width="1"/>
<text x="226.1" y="66.8" font-size="6.5" text-anchor="start" fill="#1a1a1a">Fatty acid metabolic process</text>
<text x="226.1" y="74.3" font-size="6.5" text-anchor="start" fill="#1a1a1a">Neg regulation of transferase activity</text>
<text x="226.1" y="81.8" font-size="6.5" text-anchor="start" fill="#1a1a1a">Cellular amino acid metabolic process</text>
<text x="226.1" y="89.3" font-size="6.5" fill="#1a1a1a">(<tspan font-style="italic">Nmnat2, Arg1, Satt5a, and Ddah2</tspan>)</text>
<text x="226.1" y="107.8" font-size="6.5" text-anchor="start" fill="#1a1a1a">Erythrocyte differentiation</text>
<text x="226.1" y="115.2" font-size="6.5" text-anchor="start" fill="#1a1a1a">Erythrocyte homeostasis</text>
<text x="226.1" y="122.6" font-size="6.5" text-anchor="start" fill="#1a1a1a">Myeloid cell homeostasis</text>
<text x="226.1" y="130" font-size="6.5" fill="#1a1a1a">(<tspan font-style="italic">Gata1, Klf1, Kit</tspan>)</text>
<text x="226.1" y="172" font-size="6.5" text-anchor="start" fill="#1a1a1a">Regulation of leukocyte activation</text>
<text x="226.1" y="179.4" font-size="6.5" text-anchor="start" fill="#1a1a1a">Regulation of lymphocyte activation</text>
<text x="226.1" y="186.8" font-size="6.5" text-anchor="start" fill="#1a1a1a">Regulation of cell activation</text>
<text x="226.1" y="194.2" font-size="6.5" fill="#1a1a1a">(<tspan font-style="italic">Zap70, Bcl2, Myb, Irf1, Ikzf3,</tspan></text>
<text x="226.1" y="201.6" font-size="6.5" fill="#1a1a1a"><tspan font-style="italic">Zeb1, Cd74</tspan>)</text>
<text x="226.1" y="219.4" font-size="6.5" text-anchor="start" fill="#1a1a1a">Leukocyte activation</text>
<text x="226.1" y="226.85" font-size="6.5" text-anchor="start" fill="#1a1a1a">Lymphocyte activation</text>
<text x="226.1" y="234.3" font-size="6.5" text-anchor="start" fill="#1a1a1a">Cell activation</text>
<text x="226.1" y="241.75" font-size="6.5" fill="#1a1a1a">(<tspan font-style="italic">Stat6, Tcf7, Il4, Id2, Ccnd3</tspan>)</text>
<text x="226.1" y="252.4" font-size="6.5" text-anchor="start" fill="#1a1a1a">Regulation of cell activation</text>
<text x="226.1" y="259.85" font-size="6.5" text-anchor="start" fill="#1a1a1a">Regulation of lymphocyte activation</text>
<text x="226.1" y="267.3" font-size="6.5" text-anchor="start" fill="#1a1a1a">Regulation of cell-cell adhesion</text>
<text x="240.3" y="275" font-size="6.5" fill="#1a1a1a">(<tspan font-style="italic">Il10, Tnfsf18, Lef1, Hmgb1</tspan>)</text>
<text x="94.3" y="286.5" font-size="5.4" text-anchor="start" fill="#222" textLength="21.2" lengthAdjust="spacingAndGlyphs">Mutation</text>
<rect x="96.6" y="289.2" width="4.2" height="4" fill="#a8002c"/>
<text x="103.9" y="292.75" font-size="5.4" text-anchor="start" fill="#222">Yes</text>
<rect x="96.6" y="295.2" width="4.2" height="4" fill="#fff" stroke="#bbb" stroke-width="0.5"/>
<text x="103.9" y="298.75" font-size="5.4" text-anchor="start" fill="#222">No</text>
<rect x="96.6" y="301.2" width="4.2" height="4" fill="#a8e890"/>
<text x="103.9" y="304.75" font-size="5.4" text-anchor="start" fill="#222">Del</text>
<text x="125.7" y="286.5" font-size="5.4" text-anchor="start" fill="#222" textLength="35.3" lengthAdjust="spacingAndGlyphs">Tumor Passage</text>
<rect x="127.4" y="289.2" width="4.1" height="4" fill="#f5cfa5"/>
<text x="134.6" y="292.75" font-size="5.4" text-anchor="start" fill="#222">Primary</text>
<rect x="127.4" y="295.2" width="4.1" height="4" fill="#e89a40"/>
<text x="134.6" y="298.75" font-size="5.4" text-anchor="start" fill="#222">Secondary</text>
<rect x="127.4" y="301.2" width="4.1" height="4" fill="#b87448"/>
<text x="134.6" y="304.75" font-size="5.4" text-anchor="start" fill="#222">Tertiary</text>
<text x="176.9" y="286.5" font-size="5.4" text-anchor="start" fill="#222" textLength="43.9" lengthAdjust="spacingAndGlyphs">Leukemia Subtype</text>
<rect x="178" y="289.2" width="4.1" height="4" fill="#e0483e"/>
<text x="185.4" y="292.75" font-size="5.4" text-anchor="start" fill="#222">AEL</text>
<rect x="178" y="295.2" width="4.1" height="4" fill="#a8ccee"/>
<text x="185.4" y="298.75" font-size="5.4" text-anchor="start" fill="#222">B-ALL</text>
<rect x="178" y="301.2" width="4.1" height="4" fill="#4fa676"/>
<text x="185.4" y="304.75" font-size="5.4" text-anchor="start" fill="#222">T-ALL</text>
<rect x="178" y="307.2" width="4.1" height="4" fill="#b9b9b9"/>
<text x="185.4" y="310.75" font-size="5.4" text-anchor="start" fill="#222">Normal HSPCs</text>
<g>
<clipPath id="clip23"><rect x="100" y="380.4" width="107" height="215.4"/></clipPath>
<g filter="url(#hblur)"><g clip-path="url(#clip23)">
<path fill="#fefafa" d="M111.26 403h11.86v1.5h-11.86zM190.11 403h6.23v1.5h-6.23zM100 404h6.23v1.5h-6.23zM116.89 404h6.23v1.5h-6.23zM190.11 405h6.23v1.5h-6.23zM100 406h28.76v1.5h-28.76zM190.11 406h6.23v1.5h-6.23zM100 407h11.86v1.5h-11.86zM116.89 407h17.49v1.5h-17.49zM190.11 408h6.23v1.5h-6.23zM100 411h23.13v1.5h-23.13zM100 412h28.76v1.5h-28.76zM190.11 412h6.23v1.5h-6.23zM100 413h34.39v1.5h-34.39zM105.63 414h6.23v1.5h-6.23zM190.11 415h6.23v1.5h-6.23zM100 416h23.13v1.5h-23.13zM111.26 417h17.49v1.5h-17.49zM105.63 418h11.86v1.5h-11.86zM122.53 418h6.23v1.5h-6.23zM105.63 420h17.49v1.5h-17.49zM111.26 421h6.23v1.5h-6.23zM100 423h23.13v1.5h-23.13zM128.16 423h6.23v1.5h-6.23zM190.11 423h6.23v1.5h-6.23zM100 424h28.76v1.5h-28.76zM100 425h6.23v1.5h-6.23zM111.26 425h6.23v1.5h-6.23zM100 426h34.39v1.5h-34.39zM105.63 429h6.23v1.5h-6.23zM105.63 430h17.49v1.5h-17.49zM105.63 431h11.86v1.5h-11.86zM122.53 431h11.86v1.5h-11.86zM100 432h34.39v1.5h-34.39zM100 433h17.49v1.5h-17.49zM122.53 433h6.23v1.5h-6.23zM100 434h28.76v1.5h-28.76zM100 438h17.49v1.5h-17.49zM128.16 439h6.23v1.5h-6.23zM105.63 441h6.23v1.5h-6.23zM116.89 442h17.49v1.5h-17.49zM111.26 444h6.23v0.8h-6.23zM100 491.3h6.23v1.5h-6.23zM105.63 494.5h6.23v1.5h-6.23zM100 495.5h28.76v1.5h-28.76zM116.89 497.5h6.23v1.5h-6.23zM190.11 497.5h6.23v1.5h-6.23zM100 499.5h23.13v1.5h-23.13zM190.11 499.5h6.23v1.5h-6.23zM100 500.5h6.23v1.5h-6.23zM100 501.5h28.76v1.5h-28.76zM105.63 502.5h6.23v1.5h-6.23zM116.89 502.5h6.23v1.5h-6.23zM105.63 503.5h6.23v1.5h-6.23zM100 504.5h11.86v1.5h-11.86zM100 505.5h28.76v1.5h-28.76zM105.63 508.5h6.23v1.5h-6.23zM100 514.5h6.23v1.5h-6.23zM100 515.5h6.23v1.5h-6.23zM100 518.5h34.39v1.5h-34.39zM100 519.5h11.86v1.5h-11.86zM116.89 519.5h6.23v1.5h-6.23zM100 520.5h23.13v1.5h-23.13zM100 521.5h6.23v1.5h-6.23zM100 523.5h11.86v1.5h-11.86zM122.53 523.5h6.23v1.5h-6.23zM156.32 523.5h6.23v1.5h-6.23zM100 524.5h11.86v1.5h-11.86zM100 526.5h6.23v1.5h-6.23zM100 529.5h11.86v1.5h-11.86zM105.63 530.5h6.23v1.5h-6.23zM105.63 531.5h17.49v1.5h-17.49zM100 532.5h34.39v1.5h-34.39zM100 533.5h17.49v1.5h-17.49zM122.53 533.5h6.23v1.5h-6.23zM105.63 534.5h6.23v1.5h-6.23zM100 535.5h34.39v1.5h-34.39zM100 536.5h11.86v1.5h-11.86zM122.53 536.5h6.23v1.5h-6.23zM100 542.5h6.23v1.5h-6.23zM100 543.5h6.23v1.5h-6.23zM128.16 544.5h6.23v1.5h-6.23zM100 545.5h11.86v1.5h-11.86zM116.89 545.5h6.23v1.5h-6.23zM100 547.5h11.86v1.5h-11.86zM100 548.5h6.23v1.5h-6.23zM111.26 548.5h23.13v1.5h-23.13zM100 550.5h6.23v1.5h-6.23zM100 551.5h23.13v1.5h-23.13zM100 553.5h34.39v1.5h-34.39zM150.68 556.3h11.86v1.5h-11.86zM178.84 556.3h6.23v1.5h-6.23zM128.16 557.3h6.23v1.5h-6.23zM156.32 557.3h6.23v1.5h-6.23zM178.84 559.3h6.23v1.5h-6.23zM105.63 560.3h6.23v1.5h-6.23zM105.63 563.3h6.23v1.5h-6.23zM150.68 564.3h28.76v1.5h-28.76zM156.32 566.3h6.23v1.5h-6.23zM100 568.3h6.23v1.5h-6.23zM150.68 569.3h11.86v1.5h-11.86zM100 572.3h17.49v1.5h-17.49zM178.84 572.3h6.23v1.5h-6.23zM150.68 574.3h17.49v1.5h-17.49zM100 576.3h11.86v1.5h-11.86zM150.68 577.3h17.49v1.5h-17.49zM100 580.3h6.23v1.5h-6.23zM150.68 580.3h11.86v1.5h-11.86zM111.26 581.3h6.23v1.5h-6.23zM156.32 583.3h6.23v1.5h-6.23zM156.32 586.3h17.49v1.5h-17.49zM156.32 588.3h6.23v1.5h-6.23zM156.32 590.3h6.23v1.5h-6.23z"/>
<path fill="#fdf6f6" d="M100 403h11.86v1.5h-11.86zM122.53 403h11.86v1.5h-11.86zM105.63 404h11.86v1.5h-11.86zM122.53 404h11.86v1.5h-11.86zM195.74 404h6.23v1.5h-6.23zM100 405h17.49v1.5h-17.49zM128.16 406h6.23v1.5h-6.23zM190.11 409h6.23v1.5h-6.23zM122.53 411h11.86v1.5h-11.86zM195.74 411h6.23v1.5h-6.23zM128.16 412h6.23v1.5h-6.23zM190.11 413h6.23v1.5h-6.23zM100 414h6.23v1.5h-6.23zM111.26 414h11.86v1.5h-11.86zM128.16 414h6.23v1.5h-6.23zM122.53 416h11.86v1.5h-11.86zM190.11 416h6.23v1.5h-6.23zM100 417h11.86v1.5h-11.86zM128.16 417h6.23v1.5h-6.23zM190.11 417h6.23v1.5h-6.23zM100 418h6.23v1.5h-6.23zM116.89 418h6.23v1.5h-6.23zM128.16 418h6.23v1.5h-6.23zM100 419h11.86v1.5h-11.86zM190.11 419h6.23v1.5h-6.23zM100 420h6.23v1.5h-6.23zM122.53 420h11.86v1.5h-11.86zM190.11 420h6.23v1.5h-6.23zM100 421h6.23v1.5h-6.23zM116.89 421h6.23v1.5h-6.23zM190.11 422h6.23v1.5h-6.23zM122.53 423h6.23v1.5h-6.23zM128.16 424h6.23v1.5h-6.23zM105.63 425h6.23v1.5h-6.23zM116.89 425h17.49v1.5h-17.49zM190.11 426h6.23v1.5h-6.23zM116.89 427h6.23v1.5h-6.23zM156.32 427h6.23v1.5h-6.23zM100 429h6.23v1.5h-6.23zM111.26 429h11.86v1.5h-11.86zM128.16 429h6.23v1.5h-6.23zM100 430h6.23v1.5h-6.23zM122.53 430h6.23v1.5h-6.23zM116.89 431h6.23v1.5h-6.23zM116.89 433h6.23v1.5h-6.23zM128.16 433h6.23v1.5h-6.23zM190.11 433h6.23v1.5h-6.23zM128.16 434h6.23v1.5h-6.23zM100 435h23.13v1.5h-23.13zM100 436h6.23v1.5h-6.23zM116.89 436h6.23v1.5h-6.23zM100 437h11.86v1.5h-11.86zM116.89 437h6.23v1.5h-6.23zM128.16 437h6.23v1.5h-6.23zM156.32 437h6.23v1.5h-6.23zM116.89 438h17.49v1.5h-17.49zM100 441h6.23v1.5h-6.23zM111.26 441h23.13v1.5h-23.13zM156.32 441h6.23v1.5h-6.23zM100 444h11.86v0.8h-11.86zM122.53 444h6.23v0.8h-6.23zM100 444.3h11.86v1.5h-11.86zM100 458.3h6.23v1.5h-6.23zM111.26 470.3h6.23v1.5h-6.23zM100 488.3h6.23v1.5h-6.23zM111.26 488.3h11.86v1.5h-11.86zM111.26 491.3h6.23v1.5h-6.23zM100 494.5h6.23v1.5h-6.23zM111.26 494.5h11.86v1.5h-11.86zM195.74 494.5h6.23v1.5h-6.23zM128.16 495.5h6.23v1.5h-6.23zM190.11 495.5h6.23v1.5h-6.23zM105.63 498.5h6.23v1.5h-6.23zM122.53 499.5h11.86v1.5h-11.86zM150.68 499.5h11.86v1.5h-11.86zM105.63 500.5h28.76v1.5h-28.76zM190.11 500.5h6.23v1.5h-6.23zM128.16 501.5h6.23v1.5h-6.23zM150.68 501.5h11.86v1.5h-11.86zM190.11 501.5h6.23v1.5h-6.23zM100 502.5h6.23v1.5h-6.23zM111.26 502.5h6.23v1.5h-6.23zM122.53 502.5h11.86v1.5h-11.86zM156.32 502.5h6.23v1.5h-6.23zM190.11 502.5h6.23v1.5h-6.23zM100 503.5h6.23v1.5h-6.23zM111.26 503.5h11.86v1.5h-11.86zM128.16 503.5h6.23v1.5h-6.23zM190.11 503.5h6.23v1.5h-6.23zM111.26 504.5h23.13v1.5h-23.13zM128.16 505.5h6.23v1.5h-6.23zM190.11 505.5h6.23v1.5h-6.23zM105.63 506.5h11.86v1.5h-11.86zM150.68 506.5h17.49v1.5h-17.49zM100 507.5h6.23v1.5h-6.23zM116.89 507.5h6.23v1.5h-6.23zM190.11 507.5h6.23v1.5h-6.23zM100 508.5h6.23v1.5h-6.23zM116.89 508.5h11.86v1.5h-11.86zM116.89 509.5h6.23v1.5h-6.23zM116.89 510.5h6.23v1.5h-6.23zM190.11 510.5h6.23v1.5h-6.23zM100 511.5h11.86v1.5h-11.86zM100 512.5h34.39v1.5h-34.39zM100 513.5h6.23v1.5h-6.23zM105.63 514.5h23.13v1.5h-23.13zM105.63 515.5h28.76v1.5h-28.76zM100 516.5h23.13v1.5h-23.13zM156.32 516.5h6.23v1.5h-6.23zM105.63 517.5h11.86v1.5h-11.86zM122.53 517.5h6.23v1.5h-6.23zM150.68 518.5h6.23v1.5h-6.23zM111.26 519.5h6.23v1.5h-6.23zM122.53 519.5h11.86v1.5h-11.86zM122.53 520.5h11.86v1.5h-11.86zM150.68 520.5h11.86v1.5h-11.86zM105.63 521.5h23.13v1.5h-23.13zM111.26 522.5h6.23v1.5h-6.23zM111.26 523.5h11.86v1.5h-11.86zM128.16 523.5h6.23v1.5h-6.23zM150.68 523.5h6.23v1.5h-6.23zM116.89 524.5h17.49v1.5h-17.49zM105.63 526.5h23.13v1.5h-23.13zM105.63 527.5h6.23v1.5h-6.23zM116.89 527.5h6.23v1.5h-6.23zM100 528.5h17.49v1.5h-17.49zM150.68 528.5h17.49v1.5h-17.49zM111.26 529.5h17.49v1.5h-17.49zM100 530.5h6.23v1.5h-6.23zM111.26 530.5h23.13v1.5h-23.13zM150.68 530.5h11.86v1.5h-11.86zM167.58 530.5h6.23v1.5h-6.23zM122.53 531.5h11.86v1.5h-11.86zM156.32 531.5h6.23v1.5h-6.23zM150.68 532.5h11.86v1.5h-11.86zM116.89 533.5h6.23v1.5h-6.23zM128.16 533.5h6.23v1.5h-6.23zM100 534.5h6.23v1.5h-6.23zM111.26 534.5h17.49v1.5h-17.49zM111.26 536.5h11.86v1.5h-11.86zM128.16 536.5h6.23v1.5h-6.23zM105.63 537.5h6.23v1.5h-6.23zM100 538.5h28.76v1.5h-28.76zM150.68 538.5h11.86v1.5h-11.86zM100 540.5h11.86v1.5h-11.86zM156.32 540.5h6.23v1.5h-6.23zM105.63 541.5h6.23v1.5h-6.23zM105.63 542.5h28.76v1.5h-28.76zM105.63 543.5h28.76v1.5h-28.76zM111.26 545.5h6.23v1.5h-6.23zM122.53 545.5h11.86v1.5h-11.86zM111.26 547.5h23.13v1.5h-23.13zM100 549.5h28.76v1.5h-28.76zM150.68 549.5h17.49v1.5h-17.49zM105.63 550.5h28.76v1.5h-28.76zM122.53 551.5h11.86v1.5h-11.86zM105.63 552.5h6.23v1.5h-6.23zM122.53 552.5h6.23v1.5h-6.23zM100 554.5h11.86v1.5h-11.86zM116.89 554.5h6.23v1.5h-6.23zM105.63 556.3h6.23v1.5h-6.23zM161.95 556.3h11.86v1.5h-11.86zM184.47 556.3h6.23v1.5h-6.23zM100 557.3h17.49v1.5h-17.49zM150.68 557.3h6.23v1.5h-6.23zM167.58 557.3h17.49v1.5h-17.49zM100 558.3h6.23v1.5h-6.23zM150.68 558.3h11.86v1.5h-11.86zM167.58 558.3h17.49v1.5h-17.49zM150.68 559.3h23.13v1.5h-23.13zM184.47 559.3h6.23v1.5h-6.23zM100 560.3h6.23v1.5h-6.23zM111.26 560.3h6.23v1.5h-6.23zM128.16 560.3h6.23v1.5h-6.23zM156.32 560.3h6.23v1.5h-6.23zM178.84 560.3h6.23v1.5h-6.23zM105.63 561.3h6.23v1.5h-6.23zM139.42 562.3h6.23v1.5h-6.23zM156.32 562.3h6.23v1.5h-6.23zM178.84 562.3h6.23v1.5h-6.23zM100 563.3h6.23v1.5h-6.23zM111.26 563.3h6.23v1.5h-6.23zM178.84 563.3h6.23v1.5h-6.23zM100 564.3h11.86v1.5h-11.86zM100 565.3h11.86v1.5h-11.86zM128.16 565.3h6.23v1.5h-6.23zM100 566.3h6.23v1.5h-6.23zM128.16 566.3h6.23v1.5h-6.23zM161.95 566.3h23.13v1.5h-23.13zM105.63 568.3h11.86v1.5h-11.86zM150.68 568.3h34.39v1.5h-34.39zM161.95 569.3h11.86v1.5h-11.86zM178.84 569.3h6.23v1.5h-6.23zM150.68 570.3h6.23v1.5h-6.23zM161.95 570.3h6.23v1.5h-6.23zM100 571.3h6.23v1.5h-6.23zM156.32 571.3h6.23v1.5h-6.23zM128.16 572.3h6.23v1.5h-6.23zM150.68 572.3h17.49v1.5h-17.49zM100 573.3h17.49v1.5h-17.49zM150.68 573.3h6.23v1.5h-6.23zM178.84 573.3h6.23v1.5h-6.23zM167.58 574.3h17.49v1.5h-17.49zM150.68 575.3h17.49v1.5h-17.49zM111.26 576.3h11.86v1.5h-11.86zM128.16 576.3h6.23v1.5h-6.23zM150.68 576.3h11.86v1.5h-11.86zM167.58 576.3h6.23v1.5h-6.23zM178.84 576.3h6.23v1.5h-6.23zM100 577.3h17.49v1.5h-17.49zM128.16 577.3h6.23v1.5h-6.23zM167.58 577.3h11.86v1.5h-11.86zM105.63 578.3h6.23v1.5h-6.23zM150.68 578.3h23.13v1.5h-23.13zM178.84 578.3h6.23v1.5h-6.23zM105.63 580.3h11.86v1.5h-11.86zM128.16 580.3h6.23v1.5h-6.23zM161.95 580.3h23.13v1.5h-23.13zM100 581.3h11.86v1.5h-11.86zM116.89 581.3h6.23v1.5h-6.23zM128.16 581.3h6.23v1.5h-6.23zM150.68 582.3h11.86v1.5h-11.86zM178.84 582.3h6.23v1.5h-6.23zM105.63 583.3h6.23v1.5h-6.23zM150.68 583.3h6.23v1.5h-6.23zM161.95 583.3h11.86v1.5h-11.86zM178.84 583.3h6.23v1.5h-6.23zM150.68 585.3h11.86v1.5h-11.86zM173.21 586.3h11.86v1.5h-11.86zM150.68 588.3h6.23v1.5h-6.23zM167.58 588.3h6.23v1.5h-6.23zM178.84 588.3h6.23v1.5h-6.23zM105.63 589.3h6.23v1.5h-6.23zM100 590.3h17.49v1.5h-17.49zM128.16 590.3h6.23v1.5h-6.23zM150.68 590.3h6.23v1.5h-6.23zM167.58 590.3h6.23v1.5h-6.23zM178.84 590.3h6.23v1.5h-6.23zM100 591.3h17.49v1.5h-17.49zM150.68 592.3h11.86v1.5h-11.86zM178.84 592.3h6.23v1.5h-6.23zM178.84 593.3h6.23v1.5h-6.23zM100 594.3h6.23v1.5h-6.23zM100 595.3h6.23v1h-6.23zM150.68 595.3h17.49v1h-17.49zM178.84 595.3h6.23v1h-6.23z"/>
<path fill="#fcf1f1" d="M156.32 404h6.23v1.5h-6.23zM116.89 405h6.23v1.5h-6.23zM195.74 405h6.23v1.5h-6.23zM150.68 406h11.86v1.5h-11.86zM195.74 406h6.23v1.5h-6.23zM178.84 407h6.23v1.5h-6.23zM195.74 407h6.23v1.5h-6.23zM100 408h23.13v1.5h-23.13zM195.74 408h6.23v1.5h-6.23zM150.68 409h11.86v1.5h-11.86zM178.84 409h6.23v1.5h-6.23zM100 410h34.39v1.5h-34.39zM190.11 410h6.23v1.5h-6.23zM150.68 411h6.23v1.5h-6.23zM156.32 412h6.23v1.5h-6.23zM178.84 412h6.23v1.5h-6.23zM150.68 413h11.86v1.5h-11.86zM178.84 413h6.23v1.5h-6.23zM122.53 414h6.23v1.5h-6.23zM150.68 414h11.86v1.5h-11.86zM190.11 414h6.23v1.5h-6.23zM100 415h6.23v1.5h-6.23zM111.26 415h23.13v1.5h-23.13zM156.32 416h6.23v1.5h-6.23zM178.84 418h6.23v1.5h-6.23zM190.11 418h6.23v1.5h-6.23zM111.26 419h23.13v1.5h-23.13zM150.68 419h6.23v1.5h-6.23zM178.84 419h6.23v1.5h-6.23zM150.68 420h6.23v1.5h-6.23zM178.84 420h6.23v1.5h-6.23zM105.63 421h6.23v1.5h-6.23zM128.16 421h6.23v1.5h-6.23zM105.63 422h17.49v1.5h-17.49zM150.68 422h11.86v1.5h-11.86zM150.68 423h11.86v1.5h-11.86zM178.84 423h6.23v1.5h-6.23zM178.84 425h6.23v1.5h-6.23zM190.11 425h6.23v1.5h-6.23zM178.84 426h6.23v1.5h-6.23zM100 427h6.23v1.5h-6.23zM111.26 427h6.23v1.5h-6.23zM150.68 427h6.23v1.5h-6.23zM190.11 427h6.23v1.5h-6.23zM100 428h28.76v1.5h-28.76zM190.11 428h6.23v1.5h-6.23zM122.53 429h6.23v1.5h-6.23zM128.16 430h6.23v1.5h-6.23zM150.68 430h11.86v1.5h-11.86zM190.11 430h6.23v1.5h-6.23zM178.84 431h6.23v1.5h-6.23zM190.11 431h6.23v1.5h-6.23zM178.84 432h6.23v1.5h-6.23zM190.11 432h6.23v1.5h-6.23zM178.84 433h6.23v1.5h-6.23zM150.68 434h11.86v1.5h-11.86zM178.84 434h6.23v1.5h-6.23zM128.16 435h6.23v1.5h-6.23zM105.63 436h11.86v1.5h-11.86zM122.53 436h11.86v1.5h-11.86zM150.68 436h11.86v1.5h-11.86zM178.84 436h6.23v1.5h-6.23zM111.26 437h6.23v1.5h-6.23zM150.68 437h6.23v1.5h-6.23zM190.11 437h6.23v1.5h-6.23zM178.84 438h6.23v1.5h-6.23zM100 440h17.49v1.5h-17.49zM150.68 441h6.23v1.5h-6.23zM178.84 441h6.23v1.5h-6.23zM178.84 442h6.23v1.5h-6.23zM100 443h23.13v1.5h-23.13zM150.68 443h11.86v1.5h-11.86zM178.84 443h6.23v1.5h-6.23zM116.89 444h6.23v0.8h-6.23zM128.16 444h6.23v0.8h-6.23zM111.26 444.3h23.13v1.5h-23.13zM100 446.3h23.13v1.5h-23.13zM100 447.3h17.49v1.5h-17.49zM100 451.3h11.86v1.5h-11.86zM100 453.3h6.23v1.5h-6.23zM111.26 453.3h6.23v1.5h-6.23zM100 455.3h28.76v1.5h-28.76zM105.63 456.3h6.23v1.5h-6.23zM100 457.3h6.23v1.5h-6.23zM105.63 458.3h23.13v1.5h-23.13zM100 461.3h17.49v1.5h-17.49zM100 462.3h6.23v1.5h-6.23zM100 463.3h6.23v1.5h-6.23zM100 464.3h23.13v1.5h-23.13zM100 466.3h28.76v1.5h-28.76zM100 469.3h6.23v1.5h-6.23zM100 470.3h11.86v1.5h-11.86zM116.89 470.3h11.86v1.5h-11.86zM100 473.3h11.86v1.5h-11.86zM100 475.3h11.86v1.5h-11.86zM100 477.3h6.23v1.5h-6.23zM100 481.3h17.49v1.5h-17.49zM100 482.3h23.13v1.5h-23.13zM105.63 483.3h6.23v1.5h-6.23zM100 486.3h11.86v1.5h-11.86zM100 487.3h6.23v1.5h-6.23zM105.63 488.3h6.23v1.5h-6.23zM122.53 488.3h11.86v1.5h-11.86zM105.63 489.3h6.23v1.5h-6.23zM105.63 491.3h6.23v1.5h-6.23zM116.89 491.3h11.86v1.5h-11.86zM100 493.3h6.23v1.5h-6.23zM122.53 494.5h11.86v1.5h-11.86zM116.89 496.5h11.86v1.5h-11.86zM150.68 496.5h11.86v1.5h-11.86zM190.11 496.5h6.23v1.5h-6.23zM150.68 497.5h17.49v1.5h-17.49zM100 498.5h6.23v1.5h-6.23zM116.89 498.5h6.23v1.5h-6.23zM150.68 498.5h11.86v1.5h-11.86zM190.11 498.5h6.23v1.5h-6.23zM161.95 499.5h6.23v1.5h-6.23zM150.68 500.5h11.86v1.5h-11.86zM161.95 501.5h17.49v1.5h-17.49zM150.68 502.5h6.23v1.5h-6.23zM161.95 502.5h6.23v1.5h-6.23zM122.53 503.5h6.23v1.5h-6.23zM150.68 504.5h6.23v1.5h-6.23zM150.68 505.5h17.49v1.5h-17.49zM100 506.5h6.23v1.5h-6.23zM116.89 506.5h17.49v1.5h-17.49zM167.58 506.5h11.86v1.5h-11.86zM190.11 506.5h6.23v1.5h-6.23zM105.63 507.5h11.86v1.5h-11.86zM122.53 507.5h11.86v1.5h-11.86zM150.68 507.5h17.49v1.5h-17.49zM111.26 508.5h6.23v1.5h-6.23zM128.16 508.5h6.23v1.5h-6.23zM100 509.5h17.49v1.5h-17.49zM122.53 509.5h6.23v1.5h-6.23zM100 510.5h17.49v1.5h-17.49zM122.53 510.5h11.86v1.5h-11.86zM150.68 510.5h6.23v1.5h-6.23zM161.95 510.5h6.23v1.5h-6.23zM111.26 511.5h6.23v1.5h-6.23zM156.32 511.5h11.86v1.5h-11.86zM156.32 512.5h6.23v1.5h-6.23zM190.11 512.5h6.23v1.5h-6.23zM105.63 513.5h11.86v1.5h-11.86zM150.68 513.5h11.86v1.5h-11.86zM128.16 514.5h6.23v1.5h-6.23zM156.32 514.5h6.23v1.5h-6.23zM190.11 514.5h6.23v1.5h-6.23zM150.68 515.5h6.23v1.5h-6.23zM190.11 515.5h6.23v1.5h-6.23zM122.53 516.5h11.86v1.5h-11.86zM150.68 516.5h6.23v1.5h-6.23zM161.95 516.5h11.86v1.5h-11.86zM100 517.5h6.23v1.5h-6.23zM116.89 517.5h6.23v1.5h-6.23zM128.16 517.5h6.23v1.5h-6.23zM150.68 517.5h11.86v1.5h-11.86zM156.32 518.5h11.86v1.5h-11.86zM173.21 518.5h6.23v1.5h-6.23zM161.95 519.5h6.23v1.5h-6.23zM161.95 520.5h11.86v1.5h-11.86zM128.16 521.5h6.23v1.5h-6.23zM150.68 521.5h17.49v1.5h-17.49zM100 522.5h11.86v1.5h-11.86zM116.89 522.5h6.23v1.5h-6.23zM161.95 523.5h6.23v1.5h-6.23zM173.21 523.5h6.23v1.5h-6.23zM111.26 524.5h6.23v1.5h-6.23zM150.68 524.5h11.86v1.5h-11.86zM100 525.5h23.13v1.5h-23.13zM128.16 526.5h6.23v1.5h-6.23zM100 527.5h6.23v1.5h-6.23zM111.26 527.5h6.23v1.5h-6.23zM122.53 527.5h11.86v1.5h-11.86zM156.32 527.5h6.23v1.5h-6.23zM116.89 528.5h6.23v1.5h-6.23zM128.16 528.5h6.23v1.5h-6.23zM167.58 528.5h11.86v1.5h-11.86zM128.16 529.5h6.23v1.5h-6.23zM150.68 529.5h17.49v1.5h-17.49zM161.95 530.5h6.23v1.5h-6.23zM173.21 530.5h6.23v1.5h-6.23zM150.68 531.5h6.23v1.5h-6.23zM161.95 532.5h6.23v1.5h-6.23zM173.21 532.5h6.23v1.5h-6.23zM150.68 533.5h17.49v1.5h-17.49zM128.16 534.5h6.23v1.5h-6.23zM150.68 535.5h6.23v1.5h-6.23zM100 537.5h6.23v1.5h-6.23zM111.26 537.5h17.49v1.5h-17.49zM128.16 538.5h6.23v1.5h-6.23zM161.95 538.5h17.49v1.5h-17.49zM105.63 539.5h11.86v1.5h-11.86zM111.26 540.5h23.13v1.5h-23.13zM150.68 540.5h6.23v1.5h-6.23zM167.58 540.5h6.23v1.5h-6.23zM100 541.5h6.23v1.5h-6.23zM111.26 541.5h11.86v1.5h-11.86zM156.32 542.5h6.23v1.5h-6.23zM156.32 547.5h6.23v1.5h-6.23zM156.32 548.5h6.23v1.5h-6.23zM128.16 549.5h6.23v1.5h-6.23zM167.58 549.5h11.86v1.5h-11.86zM150.68 551.5h11.86v1.5h-11.86zM100 552.5h6.23v1.5h-6.23zM111.26 552.5h11.86v1.5h-11.86zM128.16 552.5h6.23v1.5h-6.23zM150.68 553.5h17.49v1.5h-17.49zM111.26 554.5h6.23v1.5h-6.23zM111.26 556.3h6.23v1.5h-6.23zM173.21 556.3h6.23v1.5h-6.23zM116.89 557.3h11.86v1.5h-11.86zM133.79 557.3h17.49v1.5h-17.49zM161.95 557.3h6.23v1.5h-6.23zM184.47 557.3h6.23v1.5h-6.23zM111.26 558.3h6.23v1.5h-6.23zM161.95 558.3h6.23v1.5h-6.23zM184.47 558.3h6.23v1.5h-6.23zM100 559.3h17.49v1.5h-17.49zM128.16 559.3h6.23v1.5h-6.23zM173.21 559.3h6.23v1.5h-6.23zM116.89 560.3h11.86v1.5h-11.86zM150.68 560.3h6.23v1.5h-6.23zM161.95 560.3h6.23v1.5h-6.23zM184.47 560.3h6.23v1.5h-6.23zM100 561.3h6.23v1.5h-6.23zM111.26 561.3h6.23v1.5h-6.23zM128.16 561.3h6.23v1.5h-6.23zM150.68 561.3h6.23v1.5h-6.23zM161.95 561.3h6.23v1.5h-6.23zM133.79 562.3h6.23v1.5h-6.23zM145.05 562.3h11.86v1.5h-11.86zM184.47 562.3h6.23v1.5h-6.23zM116.89 563.3h6.23v1.5h-6.23zM128.16 563.3h6.23v1.5h-6.23zM156.32 563.3h17.49v1.5h-17.49zM184.47 563.3h6.23v1.5h-6.23zM111.26 564.3h11.86v1.5h-11.86zM128.16 564.3h6.23v1.5h-6.23zM178.84 564.3h6.23v1.5h-6.23zM111.26 565.3h6.23v1.5h-6.23zM105.63 566.3h11.86v1.5h-11.86zM133.79 566.3h11.86v1.5h-11.86zM100 567.3h11.86v1.5h-11.86zM178.84 567.3h6.23v1.5h-6.23zM122.53 568.3h11.86v1.5h-11.86zM173.21 569.3h6.23v1.5h-6.23zM184.47 569.3h6.23v1.5h-6.23zM156.32 570.3h6.23v1.5h-6.23zM167.58 570.3h6.23v1.5h-6.23zM128.16 571.3h6.23v1.5h-6.23zM150.68 571.3h6.23v1.5h-6.23zM161.95 571.3h6.23v1.5h-6.23zM178.84 571.3h6.23v1.5h-6.23zM116.89 572.3h6.23v1.5h-6.23zM167.58 572.3h11.86v1.5h-11.86zM184.47 572.3h6.23v1.5h-6.23zM116.89 573.3h6.23v1.5h-6.23zM128.16 573.3h6.23v1.5h-6.23zM161.95 573.3h6.23v1.5h-6.23zM184.47 573.3h6.23v1.5h-6.23zM100 574.3h11.86v1.5h-11.86zM184.47 574.3h6.23v1.5h-6.23zM100 575.3h6.23v1.5h-6.23zM167.58 575.3h11.86v1.5h-11.86zM122.53 576.3h6.23v1.5h-6.23zM145.05 576.3h6.23v1.5h-6.23zM161.95 576.3h6.23v1.5h-6.23zM173.21 576.3h6.23v1.5h-6.23zM116.89 577.3h6.23v1.5h-6.23zM100 578.3h6.23v1.5h-6.23zM111.26 578.3h6.23v1.5h-6.23zM173.21 578.3h6.23v1.5h-6.23zM150.68 579.3h28.76v1.5h-28.76zM116.89 580.3h11.86v1.5h-11.86zM139.42 580.3h11.86v1.5h-11.86zM184.47 580.3h6.23v1.5h-6.23zM122.53 581.3h6.23v1.5h-6.23zM100 582.3h17.49v1.5h-17.49zM128.16 582.3h6.23v1.5h-6.23zM173.21 582.3h6.23v1.5h-6.23zM184.47 582.3h6.23v1.5h-6.23zM100 583.3h6.23v1.5h-6.23zM128.16 583.3h6.23v1.5h-6.23zM173.21 583.3h6.23v1.5h-6.23zM139.42 584.3h17.49v1.5h-17.49zM167.58 584.3h6.23v1.5h-6.23zM161.95 585.3h17.49v1.5h-17.49zM100 586.3h6.23v1.5h-6.23zM139.42 586.3h6.23v1.5h-6.23zM184.47 586.3h6.23v1.5h-6.23zM100 587.3h6.23v1.5h-6.23zM100 588.3h17.49v1.5h-17.49zM128.16 588.3h6.23v1.5h-6.23zM161.95 588.3h6.23v1.5h-6.23zM173.21 588.3h6.23v1.5h-6.23zM184.47 588.3h6.23v1.5h-6.23zM100 589.3h6.23v1.5h-6.23zM111.26 589.3h6.23v1.5h-6.23zM139.42 589.3h17.49v1.5h-17.49zM116.89 590.3h6.23v1.5h-6.23zM161.95 590.3h6.23v1.5h-6.23zM173.21 590.3h6.23v1.5h-6.23zM184.47 590.3h6.23v1.5h-6.23zM128.16 591.3h6.23v1.5h-6.23zM150.68 591.3h17.49v1.5h-17.49zM178.84 591.3h6.23v1.5h-6.23zM161.95 592.3h17.49v1.5h-17.49zM184.47 592.3h6.23v1.5h-6.23zM100 593.3h6.23v1.5h-6.23zM111.26 593.3h6.23v1.5h-6.23zM128.16 593.3h6.23v1.5h-6.23zM145.05 593.3h23.13v1.5h-23.13zM173.21 593.3h6.23v1.5h-6.23zM105.63 594.3h11.86v1.5h-11.86zM128.16 594.3h6.23v1.5h-6.23zM156.32 594.3h6.23v1.5h-6.23zM178.84 594.3h6.23v1.5h-6.23zM105.63 595.3h11.86v1h-11.86zM128.16 595.3h23.13v1h-23.13zM167.58 595.3h6.23v1h-6.23z"/>
<path fill="#fceded" d="M178.84 403h6.23v1.5h-6.23zM195.74 403h6.23v1.5h-6.23zM150.68 404h6.23v1.5h-6.23zM122.53 405h11.86v1.5h-11.86zM150.68 405h11.86v1.5h-11.86zM178.84 405h6.23v1.5h-6.23zM122.53 408h11.86v1.5h-11.86zM178.84 408h6.23v1.5h-6.23zM150.68 410h6.23v1.5h-6.23zM150.68 412h6.23v1.5h-6.23zM195.74 412h6.23v1.5h-6.23zM161.95 413h6.23v1.5h-6.23zM184.47 413h6.23v1.5h-6.23zM105.63 415h6.23v1.5h-6.23zM150.68 415h11.86v1.5h-11.86zM150.68 416h6.23v1.5h-6.23zM178.84 417h6.23v1.5h-6.23zM156.32 418h6.23v1.5h-6.23zM156.32 419h6.23v1.5h-6.23zM156.32 420h6.23v1.5h-6.23zM122.53 421h6.23v1.5h-6.23zM190.11 421h6.23v1.5h-6.23zM100 422h6.23v1.5h-6.23zM122.53 422h6.23v1.5h-6.23zM178.84 422h6.23v1.5h-6.23zM195.74 423h6.23v1.5h-6.23zM178.84 424h6.23v1.5h-6.23zM190.11 424h6.23v1.5h-6.23zM150.68 425h11.86v1.5h-11.86zM105.63 427h6.23v1.5h-6.23zM122.53 427h11.86v1.5h-11.86zM161.95 427h6.23v1.5h-6.23zM178.84 427h6.23v1.5h-6.23zM128.16 428h6.23v1.5h-6.23zM156.32 428h6.23v1.5h-6.23zM178.84 428h6.23v1.5h-6.23zM150.68 429h11.86v1.5h-11.86zM190.11 429h6.23v1.5h-6.23zM150.68 431h11.86v1.5h-11.86zM184.47 433h6.23v1.5h-6.23zM190.11 434h6.23v1.5h-6.23zM122.53 435h6.23v1.5h-6.23zM150.68 435h6.23v1.5h-6.23zM190.11 436h6.23v1.5h-6.23zM122.53 437h6.23v1.5h-6.23zM161.95 437h6.23v1.5h-6.23zM178.84 437h6.23v1.5h-6.23zM190.11 438h6.23v1.5h-6.23zM178.84 439h6.23v1.5h-6.23zM116.89 440h17.49v1.5h-17.49zM178.84 440h6.23v1.5h-6.23zM190.11 440h6.23v1.5h-6.23zM161.95 441h6.23v1.5h-6.23zM133.79 442h6.23v1.5h-6.23zM190.11 442h6.23v1.5h-6.23zM122.53 443h11.86v1.5h-11.86zM190.11 443h6.23v1.5h-6.23zM100 445.3h11.86v1.5h-11.86zM116.89 445.3h6.23v1.5h-6.23zM122.53 446.3h6.23v1.5h-6.23zM116.89 447.3h6.23v1.5h-6.23zM128.16 447.3h6.23v1.5h-6.23zM105.63 448.3h6.23v1.5h-6.23zM116.89 448.3h6.23v1.5h-6.23zM100 449.3h28.76v1.5h-28.76zM100 450.3h23.13v1.5h-23.13zM111.26 451.3h6.23v1.5h-6.23zM105.63 453.3h6.23v1.5h-6.23zM116.89 453.3h11.86v1.5h-11.86zM100 456.3h6.23v1.5h-6.23zM111.26 456.3h11.86v1.5h-11.86zM105.63 457.3h17.49v1.5h-17.49zM100 459.3h17.49v1.5h-17.49zM122.53 459.3h6.23v1.5h-6.23zM105.63 460.3h6.23v1.5h-6.23zM116.89 461.3h11.86v1.5h-11.86zM105.63 462.3h17.49v1.5h-17.49zM105.63 463.3h6.23v1.5h-6.23zM122.53 464.3h6.23v1.5h-6.23zM100 465.3h28.76v1.5h-28.76zM128.16 466.3h6.23v1.5h-6.23zM100 467.3h6.23v1.5h-6.23zM105.63 469.3h17.49v1.5h-17.49zM128.16 470.3h6.23v1.5h-6.23zM100 472.3h11.86v1.5h-11.86zM111.26 473.3h17.49v1.5h-17.49zM105.63 474.3h6.23v1.5h-6.23zM116.89 474.3h6.23v1.5h-6.23zM111.26 475.3h17.49v1.5h-17.49zM100 476.3h23.13v1.5h-23.13zM105.63 477.3h17.49v1.5h-17.49zM100 478.3h6.23v1.5h-6.23zM100 479.3h23.13v1.5h-23.13zM116.89 481.3h6.23v1.5h-6.23zM122.53 482.3h6.23v1.5h-6.23zM100 483.3h6.23v1.5h-6.23zM111.26 483.3h11.86v1.5h-11.86zM100 485.3h17.49v1.5h-17.49zM111.26 486.3h11.86v1.5h-11.86zM111.26 487.3h6.23v1.5h-6.23zM100 489.3h6.23v1.5h-6.23zM111.26 489.3h11.86v1.5h-11.86zM128.16 491.3h6.23v1.5h-6.23zM100 492.3h23.13v1.5h-23.13zM105.63 493.3h17.49v1.5h-17.49zM100 496.5h17.49v1.5h-17.49zM161.95 496.5h11.86v1.5h-11.86zM173.21 497.5h6.23v1.5h-6.23zM195.74 497.5h6.23v1.5h-6.23zM111.26 498.5h6.23v1.5h-6.23zM122.53 498.5h11.86v1.5h-11.86zM161.95 498.5h17.49v1.5h-17.49zM167.58 499.5h11.86v1.5h-11.86zM195.74 499.5h6.23v1.5h-6.23zM161.95 500.5h17.49v1.5h-17.49zM195.74 501.5h6.23v1.5h-6.23zM167.58 502.5h11.86v1.5h-11.86zM195.74 502.5h6.23v1.5h-6.23zM156.32 504.5h23.13v1.5h-23.13zM167.58 505.5h11.86v1.5h-11.86zM167.58 507.5h11.86v1.5h-11.86zM150.68 508.5h11.86v1.5h-11.86zM128.16 509.5h6.23v1.5h-6.23zM156.32 510.5h6.23v1.5h-6.23zM167.58 510.5h11.86v1.5h-11.86zM116.89 511.5h11.86v1.5h-11.86zM150.68 511.5h6.23v1.5h-6.23zM167.58 511.5h11.86v1.5h-11.86zM190.11 511.5h6.23v1.5h-6.23zM150.68 512.5h6.23v1.5h-6.23zM161.95 512.5h17.49v1.5h-17.49zM116.89 513.5h17.49v1.5h-17.49zM161.95 513.5h11.86v1.5h-11.86zM190.11 513.5h6.23v1.5h-6.23zM133.79 514.5h6.23v1.5h-6.23zM145.05 514.5h6.23v1.5h-6.23zM156.32 515.5h17.49v1.5h-17.49zM173.21 516.5h6.23v1.5h-6.23zM167.58 518.5h6.23v1.5h-6.23zM150.68 519.5h11.86v1.5h-11.86zM167.58 519.5h11.86v1.5h-11.86zM173.21 520.5h6.23v1.5h-6.23zM167.58 521.5h11.86v1.5h-11.86zM190.11 521.5h6.23v1.5h-6.23zM122.53 522.5h11.86v1.5h-11.86zM190.11 522.5h6.23v1.5h-6.23zM167.58 523.5h6.23v1.5h-6.23zM133.79 524.5h6.23v1.5h-6.23zM161.95 524.5h11.86v1.5h-11.86zM122.53 525.5h11.86v1.5h-11.86zM150.68 525.5h17.49v1.5h-17.49zM150.68 527.5h6.23v1.5h-6.23zM161.95 527.5h6.23v1.5h-6.23zM122.53 528.5h6.23v1.5h-6.23zM167.58 529.5h11.86v1.5h-11.86zM161.95 531.5h17.49v1.5h-17.49zM133.79 532.5h6.23v1.5h-6.23zM167.58 532.5h6.23v1.5h-6.23zM167.58 533.5h11.86v1.5h-11.86zM156.32 534.5h6.23v1.5h-6.23zM173.21 534.5h6.23v1.5h-6.23zM156.32 535.5h17.49v1.5h-17.49zM128.16 537.5h6.23v1.5h-6.23zM100 539.5h6.23v1.5h-6.23zM128.16 539.5h6.23v1.5h-6.23zM161.95 539.5h6.23v1.5h-6.23zM161.95 540.5h6.23v1.5h-6.23zM173.21 540.5h6.23v1.5h-6.23zM122.53 541.5h11.86v1.5h-11.86zM161.95 542.5h6.23v1.5h-6.23zM150.68 543.5h6.23v1.5h-6.23zM167.58 543.5h11.86v1.5h-11.86zM150.68 544.5h11.86v1.5h-11.86zM150.68 545.5h17.49v1.5h-17.49zM173.21 545.5h6.23v1.5h-6.23zM100 546.5h6.23v1.5h-6.23zM111.26 546.5h11.86v1.5h-11.86zM150.68 546.5h11.86v1.5h-11.86zM173.21 546.5h6.23v1.5h-6.23zM150.68 547.5h6.23v1.5h-6.23zM161.95 547.5h6.23v1.5h-6.23zM173.21 547.5h6.23v1.5h-6.23zM150.68 548.5h6.23v1.5h-6.23zM161.95 548.5h17.49v1.5h-17.49zM161.95 551.5h17.49v1.5h-17.49zM167.58 553.5h11.86v1.5h-11.86zM122.53 554.5h6.23v1.5h-6.23zM100 555.5h23.13v1.3h-23.13zM100 556.3h6.23v1.5h-6.23zM116.89 556.3h6.23v1.5h-6.23zM128.16 556.3h11.86v1.5h-11.86zM145.05 556.3h6.23v1.5h-6.23zM105.63 558.3h6.23v1.5h-6.23zM122.53 558.3h11.86v1.5h-11.86zM139.42 558.3h11.86v1.5h-11.86zM139.42 560.3h6.23v1.5h-6.23zM167.58 560.3h6.23v1.5h-6.23zM116.89 561.3h11.86v1.5h-11.86zM156.32 561.3h6.23v1.5h-6.23zM167.58 561.3h6.23v1.5h-6.23zM178.84 561.3h6.23v1.5h-6.23zM105.63 562.3h6.23v1.5h-6.23zM161.95 562.3h17.49v1.5h-17.49zM122.53 563.3h6.23v1.5h-6.23zM139.42 563.3h6.23v1.5h-6.23zM150.68 563.3h6.23v1.5h-6.23zM173.21 563.3h6.23v1.5h-6.23zM122.53 564.3h6.23v1.5h-6.23zM116.89 565.3h11.86v1.5h-11.86zM150.68 565.3h23.13v1.5h-23.13zM116.89 566.3h6.23v1.5h-6.23zM145.05 566.3h6.23v1.5h-6.23zM184.47 566.3h6.23v1.5h-6.23zM111.26 567.3h6.23v1.5h-6.23zM128.16 567.3h6.23v1.5h-6.23zM150.68 567.3h11.86v1.5h-11.86zM167.58 567.3h6.23v1.5h-6.23zM184.47 567.3h6.23v1.5h-6.23zM116.89 568.3h6.23v1.5h-6.23zM145.05 568.3h6.23v1.5h-6.23zM184.47 568.3h6.23v1.5h-6.23zM100 569.3h6.23v1.5h-6.23zM139.42 570.3h6.23v1.5h-6.23zM173.21 570.3h11.86v1.5h-11.86zM105.63 571.3h11.86v1.5h-11.86zM139.42 571.3h6.23v1.5h-6.23zM167.58 571.3h11.86v1.5h-11.86zM122.53 572.3h6.23v1.5h-6.23zM139.42 572.3h11.86v1.5h-11.86zM122.53 573.3h6.23v1.5h-6.23zM156.32 573.3h6.23v1.5h-6.23zM167.58 573.3h6.23v1.5h-6.23zM111.26 574.3h6.23v1.5h-6.23zM105.63 575.3h6.23v1.5h-6.23zM133.79 576.3h11.86v1.5h-11.86zM184.47 576.3h6.23v1.5h-6.23zM122.53 577.3h6.23v1.5h-6.23zM116.89 578.3h6.23v1.5h-6.23zM128.16 578.3h6.23v1.5h-6.23zM184.47 578.3h6.23v1.5h-6.23zM100 579.3h11.86v1.5h-11.86zM139.42 579.3h11.86v1.5h-11.86zM133.79 580.3h6.23v1.5h-6.23zM150.68 581.3h11.86v1.5h-11.86zM116.89 582.3h6.23v1.5h-6.23zM161.95 582.3h11.86v1.5h-11.86zM111.26 583.3h6.23v1.5h-6.23zM122.53 583.3h6.23v1.5h-6.23zM184.47 583.3h6.23v1.5h-6.23zM100 584.3h11.86v1.5h-11.86zM133.79 584.3h6.23v1.5h-6.23zM156.32 584.3h11.86v1.5h-11.86zM173.21 584.3h11.86v1.5h-11.86zM105.63 586.3h11.86v1.5h-11.86zM128.16 586.3h11.86v1.5h-11.86zM105.63 587.3h6.23v1.5h-6.23zM122.53 587.3h6.23v1.5h-6.23zM156.32 587.3h6.23v1.5h-6.23zM122.53 588.3h6.23v1.5h-6.23zM116.89 589.3h23.13v1.5h-23.13zM156.32 589.3h17.49v1.5h-17.49zM178.84 589.3h6.23v1.5h-6.23zM122.53 590.3h6.23v1.5h-6.23zM116.89 591.3h11.86v1.5h-11.86zM133.79 591.3h11.86v1.5h-11.86zM167.58 591.3h6.23v1.5h-6.23zM184.47 591.3h6.23v1.5h-6.23zM105.63 593.3h6.23v1.5h-6.23zM133.79 593.3h11.86v1.5h-11.86zM167.58 593.3h6.23v1.5h-6.23zM116.89 594.3h11.86v1.5h-11.86zM150.68 594.3h6.23v1.5h-6.23zM161.95 594.3h11.86v1.5h-11.86zM184.47 594.3h6.23v1.5h-6.23zM116.89 595.3h6.23v1h-6.23zM173.21 595.3h6.23v1h-6.23zM184.47 595.3h6.23v1h-6.23z"/>
<path fill="#fbe8e8" d="M150.68 403h11.86v1.5h-11.86zM161.95 404h6.23v1.5h-6.23zM161.95 406h6.23v1.5h-6.23zM150.68 408h11.86v1.5h-11.86zM184.47 409h6.23v1.5h-6.23zM195.74 409h6.23v1.5h-6.23zM156.32 410h6.23v1.5h-6.23zM156.32 411h6.23v1.5h-6.23zM161.95 412h6.23v1.5h-6.23zM195.74 413h6.23v1.5h-6.23zM161.95 414h6.23v1.5h-6.23zM195.74 415h6.23v1.5h-6.23zM178.84 416h6.23v1.5h-6.23zM156.32 417h6.23v1.5h-6.23zM150.68 418h6.23v1.5h-6.23zM184.47 418h6.23v1.5h-6.23zM161.95 419h6.23v1.5h-6.23zM161.95 420h6.23v1.5h-6.23zM128.16 422h6.23v1.5h-6.23zM161.95 422h6.23v1.5h-6.23zM161.95 423h6.23v1.5h-6.23zM156.32 426h6.23v1.5h-6.23zM184.47 426h6.23v1.5h-6.23zM195.74 426h6.23v1.5h-6.23zM150.68 428h6.23v1.5h-6.23zM178.84 429h6.23v1.5h-6.23zM161.95 430h6.23v1.5h-6.23zM161.95 431h6.23v1.5h-6.23zM161.95 432h6.23v1.5h-6.23zM145.05 433h6.23v1.5h-6.23zM161.95 434h6.23v1.5h-6.23zM184.47 434h6.23v1.5h-6.23zM156.32 435h6.23v1.5h-6.23zM178.84 435h6.23v1.5h-6.23zM190.11 435h6.23v1.5h-6.23zM145.05 436h6.23v1.5h-6.23zM161.95 436h6.23v1.5h-6.23zM145.05 438h6.23v1.5h-6.23zM150.68 439h11.86v1.5h-11.86zM190.11 441h6.23v1.5h-6.23zM145.05 442h6.23v1.5h-6.23zM184.47 442h6.23v1.5h-6.23zM161.95 443h6.23v1.5h-6.23zM184.47 443h6.23v1.5h-6.23zM111.26 445.3h6.23v1.5h-6.23zM122.53 445.3h6.23v1.5h-6.23zM128.16 446.3h6.23v1.5h-6.23zM122.53 447.3h6.23v1.5h-6.23zM111.26 448.3h6.23v1.5h-6.23zM122.53 448.3h11.86v1.5h-11.86zM128.16 449.3h6.23v1.5h-6.23zM122.53 450.3h11.86v1.5h-11.86zM116.89 451.3h6.23v1.5h-6.23zM100 452.3h6.23v1.5h-6.23zM111.26 452.3h6.23v1.5h-6.23zM122.53 452.3h6.23v1.5h-6.23zM128.16 453.3h6.23v1.5h-6.23zM128.16 455.3h6.23v1.5h-6.23zM122.53 456.3h6.23v1.5h-6.23zM122.53 457.3h11.86v1.5h-11.86zM128.16 458.3h6.23v1.5h-6.23zM116.89 459.3h6.23v1.5h-6.23zM100 460.3h6.23v1.5h-6.23zM122.53 462.3h11.86v1.5h-11.86zM116.89 463.3h6.23v1.5h-6.23zM128.16 464.3h6.23v1.5h-6.23zM105.63 467.3h6.23v1.5h-6.23zM116.89 467.3h6.23v1.5h-6.23zM122.53 469.3h6.23v1.5h-6.23zM100 471.3h23.13v1.5h-23.13zM111.26 472.3h11.86v1.5h-11.86zM128.16 473.3h6.23v1.5h-6.23zM100 474.3h6.23v1.5h-6.23zM111.26 474.3h6.23v1.5h-6.23zM122.53 474.3h11.86v1.5h-11.86zM128.16 475.3h6.23v1.5h-6.23zM128.16 476.3h6.23v1.5h-6.23zM122.53 477.3h11.86v1.5h-11.86zM105.63 478.3h23.13v1.5h-23.13zM122.53 479.3h11.86v1.5h-11.86zM105.63 480.3h6.23v1.5h-6.23zM116.89 480.3h6.23v1.5h-6.23zM122.53 481.3h11.86v1.5h-11.86zM128.16 482.3h6.23v1.5h-6.23zM128.16 483.3h6.23v1.5h-6.23zM122.53 486.3h11.86v1.5h-11.86zM105.63 487.3h6.23v1.5h-6.23zM122.53 489.3h6.23v1.5h-6.23zM100 490.3h11.86v1.5h-11.86zM116.89 490.3h6.23v1.5h-6.23zM122.53 492.3h11.86v1.5h-11.86zM122.53 493.3h6.23v1.5h-6.23zM128.16 496.5h6.23v1.5h-6.23zM173.21 496.5h6.23v1.5h-6.23zM195.74 496.5h6.23v1.5h-6.23zM167.58 497.5h6.23v1.5h-6.23zM133.79 498.5h6.23v1.5h-6.23zM145.05 498.5h6.23v1.5h-6.23zM133.79 499.5h6.23v1.5h-6.23zM133.79 501.5h6.23v1.5h-6.23zM145.05 501.5h6.23v1.5h-6.23zM145.05 502.5h6.23v1.5h-6.23zM133.79 503.5h6.23v1.5h-6.23zM145.05 503.5h23.13v1.5h-23.13zM195.74 503.5h6.23v1.5h-6.23zM190.11 504.5h6.23v1.5h-6.23zM133.79 506.5h6.23v1.5h-6.23zM145.05 506.5h6.23v1.5h-6.23zM145.05 507.5h6.23v1.5h-6.23zM195.74 507.5h6.23v1.5h-6.23zM173.21 508.5h6.23v1.5h-6.23zM195.74 510.5h6.23v1.5h-6.23zM128.16 511.5h6.23v1.5h-6.23zM173.21 513.5h6.23v1.5h-6.23zM139.42 514.5h6.23v1.5h-6.23zM161.95 514.5h17.49v1.5h-17.49zM173.21 515.5h6.23v1.5h-6.23zM133.79 516.5h17.49v1.5h-17.49zM190.11 516.5h6.23v1.5h-6.23zM161.95 517.5h6.23v1.5h-6.23zM190.11 517.5h6.23v1.5h-6.23zM145.05 519.5h6.23v1.5h-6.23zM150.68 522.5h17.49v1.5h-17.49zM145.05 524.5h6.23v1.5h-6.23zM173.21 524.5h6.23v1.5h-6.23zM190.11 524.5h6.23v1.5h-6.23zM167.58 525.5h6.23v1.5h-6.23zM133.79 526.5h6.23v1.5h-6.23zM133.79 528.5h6.23v1.5h-6.23zM145.05 528.5h6.23v1.5h-6.23zM133.79 530.5h6.23v1.5h-6.23zM145.05 530.5h6.23v1.5h-6.23zM139.42 532.5h11.86v1.5h-11.86zM150.68 534.5h6.23v1.5h-6.23zM161.95 534.5h6.23v1.5h-6.23zM133.79 535.5h6.23v1.5h-6.23zM145.05 535.5h6.23v1.5h-6.23zM173.21 535.5h6.23v1.5h-6.23zM161.95 536.5h6.23v1.5h-6.23zM133.79 537.5h6.23v1.5h-6.23zM150.68 537.5h6.23v1.5h-6.23zM116.89 539.5h11.86v1.5h-11.86zM150.68 539.5h11.86v1.5h-11.86zM139.42 540.5h6.23v1.5h-6.23zM150.68 542.5h6.23v1.5h-6.23zM167.58 542.5h11.86v1.5h-11.86zM133.79 543.5h6.23v1.5h-6.23zM156.32 543.5h11.86v1.5h-11.86zM161.95 544.5h6.23v1.5h-6.23zM173.21 544.5h6.23v1.5h-6.23zM105.63 546.5h6.23v1.5h-6.23zM122.53 546.5h17.49v1.5h-17.49zM161.95 546.5h6.23v1.5h-6.23zM167.58 547.5h6.23v1.5h-6.23zM133.79 549.5h6.23v1.5h-6.23zM145.05 549.5h6.23v1.5h-6.23zM156.32 552.5h6.23v1.5h-6.23zM133.79 553.5h6.23v1.5h-6.23zM145.05 553.5h6.23v1.5h-6.23zM128.16 554.5h6.23v1.5h-6.23zM122.53 555.5h11.86v1.3h-11.86zM150.68 555.5h11.86v1.3h-11.86zM122.53 556.3h6.23v1.5h-6.23zM116.89 558.3h6.23v1.5h-6.23zM133.79 558.3h6.23v1.5h-6.23zM116.89 559.3h11.86v1.5h-11.86zM133.79 559.3h6.23v1.5h-6.23zM133.79 560.3h6.23v1.5h-6.23zM173.21 560.3h6.23v1.5h-6.23zM139.42 561.3h11.86v1.5h-11.86zM173.21 561.3h6.23v1.5h-6.23zM184.47 561.3h6.23v1.5h-6.23zM100 562.3h6.23v1.5h-6.23zM111.26 562.3h6.23v1.5h-6.23zM145.05 563.3h6.23v1.5h-6.23zM178.84 565.3h6.23v1.5h-6.23zM122.53 566.3h6.23v1.5h-6.23zM116.89 567.3h11.86v1.5h-11.86zM139.42 567.3h11.86v1.5h-11.86zM161.95 567.3h6.23v1.5h-6.23zM173.21 567.3h6.23v1.5h-6.23zM139.42 568.3h6.23v1.5h-6.23zM105.63 569.3h11.86v1.5h-11.86zM128.16 569.3h17.49v1.5h-17.49zM133.79 570.3h6.23v1.5h-6.23zM145.05 570.3h6.23v1.5h-6.23zM184.47 570.3h6.23v1.5h-6.23zM116.89 571.3h11.86v1.5h-11.86zM133.79 571.3h6.23v1.5h-6.23zM133.79 572.3h6.23v1.5h-6.23zM173.21 573.3h6.23v1.5h-6.23zM116.89 574.3h6.23v1.5h-6.23zM128.16 574.3h6.23v1.5h-6.23zM111.26 575.3h11.86v1.5h-11.86zM128.16 575.3h23.13v1.5h-23.13zM178.84 575.3h11.86v1.5h-11.86zM111.26 579.3h6.23v1.5h-6.23zM128.16 579.3h11.86v1.5h-11.86zM178.84 579.3h6.23v1.5h-6.23zM161.95 581.3h11.86v1.5h-11.86zM178.84 581.3h6.23v1.5h-6.23zM122.53 582.3h6.23v1.5h-6.23zM139.42 582.3h6.23v1.5h-6.23zM116.89 583.3h6.23v1.5h-6.23zM111.26 584.3h6.23v1.5h-6.23zM128.16 584.3h6.23v1.5h-6.23zM105.63 585.3h11.86v1.5h-11.86zM122.53 586.3h6.23v1.5h-6.23zM145.05 586.3h6.23v1.5h-6.23zM111.26 587.3h6.23v1.5h-6.23zM150.68 587.3h6.23v1.5h-6.23zM167.58 587.3h6.23v1.5h-6.23zM116.89 588.3h6.23v1.5h-6.23zM133.79 588.3h6.23v1.5h-6.23zM173.21 589.3h6.23v1.5h-6.23zM145.05 591.3h6.23v1.5h-6.23zM173.21 591.3h6.23v1.5h-6.23zM184.47 593.3h6.23v1.5h-6.23zM139.42 594.3h6.23v1.5h-6.23zM173.21 594.3h6.23v1.5h-6.23z"/>
<path fill="#fae4e4" d="M161.95 403h6.23v1.5h-6.23zM184.47 403h6.23v1.5h-6.23zM145.05 404h6.23v1.5h-6.23zM201.37 404h6.23v1.5h-6.23zM161.95 405h6.23v1.5h-6.23zM201.37 406h6.23v1.5h-6.23zM184.47 407h6.23v1.5h-6.23zM184.47 408h6.23v1.5h-6.23zM161.95 409h6.23v1.5h-6.23zM195.74 410h6.23v1.5h-6.23zM161.95 411h6.23v1.5h-6.23zM201.37 411h6.23v1.5h-6.23zM145.05 412h6.23v1.5h-6.23zM184.47 412h6.23v1.5h-6.23zM178.84 414h6.23v1.5h-6.23zM161.95 415h6.23v1.5h-6.23zM161.95 416h6.23v1.5h-6.23zM195.74 416h6.23v1.5h-6.23zM195.74 417h6.23v1.5h-6.23zM184.47 419h6.23v1.5h-6.23zM195.74 419h6.23v1.5h-6.23zM184.47 420h6.23v1.5h-6.23zM150.68 421h6.23v1.5h-6.23zM178.84 421h6.23v1.5h-6.23zM184.47 422h6.23v1.5h-6.23zM184.47 423h6.23v1.5h-6.23zM156.32 424h6.23v1.5h-6.23zM184.47 424h6.23v1.5h-6.23zM195.74 424h6.23v1.5h-6.23zM161.95 425h6.23v1.5h-6.23zM184.47 425h6.23v1.5h-6.23zM150.68 426h6.23v1.5h-6.23zM145.05 427h6.23v1.5h-6.23zM167.58 427h6.23v1.5h-6.23zM184.47 427h6.23v1.5h-6.23zM195.74 427h6.23v1.5h-6.23zM195.74 428h6.23v1.5h-6.23zM161.95 429h6.23v1.5h-6.23zM184.47 431h6.23v1.5h-6.23zM150.68 432h11.86v1.5h-11.86zM184.47 432h6.23v1.5h-6.23zM133.79 433h11.86v1.5h-11.86zM150.68 433h6.23v1.5h-6.23zM195.74 433h6.23v1.5h-6.23zM133.79 434h6.23v1.5h-6.23zM145.05 434h6.23v1.5h-6.23zM167.58 434h6.23v1.5h-6.23zM161.95 435h6.23v1.5h-6.23zM133.79 436h11.86v1.5h-11.86zM184.47 436h6.23v1.5h-6.23zM167.58 437h11.86v1.5h-11.86zM184.47 437h6.23v1.5h-6.23zM133.79 438h11.86v1.5h-11.86zM184.47 438h6.23v1.5h-6.23zM190.11 439h6.23v1.5h-6.23zM156.32 440h6.23v1.5h-6.23zM139.42 441h6.23v1.5h-6.23zM167.58 441h6.23v1.5h-6.23zM184.47 441h6.23v1.5h-6.23zM139.42 442h6.23v1.5h-6.23zM156.32 442h6.23v1.5h-6.23zM150.68 444h11.86v0.8h-11.86zM178.84 444h6.23v0.8h-6.23zM190.11 444.3h6.23v1.5h-6.23zM100 448.3h6.23v1.5h-6.23zM122.53 451.3h11.86v1.5h-11.86zM105.63 452.3h6.23v1.5h-6.23zM105.63 454.3h6.23v1.5h-6.23zM116.89 454.3h6.23v1.5h-6.23zM128.16 456.3h6.23v1.5h-6.23zM128.16 459.3h6.23v1.5h-6.23zM111.26 460.3h17.49v1.5h-17.49zM111.26 463.3h6.23v1.5h-6.23zM122.53 463.3h11.86v1.5h-11.86zM128.16 465.3h6.23v1.5h-6.23zM111.26 467.3h6.23v1.5h-6.23zM122.53 467.3h6.23v1.5h-6.23zM100 468.3h11.86v1.5h-11.86zM128.16 471.3h6.23v1.5h-6.23zM128.16 472.3h6.23v1.5h-6.23zM122.53 476.3h6.23v1.5h-6.23zM128.16 478.3h6.23v1.5h-6.23zM100 480.3h6.23v1.5h-6.23zM111.26 480.3h6.23v1.5h-6.23zM122.53 483.3h6.23v1.5h-6.23zM116.89 485.3h6.23v1.5h-6.23zM128.16 485.3h6.23v1.5h-6.23zM116.89 487.3h17.49v1.5h-17.49zM128.16 489.3h6.23v1.5h-6.23zM111.26 490.3h6.23v1.5h-6.23zM128.16 493.3h6.23v1.5h-6.23zM145.05 494.5h6.23v1.5h-6.23zM156.32 495.5h6.23v1.5h-6.23zM195.74 495.5h6.23v1.5h-6.23zM133.79 497.5h6.23v1.5h-6.23zM145.05 497.5h6.23v1.5h-6.23zM139.42 498.5h6.23v1.5h-6.23zM195.74 498.5h6.23v1.5h-6.23zM145.05 499.5h6.23v1.5h-6.23zM133.79 500.5h6.23v1.5h-6.23zM145.05 500.5h6.23v1.5h-6.23zM139.42 501.5h6.23v1.5h-6.23zM133.79 502.5h11.86v1.5h-11.86zM167.58 503.5h11.86v1.5h-11.86zM133.79 505.5h6.23v1.5h-6.23zM195.74 505.5h6.23v1.5h-6.23zM139.42 506.5h6.23v1.5h-6.23zM133.79 507.5h6.23v1.5h-6.23zM161.95 509.5h6.23v1.5h-6.23zM190.11 509.5h6.23v1.5h-6.23zM133.79 510.5h6.23v1.5h-6.23zM145.05 510.5h6.23v1.5h-6.23zM195.74 512.5h6.23v1.5h-6.23zM195.74 513.5h6.23v1.5h-6.23zM150.68 514.5h6.23v1.5h-6.23zM195.74 514.5h6.23v1.5h-6.23zM195.74 515.5h6.23v1.5h-6.23zM173.21 517.5h6.23v1.5h-6.23zM133.79 518.5h6.23v1.5h-6.23zM145.05 518.5h6.23v1.5h-6.23zM133.79 519.5h11.86v1.5h-11.86zM190.11 519.5h6.23v1.5h-6.23zM133.79 521.5h17.49v1.5h-17.49zM167.58 522.5h6.23v1.5h-6.23zM133.79 523.5h6.23v1.5h-6.23zM145.05 523.5h6.23v1.5h-6.23zM139.42 524.5h6.23v1.5h-6.23zM133.79 525.5h6.23v1.5h-6.23zM145.05 525.5h6.23v1.5h-6.23zM173.21 525.5h6.23v1.5h-6.23zM190.11 525.5h6.23v1.5h-6.23zM145.05 526.5h11.86v1.5h-11.86zM190.11 526.5h6.23v1.5h-6.23zM167.58 527.5h11.86v1.5h-11.86zM190.11 527.5h6.23v1.5h-6.23zM139.42 528.5h6.23v1.5h-6.23zM190.11 528.5h6.23v1.5h-6.23zM190.11 529.5h6.23v1.5h-6.23zM190.11 530.5h6.23v1.5h-6.23zM145.05 531.5h6.23v1.5h-6.23zM190.11 532.5h6.23v1.5h-6.23zM133.79 533.5h17.49v1.5h-17.49zM145.05 534.5h6.23v1.5h-6.23zM167.58 534.5h6.23v1.5h-6.23zM139.42 535.5h6.23v1.5h-6.23zM190.11 535.5h6.23v1.5h-6.23zM150.68 536.5h11.86v1.5h-11.86zM173.21 536.5h6.23v1.5h-6.23zM139.42 537.5h11.86v1.5h-11.86zM156.32 537.5h11.86v1.5h-11.86zM133.79 540.5h6.23v1.5h-6.23zM145.05 540.5h6.23v1.5h-6.23zM190.11 540.5h6.23v1.5h-6.23zM133.79 541.5h6.23v1.5h-6.23zM145.05 541.5h6.23v1.5h-6.23zM133.79 542.5h6.23v1.5h-6.23zM145.05 542.5h6.23v1.5h-6.23zM145.05 543.5h6.23v1.5h-6.23zM133.79 544.5h6.23v1.5h-6.23zM167.58 544.5h6.23v1.5h-6.23zM167.58 545.5h6.23v1.5h-6.23zM139.42 546.5h11.86v1.5h-11.86zM167.58 546.5h6.23v1.5h-6.23zM133.79 548.5h6.23v1.5h-6.23zM145.05 548.5h6.23v1.5h-6.23zM139.42 549.5h6.23v1.5h-6.23zM161.95 550.5h6.23v1.5h-6.23zM133.79 552.5h11.86v1.5h-11.86zM150.68 552.5h6.23v1.5h-6.23zM161.95 552.5h6.23v1.5h-6.23zM139.42 553.5h6.23v1.5h-6.23zM133.79 554.5h6.23v1.5h-6.23zM145.05 554.5h11.86v1.5h-11.86zM133.79 555.5h6.23v1.3h-6.23zM145.05 555.5h6.23v1.3h-6.23zM161.95 555.5h11.86v1.3h-11.86zM139.42 556.3h6.23v1.5h-6.23zM139.42 559.3h6.23v1.5h-6.23zM145.05 560.3h6.23v1.5h-6.23zM133.79 561.3h6.23v1.5h-6.23zM128.16 562.3h6.23v1.5h-6.23zM133.79 563.3h6.23v1.5h-6.23zM133.79 564.3h6.23v1.5h-6.23zM145.05 564.3h6.23v1.5h-6.23zM184.47 564.3h6.23v1.5h-6.23zM173.21 565.3h6.23v1.5h-6.23zM133.79 567.3h6.23v1.5h-6.23zM133.79 568.3h6.23v1.5h-6.23zM116.89 569.3h6.23v1.5h-6.23zM100 570.3h6.23v1.5h-6.23zM111.26 570.3h6.23v1.5h-6.23zM145.05 571.3h6.23v1.5h-6.23zM184.47 571.3h6.23v1.5h-6.23zM122.53 574.3h6.23v1.5h-6.23zM122.53 575.3h6.23v1.5h-6.23zM133.79 577.3h17.49v1.5h-17.49zM122.53 578.3h6.23v1.5h-6.23zM133.79 578.3h6.23v1.5h-6.23zM145.05 578.3h6.23v1.5h-6.23zM173.21 581.3h6.23v1.5h-6.23zM184.47 581.3h6.23v1.5h-6.23zM133.79 582.3h6.23v1.5h-6.23zM145.05 582.3h6.23v1.5h-6.23zM184.47 584.3h6.23v1.5h-6.23zM100 585.3h6.23v1.5h-6.23zM116.89 585.3h6.23v1.5h-6.23zM128.16 585.3h6.23v1.5h-6.23zM178.84 585.3h6.23v1.5h-6.23zM116.89 586.3h6.23v1.5h-6.23zM128.16 587.3h6.23v1.5h-6.23zM161.95 587.3h6.23v1.5h-6.23zM173.21 587.3h11.86v1.5h-11.86zM139.42 588.3h11.86v1.5h-11.86zM100 592.3h6.23v1.5h-6.23zM133.79 592.3h11.86v1.5h-11.86zM116.89 593.3h11.86v1.5h-11.86zM145.05 594.3h6.23v1.5h-6.23zM122.53 595.3h6.23v1h-6.23z"/>
<path fill="#f9dfdf" d="M111.26 389.4h6.23v1.5h-6.23zM178.84 399.4h6.23v1.5h-6.23zM201.37 403h6.23v1.5h-6.23zM139.42 404h6.23v1.5h-6.23zM167.58 404h17.49v1.5h-17.49zM167.58 406h11.86v1.5h-11.86zM145.05 407h6.23v1.5h-6.23zM156.32 407h6.23v1.5h-6.23zM201.37 407h6.23v1.5h-6.23zM133.79 408h6.23v1.5h-6.23zM145.05 408h6.23v1.5h-6.23zM161.95 408h6.23v1.5h-6.23zM201.37 408h6.23v1.5h-6.23zM139.42 409h6.23v1.5h-6.23zM167.58 409h6.23v1.5h-6.23zM139.42 410h11.86v1.5h-11.86zM178.84 410h6.23v1.5h-6.23zM145.05 411h6.23v1.5h-6.23zM167.58 411h6.23v1.5h-6.23zM133.79 412h11.86v1.5h-11.86zM167.58 412h11.86v1.5h-11.86zM201.37 412h6.23v1.5h-6.23zM167.58 413h11.86v1.5h-11.86zM167.58 414h11.86v1.5h-11.86zM195.74 414h6.23v1.5h-6.23zM133.79 415h6.23v1.5h-6.23zM178.84 415h6.23v1.5h-6.23zM173.21 416h6.23v1.5h-6.23zM184.47 416h6.23v1.5h-6.23zM150.68 417h6.23v1.5h-6.23zM184.47 417h6.23v1.5h-6.23zM161.95 418h6.23v1.5h-6.23zM195.74 418h6.23v1.5h-6.23zM133.79 419h17.49v1.5h-17.49zM167.58 419h11.86v1.5h-11.86zM167.58 420h6.23v1.5h-6.23zM156.32 421h6.23v1.5h-6.23zM167.58 422h6.23v1.5h-6.23zM195.74 422h6.23v1.5h-6.23zM133.79 423h17.49v1.5h-17.49zM167.58 423h11.86v1.5h-11.86zM145.05 424h11.86v1.5h-11.86zM161.95 424h6.23v1.5h-6.23zM133.79 425h17.49v1.5h-17.49zM145.05 426h6.23v1.5h-6.23zM133.79 427h11.86v1.5h-11.86zM173.21 427h6.23v1.5h-6.23zM145.05 428h6.23v1.5h-6.23zM133.79 429h6.23v1.5h-6.23zM145.05 429h6.23v1.5h-6.23zM195.74 429h6.23v1.5h-6.23zM133.79 430h17.49v1.5h-17.49zM167.58 430h6.23v1.5h-6.23zM178.84 430h6.23v1.5h-6.23zM195.74 430h6.23v1.5h-6.23zM167.58 431h6.23v1.5h-6.23zM195.74 431h6.23v1.5h-6.23zM133.79 432h17.49v1.5h-17.49zM156.32 433h6.23v1.5h-6.23zM139.42 434h6.23v1.5h-6.23zM195.74 434h6.23v1.5h-6.23zM173.21 436h6.23v1.5h-6.23zM195.74 437h6.23v1.5h-6.23zM150.68 438h11.86v1.5h-11.86zM161.95 439h6.23v1.5h-6.23zM150.68 440h6.23v1.5h-6.23zM184.47 440h6.23v1.5h-6.23zM133.79 441h6.23v1.5h-6.23zM145.05 441h6.23v1.5h-6.23zM173.21 441h6.23v1.5h-6.23zM150.68 442h6.23v1.5h-6.23zM167.58 443h11.86v1.5h-11.86zM133.79 444h6.23v0.8h-6.23zM145.05 444h6.23v0.8h-6.23zM128.16 445.3h6.23v1.5h-6.23zM190.11 447.3h6.23v1.5h-6.23zM116.89 452.3h6.23v1.5h-6.23zM128.16 452.3h6.23v1.5h-6.23zM122.53 454.3h6.23v1.5h-6.23zM128.16 461.3h6.23v1.5h-6.23zM128.16 469.3h6.23v1.5h-6.23zM122.53 471.3h6.23v1.5h-6.23zM122.53 472.3h6.23v1.5h-6.23zM122.53 480.3h6.23v1.5h-6.23zM100 484.3h6.23v1.5h-6.23zM122.53 485.3h6.23v1.5h-6.23zM122.53 490.3h6.23v1.5h-6.23zM105.63 494.3h6.23v0.7h-6.23zM133.79 494.5h6.23v1.5h-6.23zM150.68 494.5h11.86v1.5h-11.86zM167.58 494.5h6.23v1.5h-6.23zM133.79 495.5h11.86v1.5h-11.86zM150.68 495.5h6.23v1.5h-6.23zM161.95 495.5h11.86v1.5h-11.86zM139.42 497.5h6.23v1.5h-6.23zM139.42 499.5h6.23v1.5h-6.23zM139.42 500.5h6.23v1.5h-6.23zM195.74 500.5h6.23v1.5h-6.23zM139.42 503.5h6.23v1.5h-6.23zM139.42 505.5h11.86v1.5h-11.86zM195.74 506.5h6.23v1.5h-6.23zM139.42 507.5h6.23v1.5h-6.23zM161.95 508.5h6.23v1.5h-6.23zM150.68 509.5h11.86v1.5h-11.86zM195.74 516.5h6.23v1.5h-6.23zM145.05 517.5h6.23v1.5h-6.23zM167.58 517.5h6.23v1.5h-6.23zM139.42 518.5h6.23v1.5h-6.23zM190.11 518.5h6.23v1.5h-6.23zM195.74 521.5h6.23v1.5h-6.23zM173.21 522.5h6.23v1.5h-6.23zM139.42 523.5h6.23v1.5h-6.23zM190.11 523.5h6.23v1.5h-6.23zM139.42 525.5h6.23v1.5h-6.23zM139.42 526.5h6.23v1.5h-6.23zM156.32 526.5h6.23v1.5h-6.23zM139.42 530.5h6.23v1.5h-6.23zM133.79 531.5h6.23v1.5h-6.23zM133.79 534.5h11.86v1.5h-11.86zM145.05 536.5h6.23v1.5h-6.23zM190.11 536.5h6.23v1.5h-6.23zM167.58 537.5h6.23v1.5h-6.23zM167.58 539.5h11.86v1.5h-11.86zM139.42 541.5h6.23v1.5h-6.23zM150.68 541.5h11.86v1.5h-11.86zM139.42 542.5h6.23v1.5h-6.23zM190.11 542.5h6.23v1.5h-6.23zM139.42 543.5h6.23v1.5h-6.23zM133.79 547.5h6.23v1.5h-6.23zM139.42 548.5h6.23v1.5h-6.23zM150.68 550.5h11.86v1.5h-11.86zM145.05 552.5h6.23v1.5h-6.23zM167.58 552.5h11.86v1.5h-11.86zM156.32 554.5h6.23v1.5h-6.23zM167.58 554.5h6.23v1.5h-6.23zM139.42 555.5h6.23v1.3h-6.23zM173.21 555.5h6.23v1.3h-6.23zM145.05 559.3h6.23v1.5h-6.23zM116.89 562.3h11.86v1.5h-11.86zM139.42 564.3h6.23v1.5h-6.23zM133.79 565.3h17.49v1.5h-17.49zM105.63 570.3h6.23v1.5h-6.23zM128.16 570.3h6.23v1.5h-6.23zM133.79 574.3h17.49v1.5h-17.49zM178.84 577.3h6.23v1.5h-6.23zM139.42 578.3h6.23v1.5h-6.23zM116.89 579.3h11.86v1.5h-11.86zM145.05 583.3h6.23v1.5h-6.23zM116.89 584.3h11.86v1.5h-11.86zM122.53 585.3h6.23v1.5h-6.23zM139.42 585.3h11.86v1.5h-11.86zM116.89 587.3h6.23v1.5h-6.23zM184.47 589.3h6.23v1.5h-6.23zM105.63 592.3h11.86v1.5h-11.86zM145.05 592.3h6.23v1.5h-6.23zM133.79 594.3h6.23v1.5h-6.23z"/>
<path fill="#f8dbdb" d="M100 384.4h6.23v1.5h-6.23zM100 386.4h6.23v1.5h-6.23zM111.26 386.4h6.23v1.5h-6.23zM100 389.4h11.86v1.5h-11.86zM100 397.4h6.23v1.5h-6.23zM190.11 397.4h6.23v1.5h-6.23zM100 399.4h11.86v1.5h-11.86zM105.63 400.4h6.23v1.5h-6.23zM105.63 401.4h6.23v1.5h-6.23zM133.79 403h6.23v1.5h-6.23zM145.05 403h6.23v1.5h-6.23zM167.58 403h6.23v1.5h-6.23zM133.79 404h6.23v1.5h-6.23zM145.05 405h6.23v1.5h-6.23zM167.58 405h11.86v1.5h-11.86zM184.47 405h6.23v1.5h-6.23zM145.05 406h6.23v1.5h-6.23zM133.79 407h11.86v1.5h-11.86zM150.68 407h6.23v1.5h-6.23zM139.42 408h6.23v1.5h-6.23zM173.21 409h6.23v1.5h-6.23zM201.37 409h6.23v1.5h-6.23zM161.95 410h6.23v1.5h-6.23zM173.21 411h11.86v1.5h-11.86zM133.79 413h17.49v1.5h-17.49zM139.42 415h6.23v1.5h-6.23zM167.58 415h11.86v1.5h-11.86zM184.47 415h6.23v1.5h-6.23zM201.37 415h6.23v1.5h-6.23zM167.58 416h6.23v1.5h-6.23zM139.42 420h6.23v1.5h-6.23zM173.21 420h6.23v1.5h-6.23zM195.74 420h6.23v1.5h-6.23zM145.05 422h6.23v1.5h-6.23zM173.21 422h6.23v1.5h-6.23zM201.37 423h6.23v1.5h-6.23zM133.79 424h6.23v1.5h-6.23zM195.74 425h6.23v1.5h-6.23zM139.42 426h6.23v1.5h-6.23zM161.95 426h11.86v1.5h-11.86zM184.47 428h6.23v1.5h-6.23zM184.47 429h6.23v1.5h-6.23zM173.21 430h6.23v1.5h-6.23zM173.21 434h6.23v1.5h-6.23zM195.74 435h6.23v1.5h-6.23zM167.58 436h6.23v1.5h-6.23zM195.74 436h6.23v1.5h-6.23zM195.74 438h6.23v1.5h-6.23zM184.47 439h6.23v1.5h-6.23zM139.42 440h6.23v1.5h-6.23zM195.74 442h6.23v1.5h-6.23zM139.42 443h6.23v1.5h-6.23zM139.42 444h6.23v0.8h-6.23zM184.47 444h6.23v0.8h-6.23zM190.11 446.3h6.23v1.5h-6.23zM190.11 448.3h6.23v1.5h-6.23zM190.11 450.3h6.23v1.5h-6.23zM100 454.3h6.23v1.5h-6.23zM111.26 454.3h6.23v1.5h-6.23zM128.16 460.3h6.23v1.5h-6.23zM128.16 467.3h6.23v1.5h-6.23zM111.26 468.3h17.49v1.5h-17.49zM167.58 474.3h6.23v1.5h-6.23zM128.16 480.3h6.23v1.5h-6.23zM111.26 484.3h6.23v1.5h-6.23zM128.16 490.3h6.23v1.5h-6.23zM100 494.3h6.23v0.7h-6.23zM111.26 494.3h11.86v0.7h-11.86zM139.42 494.5h6.23v1.5h-6.23zM161.95 494.5h6.23v1.5h-6.23zM201.37 494.5h6.23v1.5h-6.23zM145.05 495.5h6.23v1.5h-6.23zM173.21 495.5h6.23v1.5h-6.23zM133.79 504.5h6.23v1.5h-6.23zM167.58 508.5h6.23v1.5h-6.23zM190.11 508.5h6.23v1.5h-6.23zM167.58 509.5h11.86v1.5h-11.86zM139.42 510.5h6.23v1.5h-6.23zM133.79 511.5h6.23v1.5h-6.23zM195.74 511.5h6.23v1.5h-6.23zM133.79 513.5h6.23v1.5h-6.23zM133.79 517.5h6.23v1.5h-6.23zM190.11 520.5h6.23v1.5h-6.23zM195.74 522.5h6.23v1.5h-6.23zM161.95 526.5h17.49v1.5h-17.49zM133.79 529.5h6.23v1.5h-6.23zM139.42 531.5h6.23v1.5h-6.23zM190.11 531.5h6.23v1.5h-6.23zM190.11 534.5h6.23v1.5h-6.23zM133.79 536.5h11.86v1.5h-11.86zM167.58 536.5h6.23v1.5h-6.23zM173.21 537.5h6.23v1.5h-6.23zM139.42 538.5h11.86v1.5h-11.86zM167.58 541.5h6.23v1.5h-6.23zM190.11 541.5h6.23v1.5h-6.23zM190.11 543.5h6.23v1.5h-6.23zM139.42 544.5h11.86v1.5h-11.86zM190.11 544.5h6.23v1.5h-6.23zM139.42 545.5h11.86v1.5h-11.86zM139.42 547.5h11.86v1.5h-11.86zM173.21 550.5h6.23v1.5h-6.23zM133.79 551.5h6.23v1.5h-6.23zM139.42 554.5h6.23v1.5h-6.23zM161.95 554.5h6.23v1.5h-6.23zM173.21 554.5h6.23v1.5h-6.23zM122.53 569.3h6.23v1.5h-6.23zM145.05 569.3h6.23v1.5h-6.23zM116.89 570.3h6.23v1.5h-6.23zM184.47 579.3h6.23v1.5h-6.23zM145.05 581.3h6.23v1.5h-6.23zM139.42 583.3h6.23v1.5h-6.23zM139.42 590.3h11.86v1.5h-11.86zM128.16 592.3h6.23v1.5h-6.23z"/>
<path fill="#f7d6d6" d="M100 380.4h11.86v1.5h-11.86zM105.63 381.4h6.23v1.5h-6.23zM100 383.4h11.86v1.5h-11.86zM105.63 384.4h17.49v1.5h-17.49zM161.95 384.4h6.23v1.5h-6.23zM105.63 386.4h6.23v1.5h-6.23zM116.89 389.4h6.23v1.5h-6.23zM100 390.4h17.49v1.5h-17.49zM100 392.4h11.86v1.5h-11.86zM100 393.4h11.86v1.5h-11.86zM105.63 397.4h11.86v1.5h-11.86zM111.26 399.4h6.23v1.5h-6.23zM100 400.4h6.23v1.5h-6.23zM111.26 400.4h6.23v1.5h-6.23zM111.26 401.4h6.23v1.5h-6.23zM139.42 403h6.23v1.5h-6.23zM184.47 404h6.23v1.5h-6.23zM139.42 405h6.23v1.5h-6.23zM201.37 405h6.23v1.5h-6.23zM178.84 406h6.23v1.5h-6.23zM167.58 408h6.23v1.5h-6.23zM133.79 411h11.86v1.5h-11.86zM184.47 411h6.23v1.5h-6.23zM201.37 413h6.23v1.5h-6.23zM184.47 414h6.23v1.5h-6.23zM145.05 415h6.23v1.5h-6.23zM201.37 416h6.23v1.5h-6.23zM161.95 417h6.23v1.5h-6.23zM167.58 418h11.86v1.5h-11.86zM133.79 420h6.23v1.5h-6.23zM145.05 420h6.23v1.5h-6.23zM133.79 421h17.49v1.5h-17.49zM161.95 421h6.23v1.5h-6.23zM195.74 421h6.23v1.5h-6.23zM139.42 422h6.23v1.5h-6.23zM139.42 424h6.23v1.5h-6.23zM167.58 425h6.23v1.5h-6.23zM139.42 428h6.23v1.5h-6.23zM161.95 428h11.86v1.5h-11.86zM139.42 429h6.23v1.5h-6.23zM167.58 429h6.23v1.5h-6.23zM173.21 432h6.23v1.5h-6.23zM195.74 432h6.23v1.5h-6.23zM161.95 433h6.23v1.5h-6.23zM167.58 435h11.86v1.5h-11.86zM184.47 435h6.23v1.5h-6.23zM161.95 438h6.23v1.5h-6.23zM167.58 439h6.23v1.5h-6.23zM145.05 440h6.23v1.5h-6.23zM195.74 441h6.23v1.5h-6.23zM161.95 442h6.23v1.5h-6.23zM145.05 443h6.23v1.5h-6.23zM195.74 443h6.23v1.5h-6.23zM161.95 444h6.23v0.8h-6.23zM190.11 444h6.23v0.8h-6.23zM173.21 445.3h6.23v1.5h-6.23zM190.11 449.3h6.23v1.5h-6.23zM128.16 454.3h6.23v1.5h-6.23zM190.11 455.3h6.23v1.5h-6.23zM128.16 468.3h6.23v1.5h-6.23zM105.63 484.3h6.23v1.5h-6.23zM116.89 484.3h17.49v1.5h-17.49zM178.84 490.3h6.23v1.5h-6.23zM122.53 494.3h6.23v0.7h-6.23zM173.21 494.5h6.23v1.5h-6.23zM201.37 497.5h6.23v1.5h-6.23zM201.37 499.5h6.23v1.5h-6.23zM201.37 501.5h6.23v1.5h-6.23zM201.37 503.5h6.23v1.5h-6.23zM139.42 504.5h11.86v1.5h-11.86zM133.79 508.5h6.23v1.5h-6.23zM201.37 510.5h6.23v1.5h-6.23zM139.42 511.5h11.86v1.5h-11.86zM145.05 512.5h6.23v1.5h-6.23zM145.05 513.5h6.23v1.5h-6.23zM133.79 515.5h17.49v1.5h-17.49zM139.42 517.5h6.23v1.5h-6.23zM195.74 517.5h6.23v1.5h-6.23zM195.74 518.5h6.23v1.5h-6.23zM139.42 520.5h11.86v1.5h-11.86zM145.05 529.5h6.23v1.5h-6.23zM195.74 530.5h6.23v1.5h-6.23zM195.74 532.5h6.23v1.5h-6.23zM195.74 535.5h6.23v1.5h-6.23zM133.79 538.5h6.23v1.5h-6.23zM190.11 538.5h6.23v1.5h-6.23zM145.05 539.5h6.23v1.5h-6.23zM195.74 540.5h11.86v1.5h-11.86zM133.79 545.5h6.23v1.5h-6.23zM190.11 545.5h6.23v1.5h-6.23zM190.11 549.5h6.23v1.5h-6.23zM133.79 550.5h6.23v1.5h-6.23zM145.05 550.5h6.23v1.5h-6.23zM139.42 551.5h11.86v1.5h-11.86zM190.11 554.5h6.23v1.5h-6.23zM184.47 565.3h6.23v1.5h-6.23zM139.42 573.3h11.86v1.5h-11.86zM133.79 581.3h11.86v1.5h-11.86zM133.79 583.3h6.23v1.5h-6.23zM133.79 585.3h6.23v1.5h-6.23zM184.47 585.3h6.23v1.5h-6.23zM139.42 587.3h6.23v1.5h-6.23zM184.47 587.3h6.23v1.5h-6.23zM133.79 590.3h6.23v1.5h-6.23z"/>
<path fill="#f6d2d2" d="M111.26 380.4h6.23v1.5h-6.23zM100 381.4h6.23v1.5h-6.23zM111.26 381.4h11.86v1.5h-11.86zM105.63 382.4h6.23v1.5h-6.23zM111.26 383.4h6.23v1.5h-6.23zM122.53 384.4h6.23v1.5h-6.23zM173.21 384.4h6.23v1.5h-6.23zM105.63 385.4h6.23v1.5h-6.23zM116.89 386.4h11.86v1.5h-11.86zM100 387.4h6.23v1.5h-6.23zM100 388.4h6.23v1.5h-6.23zM122.53 389.4h6.23v1.5h-6.23zM116.89 390.4h6.23v1.5h-6.23zM100 391.4h6.23v1.5h-6.23zM111.26 392.4h6.23v1.5h-6.23zM111.26 393.4h11.86v1.5h-11.86zM105.63 394.4h6.23v1.5h-6.23zM116.89 394.4h6.23v1.5h-6.23zM178.84 394.4h6.23v1.5h-6.23zM116.89 397.4h6.23v1.5h-6.23zM184.47 397.4h6.23v1.5h-6.23zM105.63 398.4h11.86v1.5h-11.86zM116.89 399.4h6.23v1.5h-6.23zM116.89 400.4h6.23v1.5h-6.23zM150.68 400.4h6.23v1.5h-6.23zM173.21 403h6.23v1.5h-6.23zM133.79 405h6.23v1.5h-6.23zM161.95 407h6.23v1.5h-6.23zM173.21 408h6.23v1.5h-6.23zM133.79 409h6.23v1.5h-6.23zM167.58 410h6.23v1.5h-6.23zM184.47 410h6.23v1.5h-6.23zM133.79 414h6.23v1.5h-6.23zM145.05 414h6.23v1.5h-6.23zM201.37 414h6.23v1.5h-6.23zM145.05 416h6.23v1.5h-6.23zM167.58 417h6.23v1.5h-6.23zM201.37 417h6.23v1.5h-6.23zM201.37 419h6.23v1.5h-6.23zM184.47 421h6.23v1.5h-6.23zM133.79 422h6.23v1.5h-6.23zM201.37 422h6.23v1.5h-6.23zM173.21 425h6.23v1.5h-6.23zM133.79 426h6.23v1.5h-6.23zM173.21 426h6.23v1.5h-6.23zM201.37 426h6.23v1.5h-6.23zM133.79 428h6.23v1.5h-6.23zM173.21 429h6.23v1.5h-6.23zM184.47 430h6.23v1.5h-6.23zM173.21 431h6.23v1.5h-6.23zM167.58 432h6.23v1.5h-6.23zM145.05 435h6.23v1.5h-6.23zM145.05 437h6.23v1.5h-6.23zM173.21 439h6.23v1.5h-6.23zM195.74 439h6.23v1.5h-6.23zM161.95 440h11.86v1.5h-11.86zM195.74 440h6.23v1.5h-6.23zM167.58 442h6.23v1.5h-6.23zM145.05 444.3h6.23v1.5h-6.23zM150.68 445.3h11.86v1.5h-11.86zM167.58 445.3h6.23v1.5h-6.23zM190.11 445.3h6.23v1.5h-6.23zM201.37 447.3h6.23v1.5h-6.23zM190.11 451.3h6.23v1.5h-6.23zM145.05 455.3h6.23v1.5h-6.23zM190.11 458.3h6.23v1.5h-6.23zM167.58 465.3h11.86v1.5h-11.86zM133.79 471.3h6.23v1.5h-6.23zM145.05 471.3h6.23v1.5h-6.23zM195.74 476.3h6.23v1.5h-6.23zM128.16 494.3h6.23v0.7h-6.23zM133.79 496.5h6.23v1.5h-6.23zM201.37 498.5h6.23v1.5h-6.23zM195.74 504.5h6.23v1.5h-6.23zM201.37 505.5h6.23v1.5h-6.23zM139.42 508.5h11.86v1.5h-11.86zM195.74 508.5h6.23v1.5h-6.23zM195.74 509.5h6.23v1.5h-6.23zM133.79 512.5h6.23v1.5h-6.23zM201.37 512.5h6.23v1.5h-6.23zM139.42 513.5h6.23v1.5h-6.23zM201.37 514.5h6.23v1.5h-6.23zM133.79 520.5h6.23v1.5h-6.23zM195.74 523.5h6.23v1.5h-6.23zM195.74 524.5h6.23v1.5h-6.23zM145.05 527.5h6.23v1.5h-6.23zM195.74 527.5h6.23v1.5h-6.23zM195.74 528.5h6.23v1.5h-6.23zM133.79 539.5h11.86v1.5h-11.86zM161.95 541.5h6.23v1.5h-6.23zM173.21 541.5h6.23v1.5h-6.23zM139.42 550.5h6.23v1.5h-6.23zM167.58 550.5h6.23v1.5h-6.23zM190.11 553.5h6.23v1.5h-6.23zM122.53 570.3h6.23v1.5h-6.23zM184.47 577.3h6.23v1.5h-6.23zM145.05 587.3h6.23v1.5h-6.23zM116.89 592.3h11.86v1.5h-11.86z"/>
<path fill="#f5cdcd" d="M150.68 384.4h6.23v1.5h-6.23zM167.58 384.4h6.23v1.5h-6.23zM100 385.4h6.23v1.5h-6.23zM161.95 385.4h6.23v1.5h-6.23zM105.63 388.4h6.23v1.5h-6.23zM128.16 389.4h6.23v1.5h-6.23zM178.84 389.4h6.23v1.5h-6.23zM150.68 390.4h6.23v1.5h-6.23zM105.63 391.4h11.86v1.5h-11.86zM116.89 392.4h6.23v1.5h-6.23zM161.95 392.4h6.23v1.5h-6.23zM100 394.4h6.23v1.5h-6.23zM111.26 394.4h6.23v1.5h-6.23zM190.11 394.4h6.23v1.5h-6.23zM116.89 395.4h6.23v1.5h-6.23zM161.95 397.4h6.23v1.5h-6.23zM178.84 397.4h6.23v1.5h-6.23zM116.89 398.4h6.23v1.5h-6.23zM184.47 399.4h6.23v1.5h-6.23zM122.53 400.4h11.86v1.5h-11.86zM167.58 400.4h6.23v1.5h-6.23zM190.11 400.4h6.23v1.5h-6.23zM100 401.4h6.23v1.5h-6.23zM116.89 401.4h6.23v1.5h-6.23zM133.79 406h6.23v1.5h-6.23zM184.47 406h6.23v1.5h-6.23zM145.05 409h6.23v1.5h-6.23zM133.79 410h6.23v1.5h-6.23zM173.21 410h6.23v1.5h-6.23zM201.37 410h6.23v1.5h-6.23zM133.79 416h11.86v1.5h-11.86zM173.21 417h6.23v1.5h-6.23zM201.37 420h6.23v1.5h-6.23zM173.21 421h6.23v1.5h-6.23zM167.58 424h6.23v1.5h-6.23zM173.21 428h6.23v1.5h-6.23zM201.37 430h6.23v1.5h-6.23zM145.05 431h6.23v1.5h-6.23zM201.37 431h6.23v1.5h-6.23zM139.42 435h6.23v1.5h-6.23zM133.79 437h11.86v1.5h-11.86zM145.05 439h6.23v1.5h-6.23zM167.58 444h6.23v0.8h-6.23zM133.79 444.3h11.86v1.5h-11.86zM150.68 444.3h6.23v1.5h-6.23zM178.84 444.3h6.23v1.5h-6.23zM167.58 446.3h6.23v1.5h-6.23zM201.37 446.3h6.23v1.5h-6.23zM139.42 447.3h11.86v1.5h-11.86zM195.74 447.3h6.23v1.5h-6.23zM190.11 452.3h6.23v1.5h-6.23zM139.42 454.3h6.23v1.5h-6.23zM190.11 454.3h6.23v1.5h-6.23zM139.42 455.3h6.23v1.5h-6.23zM190.11 456.3h6.23v1.5h-6.23zM145.05 457.3h6.23v1.5h-6.23zM145.05 458.3h6.23v1.5h-6.23zM195.74 458.3h6.23v1.5h-6.23zM145.05 462.3h6.23v1.5h-6.23zM139.42 465.3h6.23v1.5h-6.23zM150.68 465.3h6.23v1.5h-6.23zM133.79 466.3h11.86v1.5h-11.86zM139.42 467.3h11.86v1.5h-11.86zM139.42 471.3h6.23v1.5h-6.23zM150.68 474.3h11.86v1.5h-11.86zM150.68 476.3h6.23v1.5h-6.23zM139.42 478.3h11.86v1.5h-11.86zM167.58 478.3h6.23v1.5h-6.23zM150.68 479.3h11.86v1.5h-11.86zM167.58 479.3h6.23v1.5h-6.23zM167.58 483.3h6.23v1.5h-6.23zM145.05 491.3h6.23v1.5h-6.23zM133.79 494.3h17.49v0.7h-17.49zM201.37 502.5h6.23v1.5h-6.23zM201.37 506.5h6.23v1.5h-6.23zM201.37 507.5h6.23v1.5h-6.23zM133.79 509.5h6.23v1.5h-6.23zM139.42 512.5h6.23v1.5h-6.23zM201.37 513.5h6.23v1.5h-6.23zM201.37 515.5h6.23v1.5h-6.23zM195.74 519.5h6.23v1.5h-6.23zM133.79 522.5h6.23v1.5h-6.23zM133.79 527.5h11.86v1.5h-11.86zM139.42 529.5h6.23v1.5h-6.23zM190.11 537.5h6.23v1.5h-6.23zM195.74 543.5h6.23v1.5h-6.23zM190.11 547.5h6.23v1.5h-6.23zM190.11 548.5h6.23v1.5h-6.23zM190.11 551.5h6.23v1.5h-6.23zM133.79 573.3h6.23v1.5h-6.23zM133.79 587.3h6.23v1.5h-6.23z"/>
<path fill="#f4c9c9" d="M116.89 380.4h6.23v1.5h-6.23zM122.53 381.4h6.23v1.5h-6.23zM150.68 381.4h6.23v1.5h-6.23zM161.95 381.4h6.23v1.5h-6.23zM100 382.4h6.23v1.5h-6.23zM116.89 382.4h6.23v1.5h-6.23zM161.95 382.4h6.23v1.5h-6.23zM173.21 382.4h6.23v1.5h-6.23zM116.89 383.4h11.86v1.5h-11.86zM128.16 384.4h6.23v1.5h-6.23zM111.26 385.4h11.86v1.5h-11.86zM150.68 385.4h6.23v1.5h-6.23zM173.21 385.4h6.23v1.5h-6.23zM128.16 386.4h6.23v1.5h-6.23zM105.63 387.4h17.49v1.5h-17.49zM116.89 388.4h6.23v1.5h-6.23zM161.95 390.4h6.23v1.5h-6.23zM173.21 390.4h6.23v1.5h-6.23zM116.89 391.4h6.23v1.5h-6.23zM161.95 391.4h6.23v1.5h-6.23zM173.21 392.4h6.23v1.5h-6.23zM190.11 392.4h6.23v1.5h-6.23zM122.53 393.4h6.23v1.5h-6.23zM150.68 393.4h6.23v1.5h-6.23zM184.47 394.4h6.23v1.5h-6.23zM195.74 394.4h6.23v1.5h-6.23zM167.58 396.4h6.23v1.5h-6.23zM122.53 397.4h11.86v1.5h-11.86zM150.68 397.4h6.23v1.5h-6.23zM167.58 397.4h11.86v1.5h-11.86zM195.74 397.4h6.23v1.5h-6.23zM122.53 399.4h11.86v1.5h-11.86zM150.68 399.4h6.23v1.5h-6.23zM173.21 399.4h6.23v1.5h-6.23zM161.95 400.4h6.23v1.5h-6.23zM173.21 400.4h6.23v1.5h-6.23zM122.53 401.4h6.23v1.5h-6.23zM100 402.4h11.86v1.1h-11.86zM139.42 406h6.23v1.5h-6.23zM139.42 414h6.23v1.5h-6.23zM133.79 418h6.23v1.5h-6.23zM145.05 418h6.23v1.5h-6.23zM167.58 421h6.23v1.5h-6.23zM173.21 424h6.23v1.5h-6.23zM201.37 424h6.23v1.5h-6.23zM201.37 425h6.23v1.5h-6.23zM201.37 427h6.23v1.5h-6.23zM201.37 428h6.23v1.5h-6.23zM201.37 437h6.23v1.5h-6.23zM167.58 438h11.86v1.5h-11.86zM133.79 440h6.23v1.5h-6.23zM173.21 440h6.23v1.5h-6.23zM133.79 443h6.23v1.5h-6.23zM173.21 444h6.23v0.8h-6.23zM156.32 444.3h6.23v1.5h-6.23zM195.74 444.3h11.86v1.5h-11.86zM161.95 445.3h6.23v1.5h-6.23zM133.79 446.3h34.39v1.5h-34.39zM133.79 447.3h6.23v1.5h-6.23zM145.05 449.3h11.86v1.5h-11.86zM167.58 449.3h6.23v1.5h-6.23zM145.05 450.3h6.23v1.5h-6.23zM178.84 450.3h6.23v1.5h-6.23zM190.11 453.3h6.23v1.5h-6.23zM133.79 454.3h6.23v1.5h-6.23zM145.05 454.3h11.86v1.5h-11.86zM167.58 454.3h6.23v1.5h-6.23zM133.79 455.3h6.23v1.5h-6.23zM133.79 456.3h23.13v1.5h-23.13zM167.58 456.3h6.23v1.5h-6.23zM139.42 458.3h6.23v1.5h-6.23zM133.79 462.3h11.86v1.5h-11.86zM190.11 462.3h6.23v1.5h-6.23zM133.79 465.3h6.23v1.5h-6.23zM145.05 465.3h6.23v1.5h-6.23zM156.32 465.3h11.86v1.5h-11.86zM133.79 467.3h6.23v1.5h-6.23zM190.11 467.3h6.23v1.5h-6.23zM133.79 468.3h17.49v1.5h-17.49zM161.95 474.3h6.23v1.5h-6.23zM173.21 474.3h11.86v1.5h-11.86zM133.79 476.3h11.86v1.5h-11.86zM190.11 476.3h6.23v1.5h-6.23zM173.21 481.3h6.23v1.5h-6.23zM150.68 484.3h11.86v1.5h-11.86zM150.68 485.3h6.23v1.5h-6.23zM190.11 487.3h6.23v1.5h-6.23zM145.05 488.3h6.23v1.5h-6.23zM145.05 489.3h6.23v1.5h-6.23zM133.79 490.3h11.86v1.5h-11.86zM150.68 493.3h11.86v1.5h-11.86zM139.42 496.5h11.86v1.5h-11.86zM201.37 496.5h6.23v1.5h-6.23zM145.05 509.5h6.23v1.5h-6.23zM201.37 516.5h6.23v1.5h-6.23zM201.37 521.5h6.23v1.5h-6.23zM139.42 522.5h11.86v1.5h-11.86zM195.74 525.5h6.23v1.5h-6.23zM178.84 526.5h6.23v1.5h-6.23zM195.74 526.5h6.23v1.5h-6.23zM178.84 535.5h6.23v1.5h-6.23zM195.74 536.5h11.86v1.5h-11.86zM190.11 539.5h6.23v1.5h-6.23zM195.74 542.5h6.23v1.5h-6.23zM190.11 552.5h6.23v1.5h-6.23zM178.84 553.5h6.23v1.5h-6.23z"/>
<path fill="#f4c4c4" d="M122.53 380.4h6.23v1.5h-6.23zM128.16 381.4h6.23v1.5h-6.23zM156.32 381.4h6.23v1.5h-6.23zM167.58 381.4h11.86v1.5h-11.86zM111.26 382.4h6.23v1.5h-6.23zM122.53 382.4h6.23v1.5h-6.23zM128.16 383.4h6.23v1.5h-6.23zM156.32 384.4h6.23v1.5h-6.23zM178.84 384.4h6.23v1.5h-6.23zM128.16 385.4h6.23v1.5h-6.23zM156.32 385.4h6.23v1.5h-6.23zM167.58 385.4h6.23v1.5h-6.23zM178.84 387.4h6.23v1.5h-6.23zM111.26 388.4h6.23v1.5h-6.23zM184.47 389.4h6.23v1.5h-6.23zM128.16 390.4h6.23v1.5h-6.23zM156.32 390.4h6.23v1.5h-6.23zM167.58 390.4h6.23v1.5h-6.23zM128.16 391.4h6.23v1.5h-6.23zM150.68 391.4h6.23v1.5h-6.23zM128.16 392.4h6.23v1.5h-6.23zM150.68 392.4h6.23v1.5h-6.23zM128.16 393.4h6.23v1.5h-6.23zM167.58 393.4h6.23v1.5h-6.23zM105.63 395.4h6.23v1.5h-6.23zM105.63 396.4h6.23v1.5h-6.23zM150.68 396.4h11.86v1.5h-11.86zM100 398.4h6.23v1.5h-6.23zM161.95 399.4h11.86v1.5h-11.86zM190.11 399.4h6.23v1.5h-6.23zM156.32 400.4h6.23v1.5h-6.23zM128.16 401.4h6.23v1.5h-6.23zM178.84 401.4h6.23v1.5h-6.23zM111.26 402.4h11.86v1.1h-11.86zM167.58 407h6.23v1.5h-6.23zM145.05 417h6.23v1.5h-6.23zM139.42 418h6.23v1.5h-6.23zM201.37 433h6.23v1.5h-6.23zM201.37 434h6.23v1.5h-6.23zM201.37 438h6.23v1.5h-6.23zM139.42 439h6.23v1.5h-6.23zM161.95 444.3h6.23v1.5h-6.23zM173.21 444.3h6.23v1.5h-6.23zM139.42 445.3h11.86v1.5h-11.86zM173.21 446.3h6.23v1.5h-6.23zM195.74 446.3h6.23v1.5h-6.23zM195.74 448.3h6.23v1.5h-6.23zM133.79 449.3h11.86v1.5h-11.86zM156.32 449.3h11.86v1.5h-11.86zM173.21 449.3h6.23v1.5h-6.23zM133.79 450.3h6.23v1.5h-6.23zM195.74 450.3h11.86v1.5h-11.86zM133.79 451.3h23.13v1.5h-23.13zM156.32 454.3h11.86v1.5h-11.86zM156.32 456.3h11.86v1.5h-11.86zM173.21 456.3h6.23v1.5h-6.23zM133.79 457.3h11.86v1.5h-11.86zM133.79 458.3h6.23v1.5h-6.23zM133.79 459.3h6.23v1.5h-6.23zM133.79 460.3h6.23v1.5h-6.23zM145.05 460.3h6.23v1.5h-6.23zM133.79 463.3h11.86v1.5h-11.86zM190.11 463.3h6.23v1.5h-6.23zM133.79 464.3h17.49v1.5h-17.49zM190.11 464.3h6.23v1.5h-6.23zM145.05 466.3h6.23v1.5h-6.23zM156.32 466.3h11.86v1.5h-11.86zM190.11 466.3h6.23v1.5h-6.23zM190.11 468.3h6.23v1.5h-6.23zM133.79 472.3h17.49v1.5h-17.49zM190.11 474.3h6.23v1.5h-6.23zM145.05 476.3h6.23v1.5h-6.23zM156.32 476.3h11.86v1.5h-11.86zM133.79 478.3h6.23v1.5h-6.23zM150.68 478.3h17.49v1.5h-17.49zM173.21 478.3h6.23v1.5h-6.23zM133.79 479.3h6.23v1.5h-6.23zM145.05 479.3h6.23v1.5h-6.23zM161.95 479.3h6.23v1.5h-6.23zM173.21 479.3h6.23v1.5h-6.23zM150.68 481.3h11.86v1.5h-11.86zM133.79 483.3h6.23v1.5h-6.23zM145.05 483.3h23.13v1.5h-23.13zM173.21 483.3h6.23v1.5h-6.23zM156.32 485.3h6.23v1.5h-6.23zM178.84 485.3h6.23v1.5h-6.23zM156.32 488.3h6.23v1.5h-6.23zM167.58 488.3h6.23v1.5h-6.23zM133.79 489.3h11.86v1.5h-11.86zM145.05 490.3h6.23v1.5h-6.23zM139.42 491.3h6.23v1.5h-6.23zM150.68 491.3h11.86v1.5h-11.86zM167.58 491.3h6.23v1.5h-6.23zM133.79 492.3h6.23v1.5h-6.23zM145.05 492.3h11.86v1.5h-11.86zM161.95 493.3h11.86v1.5h-11.86zM178.84 495.5h6.23v1.5h-6.23zM201.37 500.5h6.23v1.5h-6.23zM139.42 509.5h6.23v1.5h-6.23zM201.37 517.5h6.23v1.5h-6.23zM195.74 520.5h6.23v1.5h-6.23zM201.37 522.5h6.23v1.5h-6.23zM195.74 529.5h6.23v1.5h-6.23zM201.37 530.5h6.23v1.5h-6.23zM195.74 531.5h6.23v1.5h-6.23zM195.74 534.5h6.23v1.5h-6.23zM195.74 541.5h6.23v1.5h-6.23zM195.74 544.5h6.23v1.5h-6.23zM195.74 545.5h6.23v1.5h-6.23zM195.74 549.5h6.23v1.5h-6.23zM195.74 554.5h6.23v1.5h-6.23z"/>
<path fill="#f3c0c0" d="M128.16 380.4h6.23v1.5h-6.23zM184.47 381.4h11.86v1.5h-11.86zM156.32 382.4h6.23v1.5h-6.23zM178.84 383.4h6.23v1.5h-6.23zM190.11 384.4h6.23v1.5h-6.23zM122.53 385.4h6.23v1.5h-6.23zM122.53 388.4h6.23v1.5h-6.23zM184.47 388.4h6.23v1.5h-6.23zM122.53 390.4h6.23v1.5h-6.23zM190.11 390.4h6.23v1.5h-6.23zM122.53 391.4h6.23v1.5h-6.23zM156.32 391.4h6.23v1.5h-6.23zM173.21 391.4h6.23v1.5h-6.23zM156.32 392.4h6.23v1.5h-6.23zM156.32 393.4h11.86v1.5h-11.86zM184.47 393.4h6.23v1.5h-6.23zM122.53 394.4h6.23v1.5h-6.23zM150.68 394.4h11.86v1.5h-11.86zM167.58 394.4h6.23v1.5h-6.23zM100 395.4h6.23v1.5h-6.23zM111.26 395.4h6.23v1.5h-6.23zM100 396.4h6.23v1.5h-6.23zM111.26 396.4h11.86v1.5h-11.86zM161.95 396.4h6.23v1.5h-6.23zM156.32 397.4h6.23v1.5h-6.23zM122.53 398.4h6.23v1.5h-6.23zM156.32 399.4h6.23v1.5h-6.23zM122.53 402.4h6.23v1.1h-6.23zM161.95 402.4h11.86v1.1h-11.86zM201.37 418h6.23v1.5h-6.23zM201.37 421h6.23v1.5h-6.23zM201.37 429h6.23v1.5h-6.23zM133.79 431h6.23v1.5h-6.23zM133.79 435h6.23v1.5h-6.23zM201.37 436h6.23v1.5h-6.23zM133.79 439h6.23v1.5h-6.23zM173.21 442h6.23v1.5h-6.23zM201.37 442h6.23v1.5h-6.23zM201.37 443h6.23v1.5h-6.23zM195.74 444h6.23v0.8h-6.23zM167.58 444.3h6.23v1.5h-6.23zM133.79 445.3h6.23v1.5h-6.23zM150.68 448.3h6.23v1.5h-6.23zM195.74 449.3h6.23v1.5h-6.23zM139.42 450.3h6.23v1.5h-6.23zM195.74 451.3h6.23v1.5h-6.23zM145.05 452.3h6.23v1.5h-6.23zM145.05 453.3h6.23v1.5h-6.23zM173.21 454.3h6.23v1.5h-6.23zM150.68 455.3h6.23v1.5h-6.23zM195.74 455.3h6.23v1.5h-6.23zM156.32 458.3h6.23v1.5h-6.23zM201.37 458.3h6.23v1.5h-6.23zM139.42 461.3h6.23v1.5h-6.23zM145.05 463.3h6.23v1.5h-6.23zM156.32 463.3h6.23v1.5h-6.23zM178.84 465.3h6.23v1.5h-6.23zM190.11 465.3h6.23v1.5h-6.23zM150.68 466.3h6.23v1.5h-6.23zM178.84 466.3h6.23v1.5h-6.23zM150.68 467.3h11.86v1.5h-11.86zM173.21 467.3h6.23v1.5h-6.23zM139.42 470.3h6.23v1.5h-6.23zM156.32 470.3h6.23v1.5h-6.23zM190.11 470.3h6.23v1.5h-6.23zM190.11 471.3h6.23v1.5h-6.23zM156.32 473.3h6.23v1.5h-6.23zM150.68 475.3h6.23v1.5h-6.23zM190.11 475.3h6.23v1.5h-6.23zM167.58 476.3h11.86v1.5h-11.86zM133.79 477.3h6.23v1.5h-6.23zM161.95 481.3h6.23v1.5h-6.23zM161.95 484.3h17.49v1.5h-17.49zM161.95 485.3h6.23v1.5h-6.23zM173.21 485.3h6.23v1.5h-6.23zM190.11 485.3h6.23v1.5h-6.23zM150.68 486.3h6.23v1.5h-6.23zM133.79 487.3h6.23v1.5h-6.23zM145.05 487.3h6.23v1.5h-6.23zM156.32 487.3h6.23v1.5h-6.23zM139.42 488.3h6.23v1.5h-6.23zM161.95 488.3h6.23v1.5h-6.23zM156.32 489.3h11.86v1.5h-11.86zM133.79 491.3h6.23v1.5h-6.23zM161.95 491.3h6.23v1.5h-6.23zM156.32 492.3h6.23v1.5h-6.23zM178.84 508.5h6.23v1.5h-6.23zM201.37 509.5h6.23v1.5h-6.23zM178.84 510.5h6.23v1.5h-6.23zM201.37 511.5h6.23v1.5h-6.23zM201.37 524.5h6.23v1.5h-6.23zM201.37 532.5h6.23v1.5h-6.23zM201.37 535.5h6.23v1.5h-6.23zM195.74 537.5h6.23v1.5h-6.23zM195.74 538.5h6.23v1.5h-6.23zM201.37 542.5h6.23v1.5h-6.23zM195.74 547.5h6.23v1.5h-6.23zM190.11 550.5h6.23v1.5h-6.23zM195.74 551.5h6.23v1.5h-6.23zM195.74 553.5h6.23v1.5h-6.23z"/>
<path fill="#f2bbbb" d="M178.84 381.4h6.23v1.5h-6.23zM128.16 382.4h6.23v1.5h-6.23zM150.68 382.4h6.23v1.5h-6.23zM167.58 382.4h6.23v1.5h-6.23zM178.84 382.4h11.86v1.5h-11.86zM184.47 383.4h6.23v1.5h-6.23zM184.47 384.4h6.23v1.5h-6.23zM156.32 386.4h17.49v1.5h-17.49zM178.84 386.4h6.23v1.5h-6.23zM122.53 387.4h6.23v1.5h-6.23zM150.68 387.4h6.23v1.5h-6.23zM128.16 388.4h6.23v1.5h-6.23zM178.84 388.4h6.23v1.5h-6.23zM190.11 389.4h6.23v1.5h-6.23zM184.47 391.4h11.86v1.5h-11.86zM167.58 392.4h6.23v1.5h-6.23zM173.21 393.4h11.86v1.5h-11.86zM128.16 394.4h6.23v1.5h-6.23zM161.95 394.4h6.23v1.5h-6.23zM173.21 394.4h6.23v1.5h-6.23zM184.47 395.4h6.23v1.5h-6.23zM173.21 396.4h6.23v1.5h-6.23zM139.42 397.4h6.23v1.5h-6.23zM128.16 398.4h6.23v1.5h-6.23zM178.84 398.4h6.23v1.5h-6.23zM195.74 399.4h6.23v1.5h-6.23zM156.32 402.4h6.23v1.1h-6.23zM173.21 402.4h6.23v1.1h-6.23zM173.21 407h6.23v1.5h-6.23zM133.79 417h6.23v1.5h-6.23zM167.58 433h11.86v1.5h-11.86zM201.37 435h6.23v1.5h-6.23zM201.37 440h6.23v1.5h-6.23zM195.74 445.3h6.23v1.5h-6.23zM156.32 448.3h11.86v1.5h-11.86zM201.37 449.3h6.23v1.5h-6.23zM150.68 450.3h6.23v1.5h-6.23zM184.47 450.3h6.23v1.5h-6.23zM156.32 451.3h11.86v1.5h-11.86zM133.79 452.3h6.23v1.5h-6.23zM150.68 452.3h6.23v1.5h-6.23zM195.74 453.3h6.23v1.5h-6.23zM156.32 455.3h17.49v1.5h-17.49zM178.84 456.3h6.23v1.5h-6.23zM150.68 458.3h6.23v1.5h-6.23zM139.42 460.3h6.23v1.5h-6.23zM190.11 460.3h6.23v1.5h-6.23zM133.79 461.3h6.23v1.5h-6.23zM145.05 461.3h6.23v1.5h-6.23zM156.32 461.3h6.23v1.5h-6.23zM195.74 462.3h6.23v1.5h-6.23zM150.68 463.3h6.23v1.5h-6.23zM161.95 467.3h11.86v1.5h-11.86zM145.05 469.3h6.23v1.5h-6.23zM195.74 471.3h6.23v1.5h-6.23zM184.47 474.3h6.23v1.5h-6.23zM145.05 475.3h6.23v1.5h-6.23zM156.32 475.3h17.49v1.5h-17.49zM145.05 480.3h6.23v1.5h-6.23zM167.58 481.3h6.23v1.5h-6.23zM133.79 482.3h6.23v1.5h-6.23zM150.68 482.3h6.23v1.5h-6.23zM167.58 482.3h6.23v1.5h-6.23zM139.42 483.3h6.23v1.5h-6.23zM190.11 483.3h6.23v1.5h-6.23zM145.05 484.3h6.23v1.5h-6.23zM133.79 485.3h17.49v1.5h-17.49zM167.58 485.3h6.23v1.5h-6.23zM139.42 487.3h6.23v1.5h-6.23zM150.68 487.3h6.23v1.5h-6.23zM161.95 487.3h6.23v1.5h-6.23zM133.79 488.3h6.23v1.5h-6.23zM150.68 488.3h6.23v1.5h-6.23zM150.68 489.3h6.23v1.5h-6.23zM161.95 490.3h6.23v1.5h-6.23zM178.84 491.3h6.23v1.5h-6.23zM161.95 492.3h6.23v1.5h-6.23zM133.79 493.3h6.23v1.5h-6.23zM173.21 493.3h6.23v1.5h-6.23zM178.84 499.5h6.23v1.5h-6.23zM201.37 518.5h6.23v1.5h-6.23zM201.37 526.5h6.23v1.5h-6.23zM178.84 527.5h6.23v1.5h-6.23zM201.37 527.5h6.23v1.5h-6.23zM201.37 528.5h6.23v1.5h-6.23zM201.37 529.5h6.23v1.5h-6.23zM190.11 533.5h6.23v1.5h-6.23zM195.74 539.5h6.23v1.5h-6.23zM190.11 546.5h6.23v1.5h-6.23zM190.11 555.5h11.86v1.3h-11.86z"/>
<path fill="#f1b6b6" d="M156.32 380.4h6.23v1.5h-6.23zM190.11 380.4h6.23v1.5h-6.23zM150.68 383.4h6.23v1.5h-6.23zM150.68 386.4h6.23v1.5h-6.23zM128.16 387.4h6.23v1.5h-6.23zM122.53 392.4h6.23v1.5h-6.23zM190.11 393.4h11.86v1.5h-11.86zM128.16 396.4h6.23v1.5h-6.23zM145.05 396.4h6.23v1.5h-6.23zM201.37 397.4h6.23v1.5h-6.23zM184.47 398.4h6.23v1.5h-6.23zM145.05 399.4h6.23v1.5h-6.23zM195.74 400.4h6.23v1.5h-6.23zM156.32 401.4h6.23v1.5h-6.23zM184.47 401.4h6.23v1.5h-6.23zM128.16 402.4h6.23v1.1h-6.23zM150.68 402.4h6.23v1.1h-6.23zM139.42 417h6.23v1.5h-6.23zM139.42 431h6.23v1.5h-6.23zM201.37 432h6.23v1.5h-6.23zM201.37 441h6.23v1.5h-6.23zM184.47 444.3h6.23v1.5h-6.23zM178.84 446.3h6.23v1.5h-6.23zM150.68 447.3h6.23v1.5h-6.23zM167.58 448.3h6.23v1.5h-6.23zM156.32 450.3h11.86v1.5h-11.86zM167.58 451.3h6.23v1.5h-6.23zM201.37 451.3h6.23v1.5h-6.23zM150.68 453.3h6.23v1.5h-6.23zM195.74 454.3h6.23v1.5h-6.23zM201.37 455.3h6.23v1.5h-6.23zM195.74 456.3h6.23v1.5h-6.23zM190.11 457.3h6.23v1.5h-6.23zM161.95 458.3h6.23v1.5h-6.23zM173.21 458.3h11.86v1.5h-11.86zM139.42 459.3h11.86v1.5h-11.86zM161.95 461.3h6.23v1.5h-6.23zM195.74 466.3h6.23v1.5h-6.23zM195.74 467.3h6.23v1.5h-6.23zM156.32 468.3h6.23v1.5h-6.23zM178.84 468.3h6.23v1.5h-6.23zM133.79 469.3h6.23v1.5h-6.23zM133.79 470.3h6.23v1.5h-6.23zM150.68 471.3h6.23v1.5h-6.23zM167.58 471.3h6.23v1.5h-6.23zM190.11 472.3h6.23v1.5h-6.23zM133.79 473.3h6.23v1.5h-6.23zM150.68 473.3h6.23v1.5h-6.23zM173.21 475.3h6.23v1.5h-6.23zM201.37 476.3h6.23v1.5h-6.23zM167.58 477.3h6.23v1.5h-6.23zM190.11 478.3h6.23v1.5h-6.23zM139.42 479.3h6.23v1.5h-6.23zM145.05 482.3h6.23v1.5h-6.23zM161.95 482.3h6.23v1.5h-6.23zM156.32 486.3h6.23v1.5h-6.23zM167.58 487.3h6.23v1.5h-6.23zM178.84 487.3h6.23v1.5h-6.23zM156.32 490.3h6.23v1.5h-6.23zM184.47 490.3h17.49v1.5h-17.49zM173.21 491.3h6.23v1.5h-6.23zM139.42 492.3h6.23v1.5h-6.23zM178.84 492.3h6.23v1.5h-6.23zM190.11 492.3h6.23v1.5h-6.23zM145.05 493.3h6.23v1.5h-6.23zM150.68 494.3h6.23v0.7h-6.23zM190.11 494.3h6.23v0.7h-6.23zM201.37 495.5h6.23v1.5h-6.23zM178.84 511.5h6.23v1.5h-6.23zM178.84 514.5h6.23v1.5h-6.23zM201.37 523.5h6.23v1.5h-6.23zM201.37 525.5h6.23v1.5h-6.23zM178.84 528.5h6.23v1.5h-6.23zM201.37 534.5h6.23v1.5h-6.23zM178.84 540.5h6.23v1.5h-6.23zM201.37 543.5h6.23v1.5h-6.23zM201.37 544.5h6.23v1.5h-6.23zM195.74 552.5h6.23v1.5h-6.23z"/>
<path fill="#f0b2b2" d="M150.68 380.4h6.23v1.5h-6.23zM178.84 380.4h11.86v1.5h-11.86zM139.42 383.4h11.86v1.5h-11.86zM156.32 383.4h6.23v1.5h-6.23zM145.05 384.4h6.23v1.5h-6.23zM173.21 386.4h6.23v1.5h-6.23zM184.47 386.4h6.23v1.5h-6.23zM156.32 387.4h17.49v1.5h-17.49zM184.47 387.4h6.23v1.5h-6.23zM195.74 390.4h6.23v1.5h-6.23zM167.58 391.4h6.23v1.5h-6.23zM178.84 391.4h6.23v1.5h-6.23zM178.84 392.4h6.23v1.5h-6.23zM201.37 394.4h6.23v1.5h-6.23zM122.53 395.4h11.86v1.5h-11.86zM178.84 395.4h6.23v1.5h-6.23zM122.53 396.4h6.23v1.5h-6.23zM178.84 396.4h6.23v1.5h-6.23zM145.05 397.4h6.23v1.5h-6.23zM178.84 402.4h6.23v1.1h-6.23zM201.37 439h6.23v1.5h-6.23zM161.95 447.3h6.23v1.5h-6.23zM145.05 448.3h6.23v1.5h-6.23zM173.21 448.3h11.86v1.5h-11.86zM201.37 448.3h6.23v1.5h-6.23zM173.21 451.3h6.23v1.5h-6.23zM139.42 452.3h6.23v1.5h-6.23zM133.79 453.3h6.23v1.5h-6.23zM161.95 453.3h6.23v1.5h-6.23zM173.21 455.3h6.23v1.5h-6.23zM195.74 457.3h6.23v1.5h-6.23zM150.68 459.3h6.23v1.5h-6.23zM190.11 459.3h6.23v1.5h-6.23zM178.84 460.3h6.23v1.5h-6.23zM150.68 461.3h6.23v1.5h-6.23zM173.21 461.3h6.23v1.5h-6.23zM190.11 461.3h6.23v1.5h-6.23zM150.68 462.3h6.23v1.5h-6.23zM161.95 462.3h6.23v1.5h-6.23zM173.21 462.3h6.23v1.5h-6.23zM161.95 463.3h11.86v1.5h-11.86zM195.74 463.3h6.23v1.5h-6.23zM150.68 464.3h6.23v1.5h-6.23zM195.74 464.3h11.86v1.5h-11.86zM195.74 465.3h6.23v1.5h-6.23zM167.58 466.3h11.86v1.5h-11.86zM150.68 468.3h6.23v1.5h-6.23zM161.95 468.3h6.23v1.5h-6.23zM150.68 469.3h6.23v1.5h-6.23zM178.84 469.3h6.23v1.5h-6.23zM190.11 469.3h6.23v1.5h-6.23zM150.68 470.3h6.23v1.5h-6.23zM195.74 470.3h6.23v1.5h-6.23zM178.84 472.3h6.23v1.5h-6.23zM139.42 473.3h11.86v1.5h-11.86zM161.95 473.3h11.86v1.5h-11.86zM133.79 474.3h6.23v1.5h-6.23zM145.05 474.3h6.23v1.5h-6.23zM139.42 475.3h6.23v1.5h-6.23zM195.74 475.3h6.23v1.5h-6.23zM145.05 477.3h23.13v1.5h-23.13zM195.74 478.3h6.23v1.5h-6.23zM190.11 479.3h6.23v1.5h-6.23zM133.79 480.3h11.86v1.5h-11.86zM178.84 481.3h6.23v1.5h-6.23zM190.11 481.3h6.23v1.5h-6.23zM156.32 482.3h6.23v1.5h-6.23zM173.21 482.3h11.86v1.5h-11.86zM190.11 482.3h6.23v1.5h-6.23zM133.79 484.3h6.23v1.5h-6.23zM184.47 485.3h6.23v1.5h-6.23zM195.74 485.3h6.23v1.5h-6.23zM173.21 486.3h6.23v1.5h-6.23zM173.21 487.3h6.23v1.5h-6.23zM173.21 488.3h6.23v1.5h-6.23zM190.11 488.3h6.23v1.5h-6.23zM167.58 489.3h11.86v1.5h-11.86zM150.68 490.3h6.23v1.5h-6.23zM156.32 494.3h17.49v0.7h-17.49zM178.84 494.5h6.23v1.5h-6.23zM178.84 500.5h6.23v1.5h-6.23zM201.37 504.5h6.23v1.5h-6.23zM201.37 519.5h6.23v1.5h-6.23zM201.37 538.5h6.23v1.5h-6.23zM201.37 541.5h6.23v1.5h-6.23zM178.84 544.5h6.23v1.5h-6.23zM195.74 548.5h6.23v1.5h-6.23zM195.74 550.5h6.23v1.5h-6.23zM178.84 551.5h6.23v1.5h-6.23zM190.11 560.3h6.23v1.5h-6.23zM190.11 575.3h6.23v1.5h-6.23zM190.11 580.3h6.23v1.5h-6.23zM190.11 586.3h6.23v1.5h-6.23z"/>
<path fill="#efadad" d="M161.95 380.4h11.86v1.5h-11.86zM133.79 381.4h6.23v1.5h-6.23zM145.05 381.4h6.23v1.5h-6.23zM190.11 382.4h11.86v1.5h-11.86zM133.79 383.4h6.23v1.5h-6.23zM161.95 383.4h11.86v1.5h-11.86zM190.11 383.4h6.23v1.5h-6.23zM133.79 386.4h6.23v1.5h-6.23zM190.11 386.4h6.23v1.5h-6.23zM173.21 387.4h6.23v1.5h-6.23zM190.11 388.4h6.23v1.5h-6.23zM195.74 389.4h6.23v1.5h-6.23zM195.74 392.4h6.23v1.5h-6.23zM133.79 394.4h6.23v1.5h-6.23zM133.79 395.4h6.23v1.5h-6.23zM190.11 395.4h6.23v1.5h-6.23zM190.11 396.4h6.23v1.5h-6.23zM150.68 398.4h23.13v1.5h-23.13zM133.79 399.4h11.86v1.5h-11.86zM150.68 401.4h6.23v1.5h-6.23zM161.95 401.4h11.86v1.5h-11.86zM145.05 402.4h6.23v1.1h-6.23zM184.47 402.4h11.86v1.1h-11.86zM201.37 445.3h6.23v1.5h-6.23zM156.32 447.3h6.23v1.5h-6.23zM167.58 447.3h17.49v1.5h-17.49zM173.21 450.3h6.23v1.5h-6.23zM195.74 452.3h6.23v1.5h-6.23zM139.42 453.3h6.23v1.5h-6.23zM167.58 453.3h17.49v1.5h-17.49zM201.37 454.3h6.23v1.5h-6.23zM167.58 458.3h6.23v1.5h-6.23zM173.21 459.3h6.23v1.5h-6.23zM195.74 459.3h6.23v1.5h-6.23zM195.74 460.3h6.23v1.5h-6.23zM195.74 461.3h6.23v1.5h-6.23zM167.58 462.3h6.23v1.5h-6.23zM178.84 462.3h6.23v1.5h-6.23zM173.21 463.3h6.23v1.5h-6.23zM156.32 464.3h11.86v1.5h-11.86zM173.21 468.3h6.23v1.5h-6.23zM195.74 468.3h6.23v1.5h-6.23zM145.05 470.3h6.23v1.5h-6.23zM161.95 470.3h6.23v1.5h-6.23zM173.21 470.3h6.23v1.5h-6.23zM156.32 471.3h11.86v1.5h-11.86zM173.21 471.3h6.23v1.5h-6.23zM150.68 472.3h6.23v1.5h-6.23zM173.21 473.3h6.23v1.5h-6.23zM139.42 474.3h6.23v1.5h-6.23zM133.79 475.3h6.23v1.5h-6.23zM178.84 475.3h6.23v1.5h-6.23zM139.42 477.3h6.23v1.5h-6.23zM173.21 477.3h6.23v1.5h-6.23zM178.84 479.3h6.23v1.5h-6.23zM150.68 480.3h6.23v1.5h-6.23zM139.42 484.3h6.23v1.5h-6.23zM201.37 485.3h6.23v1.5h-6.23zM133.79 486.3h11.86v1.5h-11.86zM195.74 487.3h6.23v1.5h-6.23zM167.58 490.3h11.86v1.5h-11.86zM190.11 491.3h6.23v1.5h-6.23zM167.58 492.3h11.86v1.5h-11.86zM195.74 492.3h6.23v1.5h-6.23zM139.42 493.3h6.23v1.5h-6.23zM190.11 493.3h6.23v1.5h-6.23zM173.21 494.3h6.23v0.7h-6.23zM201.37 508.5h6.23v1.5h-6.23zM178.84 515.5h6.23v1.5h-6.23zM178.84 516.5h6.23v1.5h-6.23zM178.84 521.5h6.23v1.5h-6.23zM178.84 524.5h6.23v1.5h-6.23zM201.37 531.5h6.23v1.5h-6.23zM178.84 532.5h6.23v1.5h-6.23zM201.37 537.5h6.23v1.5h-6.23zM178.84 541.5h6.23v1.5h-6.23zM195.74 546.5h6.23v1.5h-6.23zM201.37 548.5h6.23v1.5h-6.23zM201.37 549.5h6.23v1.5h-6.23zM178.84 552.5h6.23v1.5h-6.23zM201.37 553.5h6.23v1.5h-6.23zM190.11 558.3h6.23v1.5h-6.23zM190.11 579.3h6.23v1.5h-6.23z"/>
<path fill="#eea9a9" d="M173.21 380.4h6.23v1.5h-6.23zM139.42 381.4h6.23v1.5h-6.23zM195.74 381.4h6.23v1.5h-6.23zM133.79 382.4h6.23v1.5h-6.23zM173.21 383.4h6.23v1.5h-6.23zM195.74 384.4h11.86v1.5h-11.86zM145.05 385.4h6.23v1.5h-6.23zM145.05 386.4h6.23v1.5h-6.23zM145.05 387.4h6.23v1.5h-6.23zM167.58 388.4h6.23v1.5h-6.23zM178.84 390.4h11.86v1.5h-11.86zM145.05 391.4h6.23v1.5h-6.23zM195.74 391.4h6.23v1.5h-6.23zM184.47 392.4h6.23v1.5h-6.23zM139.42 395.4h11.86v1.5h-11.86zM184.47 396.4h6.23v1.5h-6.23zM133.79 397.4h6.23v1.5h-6.23zM173.21 398.4h6.23v1.5h-6.23zM139.42 400.4h6.23v1.5h-6.23zM178.84 400.4h11.86v1.5h-11.86zM145.05 401.4h6.23v1.5h-6.23zM173.21 401.4h6.23v1.5h-6.23zM178.84 445.3h6.23v1.5h-6.23zM139.42 448.3h6.23v1.5h-6.23zM167.58 450.3h6.23v1.5h-6.23zM156.32 452.3h6.23v1.5h-6.23zM178.84 452.3h6.23v1.5h-6.23zM156.32 453.3h6.23v1.5h-6.23zM201.37 453.3h6.23v1.5h-6.23zM201.37 456.3h6.23v1.5h-6.23zM150.68 457.3h6.23v1.5h-6.23zM173.21 457.3h11.86v1.5h-11.86zM156.32 459.3h11.86v1.5h-11.86zM150.68 460.3h6.23v1.5h-6.23zM173.21 460.3h6.23v1.5h-6.23zM167.58 461.3h6.23v1.5h-6.23zM156.32 462.3h6.23v1.5h-6.23zM201.37 462.3h6.23v1.5h-6.23zM201.37 463.3h6.23v1.5h-6.23zM173.21 464.3h6.23v1.5h-6.23zM184.47 466.3h6.23v1.5h-6.23zM178.84 467.3h6.23v1.5h-6.23zM139.42 469.3h6.23v1.5h-6.23zM156.32 469.3h6.23v1.5h-6.23zM173.21 469.3h6.23v1.5h-6.23zM178.84 470.3h6.23v1.5h-6.23zM178.84 471.3h6.23v1.5h-6.23zM201.37 471.3h6.23v1.5h-6.23zM173.21 472.3h6.23v1.5h-6.23zM195.74 472.3h6.23v1.5h-6.23zM178.84 473.3h6.23v1.5h-6.23zM190.11 473.3h11.86v1.5h-11.86zM195.74 474.3h6.23v1.5h-6.23zM178.84 476.3h6.23v1.5h-6.23zM178.84 478.3h6.23v1.5h-6.23zM195.74 479.3h6.23v1.5h-6.23zM156.32 480.3h28.76v1.5h-28.76zM133.79 481.3h6.23v1.5h-6.23zM145.05 481.3h6.23v1.5h-6.23zM139.42 482.3h6.23v1.5h-6.23zM195.74 482.3h6.23v1.5h-6.23zM178.84 484.3h6.23v1.5h-6.23zM145.05 486.3h6.23v1.5h-6.23zM161.95 486.3h11.86v1.5h-11.86zM178.84 486.3h6.23v1.5h-6.23zM190.11 486.3h6.23v1.5h-6.23zM178.84 488.3h6.23v1.5h-6.23zM178.84 489.3h6.23v1.5h-6.23zM201.37 490.3h6.23v1.5h-6.23zM178.84 493.3h6.23v1.5h-6.23zM195.74 493.3h6.23v1.5h-6.23zM178.84 494.3h6.23v0.7h-6.23zM184.47 494.5h6.23v1.5h-6.23zM178.84 505.5h6.23v1.5h-6.23zM178.84 506.5h6.23v1.5h-6.23zM178.84 530.5h6.23v1.5h-6.23zM195.74 533.5h6.23v1.5h-6.23zM184.47 535.5h6.23v1.5h-6.23zM178.84 538.5h6.23v1.5h-6.23zM201.37 539.5h6.23v1.5h-6.23zM201.37 545.5h6.23v1.5h-6.23zM178.84 549.5h6.23v1.5h-6.23zM201.37 551.5h6.23v1.5h-6.23zM184.47 553.5h6.23v1.5h-6.23zM178.84 554.5h6.23v1.5h-6.23zM201.37 554.5h6.23v1.5h-6.23zM178.84 555.5h6.23v1.3h-6.23z"/>
<path fill="#eea4a4" d="M195.74 380.4h6.23v1.5h-6.23zM139.42 382.4h6.23v1.5h-6.23zM201.37 382.4h6.23v1.5h-6.23zM195.74 383.4h11.86v1.5h-11.86zM133.79 384.4h11.86v1.5h-11.86zM178.84 385.4h6.23v1.5h-6.23zM139.42 386.4h6.23v1.5h-6.23zM139.42 387.4h6.23v1.5h-6.23zM156.32 388.4h6.23v1.5h-6.23zM167.58 389.4h6.23v1.5h-6.23zM201.37 392.4h6.23v1.5h-6.23zM139.42 394.4h11.86v1.5h-11.86zM133.79 396.4h11.86v1.5h-11.86zM195.74 396.4h6.23v1.5h-6.23zM190.11 398.4h11.86v1.5h-11.86zM201.37 399.4h6.23v1.5h-6.23zM133.79 400.4h6.23v1.5h-6.23zM201.37 400.4h6.23v1.5h-6.23zM133.79 401.4h11.86v1.5h-11.86zM133.79 402.4h11.86v1.1h-11.86zM195.74 402.4h6.23v1.1h-6.23zM133.79 448.3h6.23v1.5h-6.23zM178.84 449.3h6.23v1.5h-6.23zM178.84 451.3h6.23v1.5h-6.23zM161.95 452.3h6.23v1.5h-6.23zM173.21 452.3h6.23v1.5h-6.23zM201.37 452.3h6.23v1.5h-6.23zM178.84 454.3h6.23v1.5h-6.23zM178.84 455.3h6.23v1.5h-6.23zM184.47 456.3h6.23v1.5h-6.23zM167.58 457.3h6.23v1.5h-6.23zM167.58 459.3h6.23v1.5h-6.23zM178.84 459.3h6.23v1.5h-6.23zM161.95 460.3h6.23v1.5h-6.23zM184.47 460.3h6.23v1.5h-6.23zM178.84 461.3h6.23v1.5h-6.23zM178.84 463.3h6.23v1.5h-6.23zM184.47 465.3h6.23v1.5h-6.23zM201.37 465.3h6.23v1.5h-6.23zM201.37 466.3h6.23v1.5h-6.23zM201.37 467.3h6.23v1.5h-6.23zM167.58 468.3h6.23v1.5h-6.23zM184.47 468.3h6.23v1.5h-6.23zM161.95 469.3h6.23v1.5h-6.23zM195.74 469.3h6.23v1.5h-6.23zM167.58 470.3h6.23v1.5h-6.23zM156.32 472.3h6.23v1.5h-6.23zM201.37 474.3h6.23v1.5h-6.23zM178.84 477.3h6.23v1.5h-6.23zM190.11 480.3h6.23v1.5h-6.23zM195.74 483.3h6.23v1.5h-6.23zM195.74 488.3h6.23v1.5h-6.23zM190.11 489.3h6.23v1.5h-6.23zM184.47 492.3h6.23v1.5h-6.23zM195.74 494.3h6.23v0.7h-6.23zM178.84 496.5h6.23v1.5h-6.23zM178.84 497.5h6.23v1.5h-6.23zM178.84 502.5h6.23v1.5h-6.23zM178.84 503.5h6.23v1.5h-6.23zM178.84 504.5h6.23v1.5h-6.23zM178.84 507.5h6.23v1.5h-6.23zM178.84 509.5h6.23v1.5h-6.23zM178.84 512.5h6.23v1.5h-6.23zM178.84 517.5h6.23v1.5h-6.23zM178.84 519.5h6.23v1.5h-6.23zM201.37 520.5h6.23v1.5h-6.23zM178.84 523.5h6.23v1.5h-6.23zM184.47 527.5h6.23v1.5h-6.23zM178.84 539.5h6.23v1.5h-6.23zM178.84 542.5h6.23v1.5h-6.23zM178.84 543.5h6.23v1.5h-6.23zM178.84 546.5h6.23v1.5h-6.23zM201.37 546.5h6.23v1.5h-6.23zM201.37 547.5h6.23v1.5h-6.23zM178.84 550.5h6.23v1.5h-6.23zM201.37 550.5h6.23v1.5h-6.23zM201.37 552.5h6.23v1.5h-6.23zM201.37 555.5h6.23v1.3h-6.23zM190.11 567.3h6.23v1.5h-6.23zM195.74 586.3h6.23v1.5h-6.23z"/>
<path fill="#eda0a0" d="M145.05 382.4h6.23v1.5h-6.23zM133.79 385.4h11.86v1.5h-11.86zM184.47 385.4h11.86v1.5h-11.86zM195.74 386.4h6.23v1.5h-6.23zM133.79 387.4h6.23v1.5h-6.23zM150.68 388.4h6.23v1.5h-6.23zM173.21 388.4h6.23v1.5h-6.23zM133.79 389.4h6.23v1.5h-6.23zM150.68 389.4h17.49v1.5h-17.49zM133.79 390.4h6.23v1.5h-6.23zM145.05 390.4h6.23v1.5h-6.23zM201.37 390.4h6.23v1.5h-6.23zM139.42 391.4h6.23v1.5h-6.23zM201.37 391.4h6.23v1.5h-6.23zM145.05 392.4h6.23v1.5h-6.23zM145.05 393.4h6.23v1.5h-6.23zM201.37 393.4h6.23v1.5h-6.23zM167.58 395.4h6.23v1.5h-6.23zM133.79 398.4h17.49v1.5h-17.49zM145.05 400.4h6.23v1.5h-6.23zM190.11 401.4h6.23v1.5h-6.23zM184.47 448.3h6.23v1.5h-6.23zM167.58 452.3h6.23v1.5h-6.23zM156.32 457.3h11.86v1.5h-11.86zM201.37 457.3h6.23v1.5h-6.23zM184.47 458.3h6.23v1.5h-6.23zM156.32 460.3h6.23v1.5h-6.23zM167.58 460.3h6.23v1.5h-6.23zM184.47 462.3h6.23v1.5h-6.23zM178.84 464.3h6.23v1.5h-6.23zM201.37 468.3h6.23v1.5h-6.23zM201.37 470.3h6.23v1.5h-6.23zM161.95 472.3h11.86v1.5h-11.86zM201.37 478.3h6.23v1.5h-6.23zM184.47 481.3h6.23v1.5h-6.23zM195.74 481.3h6.23v1.5h-6.23zM184.47 482.3h6.23v1.5h-6.23zM184.47 491.3h6.23v1.5h-6.23zM184.47 495.5h6.23v1.5h-6.23zM184.47 499.5h6.23v1.5h-6.23zM184.47 500.5h6.23v1.5h-6.23zM184.47 508.5h6.23v1.5h-6.23zM178.84 513.5h6.23v1.5h-6.23zM184.47 514.5h6.23v1.5h-6.23zM184.47 516.5h6.23v1.5h-6.23zM178.84 520.5h6.23v1.5h-6.23zM178.84 525.5h6.23v1.5h-6.23zM184.47 526.5h6.23v1.5h-6.23zM184.47 528.5h6.23v1.5h-6.23zM178.84 533.5h6.23v1.5h-6.23zM178.84 534.5h6.23v1.5h-6.23zM178.84 536.5h6.23v1.5h-6.23zM178.84 537.5h6.23v1.5h-6.23zM178.84 545.5h6.23v1.5h-6.23zM201.37 558.3h6.23v1.5h-6.23zM201.37 560.3h6.23v1.5h-6.23zM190.11 563.3h6.23v1.5h-6.23zM195.74 567.3h6.23v1.5h-6.23zM190.11 572.3h6.23v1.5h-6.23zM190.11 577.3h6.23v1.5h-6.23zM195.74 580.3h11.86v1.5h-11.86zM190.11 582.3h6.23v1.5h-6.23zM201.37 586.3h6.23v1.5h-6.23zM190.11 591.3h6.23v1.5h-6.23z"/>
<path fill="#ec9b9b" d="M145.05 380.4h6.23v1.5h-6.23zM195.74 385.4h6.23v1.5h-6.23zM190.11 387.4h11.86v1.5h-11.86zM161.95 388.4h6.23v1.5h-6.23zM195.74 388.4h6.23v1.5h-6.23zM139.42 389.4h11.86v1.5h-11.86zM173.21 389.4h6.23v1.5h-6.23zM139.42 390.4h6.23v1.5h-6.23zM133.79 391.4h6.23v1.5h-6.23zM133.79 392.4h11.86v1.5h-11.86zM133.79 393.4h11.86v1.5h-11.86zM195.74 395.4h6.23v1.5h-6.23zM201.37 398.4h6.23v1.5h-6.23zM184.47 446.3h6.23v1.5h-6.23zM184.47 447.3h6.23v1.5h-6.23zM201.37 459.3h6.23v1.5h-6.23zM201.37 460.3h6.23v1.5h-6.23zM201.37 461.3h6.23v1.5h-6.23zM167.58 464.3h6.23v1.5h-6.23zM167.58 469.3h6.23v1.5h-6.23zM184.47 469.3h6.23v1.5h-6.23zM201.37 469.3h6.23v1.5h-6.23zM184.47 471.3h6.23v1.5h-6.23zM184.47 472.3h6.23v1.5h-6.23zM201.37 472.3h6.23v1.5h-6.23zM184.47 473.3h6.23v1.5h-6.23zM201.37 473.3h6.23v1.5h-6.23zM201.37 475.3h6.23v1.5h-6.23zM184.47 476.3h6.23v1.5h-6.23zM190.11 477.3h11.86v1.5h-11.86zM184.47 479.3h6.23v1.5h-6.23zM201.37 479.3h6.23v1.5h-6.23zM139.42 481.3h6.23v1.5h-6.23zM201.37 482.3h6.23v1.5h-6.23zM178.84 483.3h6.23v1.5h-6.23zM195.74 486.3h6.23v1.5h-6.23zM201.37 487.3h6.23v1.5h-6.23zM195.74 489.3h6.23v1.5h-6.23zM195.74 491.3h6.23v1.5h-6.23zM184.47 493.3h6.23v1.5h-6.23zM178.84 498.5h6.23v1.5h-6.23zM178.84 501.5h6.23v1.5h-6.23zM184.47 510.5h6.23v1.5h-6.23zM184.47 511.5h6.23v1.5h-6.23zM178.84 518.5h6.23v1.5h-6.23zM184.47 521.5h6.23v1.5h-6.23zM178.84 522.5h6.23v1.5h-6.23zM178.84 529.5h6.23v1.5h-6.23zM178.84 531.5h6.23v1.5h-6.23zM184.47 540.5h6.23v1.5h-6.23zM178.84 547.5h6.23v1.5h-6.23zM195.74 558.3h6.23v1.5h-6.23zM190.11 559.3h6.23v1.5h-6.23zM195.74 560.3h6.23v1.5h-6.23zM190.11 570.3h6.23v1.5h-6.23zM201.37 575.3h6.23v1.5h-6.23zM190.11 581.3h6.23v1.5h-6.23zM201.37 591.3h6.23v1.5h-6.23z"/>
<path fill="#eb9797" d="M133.79 380.4h11.86v1.5h-11.86zM201.37 380.4h6.23v1.5h-6.23zM201.37 381.4h6.23v1.5h-6.23zM201.37 386.4h6.23v1.5h-6.23zM133.79 388.4h17.49v1.5h-17.49zM201.37 388.4h6.23v1.5h-6.23zM201.37 389.4h6.23v1.5h-6.23zM156.32 395.4h6.23v1.5h-6.23zM201.37 395.4h6.23v1.5h-6.23zM201.37 396.4h6.23v1.5h-6.23zM195.74 401.4h6.23v1.5h-6.23zM201.37 402.4h6.23v1.1h-6.23zM184.47 445.3h6.23v1.5h-6.23zM184.47 452.3h6.23v1.5h-6.23zM184.47 453.3h6.23v1.5h-6.23zM184.47 459.3h6.23v1.5h-6.23zM184.47 470.3h6.23v1.5h-6.23zM184.47 475.3h6.23v1.5h-6.23zM184.47 477.3h6.23v1.5h-6.23zM195.74 480.3h11.86v1.5h-11.86zM195.74 484.3h6.23v1.5h-6.23zM184.47 487.3h6.23v1.5h-6.23zM184.47 489.3h6.23v1.5h-6.23zM201.37 492.3h6.23v1.5h-6.23zM184.47 494.3h6.23v0.7h-6.23zM201.37 494.3h6.23v0.7h-6.23zM184.47 517.5h6.23v1.5h-6.23zM184.47 541.5h6.23v1.5h-6.23zM184.47 544.5h6.23v1.5h-6.23zM178.84 548.5h6.23v1.5h-6.23zM184.47 551.5h6.23v1.5h-6.23zM184.47 552.5h6.23v1.5h-6.23zM190.11 557.3h6.23v1.5h-6.23zM190.11 561.3h6.23v1.5h-6.23zM201.37 561.3h6.23v1.5h-6.23zM190.11 562.3h6.23v1.5h-6.23zM190.11 566.3h6.23v1.5h-6.23zM201.37 567.3h6.23v1.5h-6.23zM190.11 568.3h6.23v1.5h-6.23zM190.11 573.3h6.23v1.5h-6.23zM190.11 574.3h6.23v1.5h-6.23zM195.74 575.3h6.23v1.5h-6.23zM195.74 577.3h11.86v1.5h-11.86zM201.37 579.3h6.23v1.5h-6.23zM201.37 582.3h6.23v1.5h-6.23zM190.11 590.3h6.23v1.5h-6.23zM195.74 591.3h6.23v1.5h-6.23zM190.11 592.3h6.23v1.5h-6.23zM201.37 592.3h6.23v1.5h-6.23z"/>
<path fill="#ea9292" d="M201.37 385.4h6.23v1.5h-6.23zM201.37 387.4h6.23v1.5h-6.23zM173.21 395.4h6.23v1.5h-6.23zM184.47 449.3h6.23v1.5h-6.23zM184.47 451.3h6.23v1.5h-6.23zM184.47 454.3h6.23v1.5h-6.23zM184.47 455.3h6.23v1.5h-6.23zM184.47 457.3h6.23v1.5h-6.23zM184.47 461.3h6.23v1.5h-6.23zM184.47 463.3h6.23v1.5h-6.23zM184.47 467.3h6.23v1.5h-6.23zM201.37 477.3h6.23v1.5h-6.23zM184.47 478.3h6.23v1.5h-6.23zM184.47 480.3h6.23v1.5h-6.23zM201.37 481.3h6.23v1.5h-6.23zM184.47 483.3h6.23v1.5h-6.23zM201.37 483.3h6.23v1.5h-6.23zM184.47 488.3h6.23v1.5h-6.23zM201.37 488.3h6.23v1.5h-6.23zM201.37 493.3h6.23v1.5h-6.23zM184.47 496.5h6.23v1.5h-6.23zM184.47 497.5h6.23v1.5h-6.23zM184.47 502.5h6.23v1.5h-6.23zM184.47 504.5h6.23v1.5h-6.23zM184.47 506.5h6.23v1.5h-6.23zM184.47 509.5h6.23v1.5h-6.23zM184.47 512.5h6.23v1.5h-6.23zM184.47 515.5h6.23v1.5h-6.23zM184.47 519.5h6.23v1.5h-6.23zM184.47 520.5h6.23v1.5h-6.23zM184.47 523.5h6.23v1.5h-6.23zM184.47 524.5h6.23v1.5h-6.23zM184.47 530.5h6.23v1.5h-6.23zM184.47 539.5h6.23v1.5h-6.23zM184.47 546.5h6.23v1.5h-6.23zM184.47 554.5h6.23v1.5h-6.23zM184.47 555.5h6.23v1.3h-6.23zM190.11 556.3h6.23v1.5h-6.23zM195.74 557.3h6.23v1.5h-6.23zM195.74 563.3h6.23v1.5h-6.23zM190.11 564.3h6.23v1.5h-6.23zM190.11 565.3h6.23v1.5h-6.23zM190.11 569.3h6.23v1.5h-6.23zM195.74 570.3h11.86v1.5h-11.86zM190.11 571.3h6.23v1.5h-6.23zM201.37 572.3h6.23v1.5h-6.23zM190.11 576.3h6.23v1.5h-6.23zM195.74 579.3h6.23v1.5h-6.23zM190.11 584.3h6.23v1.5h-6.23zM190.11 587.3h6.23v1.5h-6.23zM190.11 589.3h6.23v1.5h-6.23zM195.74 592.3h6.23v1.5h-6.23zM190.11 593.3h6.23v1.5h-6.23zM190.11 594.3h6.23v1.5h-6.23z"/>
<path fill="#e98e8e" d="M150.68 395.4h6.23v1.5h-6.23zM161.95 395.4h6.23v1.5h-6.23zM201.37 401.4h6.23v1.5h-6.23zM201.37 444h6.23v0.8h-6.23zM184.47 464.3h6.23v1.5h-6.23zM184.47 484.3h11.86v1.5h-11.86zM184.47 486.3h6.23v1.5h-6.23zM201.37 486.3h6.23v1.5h-6.23zM201.37 491.3h6.23v1.5h-6.23zM184.47 498.5h6.23v1.5h-6.23zM184.47 503.5h6.23v1.5h-6.23zM184.47 505.5h6.23v1.5h-6.23zM184.47 507.5h6.23v1.5h-6.23zM184.47 518.5h6.23v1.5h-6.23zM184.47 525.5h6.23v1.5h-6.23zM184.47 529.5h6.23v1.5h-6.23zM184.47 532.5h6.23v1.5h-6.23zM184.47 533.5h6.23v1.5h-6.23zM201.37 533.5h6.23v1.5h-6.23zM184.47 534.5h6.23v1.5h-6.23zM184.47 537.5h6.23v1.5h-6.23zM184.47 538.5h6.23v1.5h-6.23zM184.47 542.5h6.23v1.5h-6.23zM184.47 543.5h6.23v1.5h-6.23zM184.47 549.5h6.23v1.5h-6.23zM201.37 557.3h6.23v1.5h-6.23zM195.74 559.3h11.86v1.5h-11.86zM195.74 561.3h6.23v1.5h-6.23zM195.74 562.3h6.23v1.5h-6.23zM201.37 563.3h6.23v1.5h-6.23zM195.74 564.3h6.23v1.5h-6.23zM201.37 566.3h6.23v1.5h-6.23zM195.74 573.3h11.86v1.5h-11.86zM190.11 578.3h6.23v1.5h-6.23zM201.37 581.3h6.23v1.5h-6.23zM195.74 582.3h6.23v1.5h-6.23zM190.11 583.3h6.23v1.5h-6.23zM190.11 585.3h6.23v1.5h-6.23zM190.11 588.3h6.23v1.5h-6.23zM195.74 590.3h6.23v1.5h-6.23zM190.11 595.3h6.23v1h-6.23z"/>
<path fill="#e88989" d="M201.37 484.3h6.23v1.5h-6.23zM201.37 489.3h6.23v1.5h-6.23zM184.47 501.5h6.23v1.5h-6.23zM184.47 513.5h6.23v1.5h-6.23zM184.47 522.5h6.23v1.5h-6.23zM184.47 531.5h6.23v1.5h-6.23zM184.47 536.5h6.23v1.5h-6.23zM184.47 545.5h6.23v1.5h-6.23zM184.47 547.5h6.23v1.5h-6.23zM184.47 548.5h6.23v1.5h-6.23zM184.47 550.5h6.23v1.5h-6.23zM201.37 556.3h6.23v1.5h-6.23zM201.37 562.3h6.23v1.5h-6.23zM201.37 564.3h6.23v1.5h-6.23zM195.74 565.3h6.23v1.5h-6.23zM195.74 566.3h6.23v1.5h-6.23zM201.37 568.3h6.23v1.5h-6.23zM195.74 572.3h6.23v1.5h-6.23zM201.37 574.3h6.23v1.5h-6.23zM195.74 581.3h6.23v1.5h-6.23zM201.37 583.3h6.23v1.5h-6.23zM195.74 584.3h11.86v1.5h-11.86zM201.37 585.3h6.23v1.5h-6.23zM195.74 587.3h11.86v1.5h-11.86zM195.74 589.3h6.23v1.5h-6.23zM201.37 590.3h6.23v1.5h-6.23zM195.74 593.3h11.86v1.5h-11.86zM201.37 595.3h6.23v1h-6.23z"/>
<path fill="#e78585" d="M195.74 556.3h6.23v1.5h-6.23zM201.37 565.3h6.23v1.5h-6.23zM195.74 568.3h6.23v1.5h-6.23zM195.74 569.3h11.86v1.5h-11.86zM195.74 571.3h11.86v1.5h-11.86zM195.74 574.3h6.23v1.5h-6.23zM195.74 576.3h6.23v1.5h-6.23zM195.74 578.3h11.86v1.5h-11.86zM195.74 583.3h6.23v1.5h-6.23zM195.74 585.3h6.23v1.5h-6.23zM195.74 588.3h11.86v1.5h-11.86zM201.37 589.3h6.23v1.5h-6.23zM195.74 594.3h6.23v1.5h-6.23zM195.74 595.3h6.23v1h-6.23z"/>
<path fill="#e68080" d="M201.37 576.3h6.23v1.5h-6.23zM201.37 594.3h6.23v1.5h-6.23z"/>
</g></g>
</g>
<rect x="133.79" y="357.1" width="56.32" height="5.6" fill="#a8002c"/>
<rect x="133.79" y="362.7" width="16.89" height="5.4" fill="#a8e890"/>
<rect x="178.84" y="362.4" width="28.16" height="5.7" fill="#a8002c"/>
<rect x="133.79" y="368.1" width="5.68" height="5" fill="#f5cfa5"/>
<rect x="139.42" y="368.1" width="5.68" height="5" fill="#e89a40"/>
<rect x="145.05" y="368.1" width="5.68" height="5" fill="#e89a40"/>
<rect x="150.68" y="368.1" width="5.68" height="5" fill="#f5cfa5"/>
<rect x="156.32" y="368.1" width="5.68" height="5" fill="#e89a40"/>
<rect x="161.95" y="368.1" width="5.68" height="5" fill="#e89a40"/>
<rect x="167.58" y="368.1" width="5.68" height="5" fill="#e89a40"/>
<rect x="173.21" y="368.1" width="5.68" height="5" fill="#b87448"/>
<rect x="178.84" y="368.1" width="5.68" height="5" fill="#f5cfa5"/>
<rect x="184.47" y="368.1" width="5.68" height="5" fill="#e89a40"/>
<rect x="190.11" y="368.1" width="5.68" height="5" fill="#f5cfa5"/>
<rect x="195.74" y="368.1" width="5.68" height="5" fill="#e89a40"/>
<rect x="201.37" y="368.1" width="5.68" height="5" fill="#b87448"/>
<rect x="100" y="373.1" width="33.79" height="5" fill="#b9b9b9"/>
<rect x="133.79" y="373.1" width="45.05" height="5" fill="#e0483e"/>
<rect x="178.84" y="373.1" width="11.26" height="5" fill="#4fa676"/>
<rect x="190.11" y="373.1" width="16.89" height="5" fill="#a8ccee"/>
<defs><linearGradient id="gB" x1="0" y1="0" x2="0" y2="1"><stop offset="0" stop-color="#ffffff"/><stop offset="1" stop-color="#e0646a"/></linearGradient></defs>
<rect x="64.1" y="344.3" width="5.6" height="27.45" fill="url(#gB)" stroke="#9a9a9a" stroke-width="0.6"/>
<line x1="64.1" y1="344.3" x2="64.1" y2="371.75" stroke="#555" stroke-width="0.7"/>
<line x1="62.6" y1="344.6" x2="64.4" y2="344.6" stroke="#333" stroke-width="0.8"/>
<line x1="62.6" y1="349.97" x2="64.4" y2="349.97" stroke="#333" stroke-width="0.8"/>
<line x1="62.6" y1="355.34" x2="64.4" y2="355.34" stroke="#333" stroke-width="0.8"/>
<line x1="62.6" y1="360.71" x2="64.4" y2="360.71" stroke="#333" stroke-width="0.8"/>
<line x1="62.6" y1="366.08" x2="64.4" y2="366.08" stroke="#333" stroke-width="0.8"/>
<line x1="62.6" y1="371.45" x2="64.4" y2="371.45" stroke="#333" stroke-width="0.8"/>
<text x="58.8" y="347.3" font-size="6.6" text-anchor="end" fill="#222" textLength="8.9" lengthAdjust="spacingAndGlyphs">0.0</text>
<text x="58.8" y="372.05" font-size="6.6" text-anchor="end" fill="#222" textLength="8.9" lengthAdjust="spacingAndGlyphs">1.0</text>
<text x="45.8" y="358.1" font-size="9" text-anchor="middle" fill="#222" transform="rotate(-90 45.8 358.1)" textLength="12.4" lengthAdjust="spacingAndGlyphs">Beta</text>
<text x="96.1" y="359.1" font-size="6" text-anchor="end" fill="#2a2a2a" font-style="italic" textLength="19" lengthAdjust="spacingAndGlyphs">Dnmt3a</text>
<text x="96.1" y="365.2" font-size="6" text-anchor="end" fill="#2a2a2a" font-style="italic" textLength="9.8" lengthAdjust="spacingAndGlyphs">Tet2</text>
<text x="96.1" y="371.4" font-size="6" text-anchor="end" fill="#2a2a2a" textLength="18.8" lengthAdjust="spacingAndGlyphs">Passage</text>
<text x="96.1" y="377.3" font-size="6" text-anchor="end" fill="#2a2a2a" textLength="19.4" lengthAdjust="spacingAndGlyphs">Subtype</text>
<rect x="91.2" y="380.4" width="6.8" height="22.65" fill="#c8daf0"/>
<text x="96.5" y="391.7" font-size="5.4" text-anchor="middle" fill="#111" transform="rotate(-90 96.5 391.7)">K=1</text>
<rect x="91.2" y="403" width="6.8" height="41.35" fill="#a6c4e4"/>
<text x="96.5" y="423.65" font-size="5.4" text-anchor="middle" fill="#111" transform="rotate(-90 96.5 423.65)">K=2</text>
<rect x="91.2" y="444.3" width="6.8" height="50.25" fill="#7ba6d8"/>
<text x="96.5" y="469.4" font-size="5.4" text-anchor="middle" fill="#111" transform="rotate(-90 96.5 469.4)">K=3</text>
<rect x="91.2" y="494.5" width="6.8" height="61.85" fill="#5a8acb"/>
<text x="96.5" y="525.4" font-size="5.4" text-anchor="middle" fill="#111" transform="rotate(-90 96.5 525.4)">K=4</text>
<rect x="91.2" y="556.3" width="6.8" height="39.55" fill="#3c64b0"/>
<text x="96.5" y="576.05" font-size="5.4" text-anchor="middle" fill="#111" transform="rotate(-90 96.5 576.05)">K=5</text>
<line x1="42.6" y1="401.7" x2="85.3" y2="401.7" stroke="#000" stroke-width="1" stroke-dasharray="1 1.1"/>
<line x1="55.7" y1="385.5" x2="55.7" y2="417.5" stroke="#111" stroke-width="0.9" stroke-dasharray="2.6 2.2"/>
<line x1="62" y1="385.5" x2="62" y2="417.5" stroke="#111" stroke-width="0.9" stroke-dasharray="2.6 2.2"/>
<line x1="72.9" y1="385.5" x2="72.9" y2="417.5" stroke="#111" stroke-width="0.9" stroke-dasharray="2.6 2.2"/>
<line x1="77.2" y1="385.5" x2="77.2" y2="417.5" stroke="#111" stroke-width="0.9" stroke-dasharray="2.6 2.2"/>
<path d="M43.2 404.74 L44.2 404.74 L46.9 405.65 L50.3 405.35 L53.6 403.52 L55.7 401.4 L57.7 394.71 L60.4 392.88 L61.7 392.58 L62.8 397.44 L65.8 395.92 L68.5 396.53 L71.1 395.32 L73.2 393.8 L75.2 393.19 L77.2 391.97 L79.2 392.58 L84.7 389.84" fill="none" stroke="#a6c6ea" stroke-width="1.1" stroke-linejoin="round"/>
<rect x="42.6" y="385.5" width="42.7" height="32" fill="none" stroke="#000" stroke-width="1.1"/>
<line x1="40.4" y1="416.9" x2="42.6" y2="416.9" stroke="#000" stroke-width="1"/>
<line x1="40.4" y1="410.82" x2="42.6" y2="410.82" stroke="#000" stroke-width="1"/>
<line x1="40.4" y1="404.74" x2="42.6" y2="404.74" stroke="#000" stroke-width="1"/>
<line x1="40.4" y1="398.66" x2="42.6" y2="398.66" stroke="#000" stroke-width="1"/>
<line x1="40.4" y1="392.58" x2="42.6" y2="392.58" stroke="#000" stroke-width="1"/>
<line x1="40.4" y1="386.5" x2="42.6" y2="386.5" stroke="#000" stroke-width="1"/>
<text x="38.2" y="388.4" font-size="6.3" text-anchor="end" fill="#222" textLength="8.7" lengthAdjust="spacingAndGlyphs">1.0</text>
<text x="38.2" y="418.8" font-size="6.3" text-anchor="end" fill="#222" textLength="8.7" lengthAdjust="spacingAndGlyphs">0.0</text>
<text x="23.8" y="401.5" font-size="8.6" text-anchor="middle" fill="#222" transform="rotate(-90 23.8 401.5)" textLength="12.85" lengthAdjust="spacingAndGlyphs">Beta</text>
<text x="64.45" y="382.3" font-size="5.5" text-anchor="middle" fill="#333" textLength="15.5" lengthAdjust="spacingAndGlyphs"><tspan font-style="italic">n</tspan>=625</text>
<line x1="42.6" y1="444.8" x2="85.3" y2="444.8" stroke="#000" stroke-width="1" stroke-dasharray="1 1.1"/>
<line x1="55.7" y1="428.6" x2="55.7" y2="460.6" stroke="#111" stroke-width="0.9" stroke-dasharray="2.6 2.2"/>
<line x1="62" y1="428.6" x2="62" y2="460.6" stroke="#111" stroke-width="0.9" stroke-dasharray="2.6 2.2"/>
<line x1="72.9" y1="428.6" x2="72.9" y2="460.6" stroke="#111" stroke-width="0.9" stroke-dasharray="2.6 2.2"/>
<line x1="77.2" y1="428.6" x2="77.2" y2="460.6" stroke="#111" stroke-width="0.9" stroke-dasharray="2.6 2.2"/>
<path d="M43.2 459.39 L43.6 459.7 L52.3 458.78 L55.3 458.18 L57 454.83 L59 453.31 L61 452.7 L62.8 456.96 L65.1 454.22 L67.1 455.44 L68.7 453.31 L70.5 452.1 L72.8 449.36 L74.5 452.7 L75.9 456.05 L77.2 454.22 L79.2 456.96 L84.7 451.18" fill="none" stroke="#88b6e0" stroke-width="1.1" stroke-linejoin="round"/>
<rect x="42.6" y="428.6" width="42.7" height="32" fill="none" stroke="#000" stroke-width="1.1"/>
<line x1="40.4" y1="460" x2="42.6" y2="460" stroke="#000" stroke-width="1"/>
<line x1="40.4" y1="453.92" x2="42.6" y2="453.92" stroke="#000" stroke-width="1"/>
<line x1="40.4" y1="447.84" x2="42.6" y2="447.84" stroke="#000" stroke-width="1"/>
<line x1="40.4" y1="441.76" x2="42.6" y2="441.76" stroke="#000" stroke-width="1"/>
<line x1="40.4" y1="435.68" x2="42.6" y2="435.68" stroke="#000" stroke-width="1"/>
<line x1="40.4" y1="429.6" x2="42.6" y2="429.6" stroke="#000" stroke-width="1"/>
<text x="38.2" y="431.5" font-size="6.3" text-anchor="end" fill="#222" textLength="8.7" lengthAdjust="spacingAndGlyphs">1.0</text>
<text x="38.2" y="461.9" font-size="6.3" text-anchor="end" fill="#222" textLength="8.7" lengthAdjust="spacingAndGlyphs">0.0</text>
<text x="23.8" y="444.6" font-size="8.6" text-anchor="middle" fill="#222" transform="rotate(-90 23.8 444.6)" textLength="12.85" lengthAdjust="spacingAndGlyphs">Beta</text>
<text x="64.45" y="425.4" font-size="5.5" text-anchor="middle" fill="#333" textLength="18.2" lengthAdjust="spacingAndGlyphs"><tspan font-style="italic">n</tspan>=1163</text>
<line x1="42.6" y1="487.9" x2="85.3" y2="487.9" stroke="#000" stroke-width="1" stroke-dasharray="1 1.1"/>
<line x1="55.7" y1="471.7" x2="55.7" y2="503.7" stroke="#111" stroke-width="0.9" stroke-dasharray="2.6 2.2"/>
<line x1="62" y1="471.7" x2="62" y2="503.7" stroke="#111" stroke-width="0.9" stroke-dasharray="2.6 2.2"/>
<line x1="72.9" y1="471.7" x2="72.9" y2="503.7" stroke="#111" stroke-width="0.9" stroke-dasharray="2.6 2.2"/>
<line x1="77.2" y1="471.7" x2="77.2" y2="503.7" stroke="#111" stroke-width="0.9" stroke-dasharray="2.6 2.2"/>
<path d="M43.2 500.36 L43.6 500.36 L51 500.67 L55 499.76 L57 493.68 L59.7 490.94 L62.4 493.68 L64.4 490.94 L66.4 491.55 L68.5 490.33 L70.5 487.6 L72.5 484.86 L74.5 483.64 L76.8 480.91 L79 485.47 L81.2 482.12 L84.7 478.78" fill="none" stroke="#4f96d8" stroke-width="1.1" stroke-linejoin="round"/>
<rect x="42.6" y="471.7" width="42.7" height="32" fill="none" stroke="#000" stroke-width="1.1"/>
<line x1="40.4" y1="503.1" x2="42.6" y2="503.1" stroke="#000" stroke-width="1"/>
<line x1="40.4" y1="497.02" x2="42.6" y2="497.02" stroke="#000" stroke-width="1"/>
<line x1="40.4" y1="490.94" x2="42.6" y2="490.94" stroke="#000" stroke-width="1"/>
<line x1="40.4" y1="484.86" x2="42.6" y2="484.86" stroke="#000" stroke-width="1"/>
<line x1="40.4" y1="478.78" x2="42.6" y2="478.78" stroke="#000" stroke-width="1"/>
<line x1="40.4" y1="472.7" x2="42.6" y2="472.7" stroke="#000" stroke-width="1"/>
<text x="38.2" y="474.6" font-size="6.3" text-anchor="end" fill="#222" textLength="8.7" lengthAdjust="spacingAndGlyphs">1.0</text>
<text x="38.2" y="505" font-size="6.3" text-anchor="end" fill="#222" textLength="8.7" lengthAdjust="spacingAndGlyphs">0.0</text>
<text x="23.8" y="487.7" font-size="8.6" text-anchor="middle" fill="#222" transform="rotate(-90 23.8 487.7)" textLength="12.85" lengthAdjust="spacingAndGlyphs">Beta</text>
<text x="64.45" y="468.5" font-size="5.5" text-anchor="middle" fill="#333" textLength="18.2" lengthAdjust="spacingAndGlyphs"><tspan font-style="italic">n</tspan>=1410</text>
<line x1="42.6" y1="531.8" x2="85.3" y2="531.8" stroke="#000" stroke-width="1" stroke-dasharray="1 1.1"/>
<line x1="55.7" y1="515.6" x2="55.7" y2="547.6" stroke="#111" stroke-width="0.9" stroke-dasharray="2.6 2.2"/>
<line x1="62" y1="515.6" x2="62" y2="547.6" stroke="#111" stroke-width="0.9" stroke-dasharray="2.6 2.2"/>
<line x1="72.9" y1="515.6" x2="72.9" y2="547.6" stroke="#111" stroke-width="0.9" stroke-dasharray="2.6 2.2"/>
<line x1="77.2" y1="515.6" x2="77.2" y2="547.6" stroke="#111" stroke-width="0.9" stroke-dasharray="2.6 2.2"/>
<path d="M43.2 545.18 L43.6 545.18 L53.6 544.57 L55.7 543.96 L58.4 541.83 L60.4 541.53 L61.7 542.44 L63.7 544.87 L66.4 543.96 L69.1 544.26 L71.8 541.83 L73.6 539.7 L75.2 530.89 L77.2 526.02 L79.2 536.97 L81.9 533.62 L84.7 529.67" fill="none" stroke="#3d86d2" stroke-width="1.1" stroke-linejoin="round"/>
<rect x="42.6" y="515.6" width="42.7" height="32" fill="none" stroke="#000" stroke-width="1.1"/>
<line x1="40.4" y1="547" x2="42.6" y2="547" stroke="#000" stroke-width="1"/>
<line x1="40.4" y1="540.92" x2="42.6" y2="540.92" stroke="#000" stroke-width="1"/>
<line x1="40.4" y1="534.84" x2="42.6" y2="534.84" stroke="#000" stroke-width="1"/>
<line x1="40.4" y1="528.76" x2="42.6" y2="528.76" stroke="#000" stroke-width="1"/>
<line x1="40.4" y1="522.68" x2="42.6" y2="522.68" stroke="#000" stroke-width="1"/>
<line x1="40.4" y1="516.6" x2="42.6" y2="516.6" stroke="#000" stroke-width="1"/>
<text x="38.2" y="518.5" font-size="6.3" text-anchor="end" fill="#222" textLength="8.7" lengthAdjust="spacingAndGlyphs">1.0</text>
<text x="38.2" y="548.9" font-size="6.3" text-anchor="end" fill="#222" textLength="8.7" lengthAdjust="spacingAndGlyphs">0.0</text>
<text x="23.8" y="531.6" font-size="8.6" text-anchor="middle" fill="#222" transform="rotate(-90 23.8 531.6)" textLength="12.85" lengthAdjust="spacingAndGlyphs">Beta</text>
<text x="64.45" y="512.4" font-size="5.5" text-anchor="middle" fill="#333" textLength="18.2" lengthAdjust="spacingAndGlyphs"><tspan font-style="italic">n</tspan>=1744</text>
<line x1="42.6" y1="574.6" x2="85.3" y2="574.6" stroke="#000" stroke-width="1" stroke-dasharray="1 1.1"/>
<line x1="55.7" y1="558.4" x2="55.7" y2="590.4" stroke="#111" stroke-width="0.9" stroke-dasharray="2.6 2.2"/>
<line x1="62" y1="558.4" x2="62" y2="590.4" stroke="#111" stroke-width="0.9" stroke-dasharray="2.6 2.2"/>
<line x1="72.9" y1="558.4" x2="72.9" y2="590.4" stroke="#111" stroke-width="0.9" stroke-dasharray="2.6 2.2"/>
<line x1="77.2" y1="558.4" x2="77.2" y2="590.4" stroke="#111" stroke-width="0.9" stroke-dasharray="2.6 2.2"/>
<path d="M43.2 587.37 L43.6 587.37 L51 586.76 L53.4 585.54 L55.7 586.46 L59 586.76 L61 585.85 L63.7 587.98 L67.1 587.98 L69.8 587.67 L73.2 586.76 L75.9 585.24 L77.2 581.9 L78.5 572.47 L79.9 567 L82.2 564.26 L84.7 562.74" fill="none" stroke="#2468c0" stroke-width="1.1" stroke-linejoin="round"/>
<rect x="42.6" y="558.4" width="42.7" height="32" fill="none" stroke="#000" stroke-width="1.1"/>
<line x1="40.4" y1="589.8" x2="42.6" y2="589.8" stroke="#000" stroke-width="1"/>
<line x1="40.4" y1="583.72" x2="42.6" y2="583.72" stroke="#000" stroke-width="1"/>
<line x1="40.4" y1="577.64" x2="42.6" y2="577.64" stroke="#000" stroke-width="1"/>
<line x1="40.4" y1="571.56" x2="42.6" y2="571.56" stroke="#000" stroke-width="1"/>
<line x1="40.4" y1="565.48" x2="42.6" y2="565.48" stroke="#000" stroke-width="1"/>
<line x1="40.4" y1="559.4" x2="42.6" y2="559.4" stroke="#000" stroke-width="1"/>
<text x="38.2" y="561.3" font-size="6.3" text-anchor="end" fill="#222" textLength="8.7" lengthAdjust="spacingAndGlyphs">1.0</text>
<text x="38.2" y="591.7" font-size="6.3" text-anchor="end" fill="#222" textLength="8.7" lengthAdjust="spacingAndGlyphs">0.0</text>
<text x="23.8" y="574.4" font-size="8.6" text-anchor="middle" fill="#222" transform="rotate(-90 23.8 574.4)" textLength="12.85" lengthAdjust="spacingAndGlyphs">Beta</text>
<text x="64.45" y="555.2" font-size="5.5" text-anchor="middle" fill="#333" textLength="18.2" lengthAdjust="spacingAndGlyphs"><tspan font-style="italic">n</tspan>=1116</text>
<rect x="42.9" y="593.2" width="11.1" height="2.6" fill="#b9b9b9"/>
<rect x="55.3" y="593.2" width="17.5" height="2.6" fill="#e0483e"/>
<rect x="73.6" y="593.2" width="3.4" height="2.6" fill="#4fa676"/>
<rect x="77.9" y="593.2" width="7.4" height="2.6" fill="#a8ccee"/>
<line x1="207" y1="380.8" x2="224" y2="380.8" stroke="#a0a0a0" stroke-width="1"/>
<line x1="207" y1="403.1" x2="224" y2="403.1" stroke="#a0a0a0" stroke-width="1"/>
<line x1="207" y1="444.6" x2="224" y2="444.6" stroke="#a0a0a0" stroke-width="1"/>
<line x1="207" y1="494.2" x2="224" y2="494.2" stroke="#a0a0a0" stroke-width="1"/>
<line x1="207" y1="555.6" x2="224" y2="555.6" stroke="#a0a0a0" stroke-width="1"/>
<line x1="207" y1="595.3" x2="224" y2="595.3" stroke="#a0a0a0" stroke-width="1"/>
<text x="212.1" y="387.1" font-size="6.62" text-anchor="start" fill="#1a1a1a">Negative regulation</text>
<text x="212.1" y="394.5" font-size="6.62" text-anchor="start" fill="#1a1a1a">of apoptotic process</text>
<text x="212.1" y="401.9" font-size="6.62" fill="#1a1a1a" textLength="60" lengthAdjust="spacingAndGlyphs">(<tspan font-style="italic">Foxc1, Pax2, Bmp7</tspan>)</text>
<text x="212.1" y="411.1" font-size="6.62" text-anchor="start" fill="#1a1a1a">Embryonic organ morphogenesis</text>
<text x="212.1" y="418.5" font-size="6.62" text-anchor="start" fill="#1a1a1a">Cell fate commitment</text>
<text x="212.1" y="425.9" font-size="6.62" text-anchor="start" fill="#1a1a1a">Pattern specification process</text>
<text x="212.1" y="433.3" font-size="6.62" fill="#1a1a1a" textLength="88.77" lengthAdjust="spacingAndGlyphs">(<tspan font-style="italic">Erbb4, Pax, Sox, Gat, Neurog</tspan>)</text>
<text x="212.1" y="453.4" font-size="6.62" text-anchor="start" fill="#1a1a1a">Anterior/posterior pattern specification</text>
<text x="212.1" y="460.87" font-size="6.62" text-anchor="start" fill="#1a1a1a">Dorsal/ventral pattern formation</text>
<text x="212.1" y="468.34" font-size="6.62" text-anchor="start" fill="#1a1a1a">Proximal/distal pattern formation</text>
<text x="212.1" y="475.81" font-size="6.62" fill="#1a1a1a" textLength="91.6" lengthAdjust="spacingAndGlyphs">(<tspan font-style="italic">Gbx2, Gli2, Pbx1, Otx1, Hoxb9</tspan>)</text>
<text x="212.1" y="502.9" font-size="6.62" text-anchor="start" fill="#1a1a1a">Pattern specification process</text>
<text x="212.1" y="510.37" font-size="6.62" text-anchor="start" fill="#1a1a1a">Regionalization</text>
<text x="212.1" y="517.84" font-size="6.62" text-anchor="start" fill="#1a1a1a">cell fate commitment</text>
<text x="212.1" y="525.31" font-size="6.62" fill="#1a1a1a" textLength="52.2" lengthAdjust="spacingAndGlyphs">(<tspan font-style="italic">Sox17, Nrp2, Ihh</tspan>)</text>
<text x="212.1" y="562.9" font-size="6.62" text-anchor="start" fill="#1a1a1a">Transcription from RNA pol II promoter</text>
<text x="212.1" y="570.4" font-size="6.62" text-anchor="start" fill="#1a1a1a">Pos regulation of neural precursor</text>
<text x="212.1" y="577.9" font-size="6.62" text-anchor="start" fill="#1a1a1a">cell proliferation</text>
<text x="212.1" y="585.4" font-size="6.62" text-anchor="start" fill="#1a1a1a">Myeloid cell differentiation</text>
<text x="212.1" y="592.9" font-size="6.62" fill="#1a1a1a" textLength="110.19" lengthAdjust="spacingAndGlyphs">(<tspan font-style="italic">Runx1, Kit, Cbfa2t3, Tal1, Fli1, Foxp1</tspan>)</text>
<path d="M396 40.4L415.5 40.4A19.5 19.5 0 0 1 394.3 59.83Z" fill="#b45a28"/>
<path d="M396 40.4L394.3 59.83A19.5 19.5 0 0 1 393.62 59.75Z" fill="#f0e682"/>
<path d="M396 40.4L393.62 59.75A19.5 19.5 0 0 1 378.05 48.02Z" fill="#7a52a0"/>
<path d="M396 40.4L378.05 48.02A19.5 19.5 0 0 1 376.93 36.35Z" fill="#d8a092"/>
<path d="M396 40.4L376.93 36.35A19.5 19.5 0 0 1 384.82 24.43Z" fill="#e08c22"/>
<path d="M396 40.4L384.82 24.43A19.5 19.5 0 0 1 387.33 22.93Z" fill="#d85660"/>
<path d="M396 40.4L387.33 22.93A19.5 19.5 0 0 1 406.16 23.76Z" fill="#8ebe69"/>
<path d="M396 40.4L406.16 23.76A19.5 19.5 0 0 1 411.37 28.39Z" fill="#2378b4"/>
<path d="M396 40.4L411.37 28.39A19.5 19.5 0 0 1 415.5 40.4Z" fill="#aad0e6"/>
<path d="M396 94.3L415.5 94.3A19.5 19.5 0 0 1 399.39 113.5Z" fill="#b45a28"/>
<path d="M396 94.3L399.39 113.5A19.5 19.5 0 0 1 398.38 113.65Z" fill="#f0e682"/>
<path d="M396 94.3L398.38 113.65A19.5 19.5 0 0 1 378.63 103.15Z" fill="#7a52a0"/>
<path d="M396 94.3L378.63 103.15A19.5 19.5 0 0 1 377.56 87.95Z" fill="#d8a092"/>
<path d="M396 94.3L377.56 87.95A19.5 19.5 0 0 1 383.99 78.93Z" fill="#e08c22"/>
<path d="M396 94.3L383.99 78.93A19.5 19.5 0 0 1 388.26 76.4Z" fill="#d85660"/>
<path d="M396 94.3L388.26 76.4A19.5 19.5 0 0 1 404.85 76.93Z" fill="#8ebe69"/>
<path d="M396 94.3L404.85 76.93A19.5 19.5 0 0 1 410.94 81.77Z" fill="#2378b4"/>
<path d="M396 94.3L410.94 81.77A19.5 19.5 0 0 1 415.5 94.3Z" fill="#aad0e6"/>
<path d="M396 149.8L415.5 149.8A19.5 19.5 0 0 1 394.64 169.25Z" fill="#b45a28"/>
<path d="M396 149.8L394.64 169.25A19.5 19.5 0 0 1 393.96 169.19Z" fill="#f0e682"/>
<path d="M396 149.8L393.96 169.19A19.5 19.5 0 0 1 377.31 155.37Z" fill="#7a52a0"/>
<path d="M396 149.8L377.31 155.37A19.5 19.5 0 0 1 378 142.31Z" fill="#d8a092"/>
<path d="M396 149.8L378 142.31A19.5 19.5 0 0 1 388.07 131.99Z" fill="#e08c22"/>
<path d="M396 149.8L388.07 131.99A19.5 19.5 0 0 1 392.61 130.6Z" fill="#d85660"/>
<path d="M396 149.8L392.61 130.6A19.5 19.5 0 0 1 409.93 136.16Z" fill="#8ebe69"/>
<path d="M396 149.8L409.93 136.16A19.5 19.5 0 0 1 413.06 140.35Z" fill="#2378b4"/>
<path d="M396 149.8L413.06 140.35A19.5 19.5 0 0 1 415.5 149.8Z" fill="#aad0e6"/>
<path d="M396 205.5L415.5 205.5A19.5 19.5 0 0 1 399.39 224.7Z" fill="#b45a28"/>
<path d="M396 205.5L399.39 224.7A19.5 19.5 0 0 1 398.71 224.81Z" fill="#f0e682"/>
<path d="M396 205.5L398.71 224.81A19.5 19.5 0 0 1 382.21 219.29Z" fill="#7a52a0"/>
<path d="M396 205.5L382.21 219.29A19.5 19.5 0 0 1 376.51 205.02Z" fill="#d8a092"/>
<path d="M396 205.5L376.51 205.02A19.5 19.5 0 0 1 377.45 199.47Z" fill="#e08c22"/>
<path d="M396 205.5L377.45 199.47A19.5 19.5 0 0 1 378.63 196.65Z" fill="#d85660"/>
<path d="M396 205.5L378.63 196.65A19.5 19.5 0 0 1 401.86 186.9Z" fill="#8ebe69"/>
<path d="M396 205.5L401.86 186.9A19.5 19.5 0 0 1 407.92 190.07Z" fill="#2378b4"/>
<path d="M396 205.5L407.92 190.07A19.5 19.5 0 0 1 415.5 205.5Z" fill="#aad0e6"/>
<path d="M396 259.7L415.5 259.7A19.5 19.5 0 0 1 391.61 278.7Z" fill="#b45a28"/>
<path d="M396 259.7L391.61 278.7A19.5 19.5 0 0 1 389.68 278.15Z" fill="#f0e682"/>
<path d="M396 259.7L389.68 278.15A19.5 19.5 0 0 1 380.63 271.71Z" fill="#7a52a0"/>
<path d="M396 259.7L380.63 271.71A19.5 19.5 0 0 1 376.8 263.09Z" fill="#d8a092"/>
<path d="M396 259.7L376.8 263.09A19.5 19.5 0 0 1 376.71 256.82Z" fill="#e08c22"/>
<path d="M396 259.7L376.71 256.82A19.5 19.5 0 0 1 377.5 253.54Z" fill="#d85660"/>
<path d="M396 259.7L377.5 253.54A19.5 19.5 0 0 1 403.93 241.89Z" fill="#8ebe69"/>
<path d="M396 259.7L403.93 241.89A19.5 19.5 0 0 1 408.79 244.98Z" fill="#2378b4"/>
<path d="M396 259.7L408.79 244.98A19.5 19.5 0 0 1 415.5 259.7Z" fill="#aad0e6"/>
<path d="M396 370.7L415.5 370.7A19.5 19.5 0 0 1 385.18 386.92Z" fill="#b45a28"/>
<path d="M396 370.7L385.18 386.92A19.5 19.5 0 0 1 384.29 386.29Z" fill="#f0e682"/>
<path d="M396 370.7L384.29 386.29A19.5 19.5 0 0 1 378.1 378.44Z" fill="#7a52a0"/>
<path d="M396 370.7L378.1 378.44A19.5 19.5 0 0 1 376.9 374.62Z" fill="#d8a092"/>
<path d="M396 370.7L376.9 374.62A19.5 19.5 0 0 1 379.2 360.8Z" fill="#e08c22"/>
<path d="M396 370.7L379.2 360.8A19.5 19.5 0 0 1 381.51 357.65Z" fill="#d85660"/>
<path d="M396 370.7L381.51 357.65A19.5 19.5 0 0 1 411.57 358.96Z" fill="#8ebe69"/>
<path d="M396 370.7L411.57 358.96A19.5 19.5 0 0 1 413.81 362.77Z" fill="#2378b4"/>
<path d="M396 370.7L413.81 362.77A19.5 19.5 0 0 1 415.5 370.7Z" fill="#aad0e6"/>
<path d="M396 423.2L415.5 423.2A19.5 19.5 0 0 1 409.05 437.69Z" fill="#b45a28"/>
<path d="M396 423.2L409.05 437.69A19.5 19.5 0 0 1 408.79 437.92Z" fill="#f0e682"/>
<path d="M396 423.2L408.79 437.92A19.5 19.5 0 0 1 404.55 440.73Z" fill="#7a52a0"/>
<path d="M396 423.2L404.55 440.73A19.5 19.5 0 0 1 402.48 441.59Z" fill="#d8a092"/>
<path d="M396 423.2L402.48 441.59A19.5 19.5 0 0 1 397.94 442.6Z" fill="#e08c22"/>
<path d="M396 423.2L397.94 442.6A19.5 19.5 0 0 1 397.02 442.67Z" fill="#d85660"/>
<path d="M396 423.2L397.02 442.67A19.5 19.5 0 1 1 412.45 412.72Z" fill="#8ebe69"/>
<path d="M396 423.2L412.45 412.72A19.5 19.5 0 0 1 414.2 416.21Z" fill="#2378b4"/>
<path d="M396 423.2L414.2 416.21A19.5 19.5 0 0 1 415.5 423.2Z" fill="#aad0e6"/>
<path d="M396 475.5L415.5 475.5A19.5 19.5 0 0 1 402.25 493.97Z" fill="#b45a28"/>
<path d="M396 475.5L402.25 493.97A19.5 19.5 0 0 1 402.09 494.02Z" fill="#f0e682"/>
<path d="M396 475.5L402.09 494.02A19.5 19.5 0 0 1 395.01 494.98Z" fill="#7a52a0"/>
<path d="M396 475.5L395.01 494.98A19.5 19.5 0 0 1 392.11 494.61Z" fill="#d8a092"/>
<path d="M396 475.5L392.11 494.61A19.5 19.5 0 0 1 388.38 493.45Z" fill="#e08c22"/>
<path d="M396 475.5L388.38 493.45A19.5 19.5 0 0 1 385.84 492.14Z" fill="#d85660"/>
<path d="M396 475.5L385.84 492.14A19.5 19.5 0 1 1 413.42 466.74Z" fill="#8ebe69"/>
<path d="M396 475.5L413.42 466.74A19.5 19.5 0 0 1 414.52 469.41Z" fill="#2378b4"/>
<path d="M396 475.5L414.52 469.41A19.5 19.5 0 0 1 415.5 475.5Z" fill="#aad0e6"/>
<path d="M396 528L415.5 528A19.5 19.5 0 0 1 407.07 544.05Z" fill="#b45a28"/>
<path d="M396 528L407.07 544.05A19.5 19.5 0 0 1 406.62 544.35Z" fill="#f0e682"/>
<path d="M396 528L406.62 544.35A19.5 19.5 0 0 1 402.73 546.3Z" fill="#7a52a0"/>
<path d="M396 528L402.73 546.3A19.5 19.5 0 0 1 399.39 547.2Z" fill="#d8a092"/>
<path d="M396 528L399.39 547.2A19.5 19.5 0 0 1 393.62 547.35Z" fill="#e08c22"/>
<path d="M396 528L393.62 547.35A19.5 19.5 0 0 1 391.71 547.02Z" fill="#d85660"/>
<path d="M396 528L391.71 547.02A19.5 19.5 0 1 1 411.07 515.62Z" fill="#8ebe69"/>
<path d="M396 528L411.07 515.62A19.5 19.5 0 0 1 413.62 519.64Z" fill="#2378b4"/>
<path d="M396 528L413.62 519.64A19.5 19.5 0 0 1 415.5 528Z" fill="#aad0e6"/>
<path d="M396 582.5L415.5 582.5A19.5 19.5 0 0 1 404.73 599.94Z" fill="#b45a28"/>
<path d="M396 582.5L404.73 599.94A19.5 19.5 0 0 1 404.24 600.17Z" fill="#f0e682"/>
<path d="M396 582.5L404.24 600.17A19.5 19.5 0 0 1 390.3 601.15Z" fill="#7a52a0"/>
<path d="M396 582.5L390.3 601.15A19.5 19.5 0 0 1 380.63 594.51Z" fill="#d8a092"/>
<path d="M396 582.5L380.63 594.51A19.5 19.5 0 0 1 377.24 587.81Z" fill="#e08c22"/>
<path d="M396 582.5L377.24 587.81A19.5 19.5 0 0 1 376.63 584.71Z" fill="#d85660"/>
<path d="M396 582.5L376.63 584.71A19.5 19.5 0 0 1 408.77 567.76Z" fill="#8ebe69"/>
<path d="M396 582.5L408.77 567.76A19.5 19.5 0 0 1 412.45 572.02Z" fill="#2378b4"/>
<path d="M396 582.5L412.45 572.02A19.5 19.5 0 0 1 415.5 582.5Z" fill="#aad0e6"/>
<rect x="351.2" y="62.9" width="4.2" height="4.5" fill="#b0401e"/>
<text x="355.2" y="59.9" font-size="5.9" text-anchor="start" fill="#2a2a2a" transform="rotate(-90 355.2 59.9)" textLength="19.8" lengthAdjust="spacingAndGlyphs">1st Exon</text>
<rect x="351.2" y="96.2" width="4.2" height="4.5" fill="#d85660"/>
<text x="355.2" y="93.2" font-size="5.9" text-anchor="start" fill="#2a2a2a" transform="rotate(-90 355.2 93.2)" textLength="15.6" lengthAdjust="spacingAndGlyphs">3' UTR</text>
<rect x="351.2" y="129.9" width="4.2" height="4.5" fill="#3f9a2c"/>
<text x="355.2" y="126.9" font-size="5.9" text-anchor="start" fill="#2a2a2a" transform="rotate(-90 355.2 126.9)" textLength="16.1" lengthAdjust="spacingAndGlyphs">5' UTR</text>
<rect x="351.2" y="189" width="4.2" height="4.5" fill="#8ebe69"/>
<text x="355.2" y="186" font-size="5.9" text-anchor="start" fill="#2a2a2a" transform="rotate(-90 355.2 186)" textLength="43.4" lengthAdjust="spacingAndGlyphs">Promoter (&lt;=1kb)</text>
<rect x="351.2" y="246" width="4.2" height="4.5" fill="#2378b4"/>
<text x="355.2" y="243" font-size="5.9" text-anchor="start" fill="#2a2a2a" transform="rotate(-90 355.2 243)" textLength="39.7" lengthAdjust="spacingAndGlyphs">Promoter (2-3kb)</text>
<rect x="351.2" y="302.8" width="4.2" height="4.5" fill="#aad0e6"/>
<text x="355.2" y="299.8" font-size="5.9" text-anchor="start" fill="#2a2a2a" transform="rotate(-90 355.2 299.8)" textLength="39.6" lengthAdjust="spacingAndGlyphs">Promoter (1-2kb)</text>
<rect x="359.9" y="62.9" width="4.2" height="4.5" fill="#c45a1a"/>
<text x="363.9" y="59.9" font-size="5.9" text-anchor="start" fill="#2a2a2a" transform="rotate(-90 363.9 59.9)" textLength="38.2" lengthAdjust="spacingAndGlyphs">Distal Intergenic</text>
<rect x="359.9" y="129.9" width="4.2" height="4.5" fill="#f0e682"/>
<text x="363.9" y="126.9" font-size="5.9" text-anchor="start" fill="#2a2a2a" transform="rotate(-90 363.9 126.9)" textLength="51.2" lengthAdjust="spacingAndGlyphs">Downstream (&lt;=300)</text>
<rect x="359.9" y="189" width="4.2" height="4.5" fill="#7a52a0"/>
<text x="363.9" y="186" font-size="5.9" text-anchor="start" fill="#2a2a2a" transform="rotate(-90 363.9 186)" textLength="30.2" lengthAdjust="spacingAndGlyphs">Other Intron</text>
<rect x="359.9" y="246" width="4.2" height="4.5" fill="#8c5a4e"/>
<text x="363.9" y="243" font-size="5.9" text-anchor="start" fill="#2a2a2a" transform="rotate(-90 363.9 243)" textLength="22.7" lengthAdjust="spacingAndGlyphs">1st Intron</text>
<rect x="359.9" y="302.8" width="4.2" height="4.5" fill="#e08c22"/>
<text x="363.9" y="299.8" font-size="5.9" text-anchor="start" fill="#2a2a2a" transform="rotate(-90 363.9 299.8)" textLength="27.3" lengthAdjust="spacingAndGlyphs">Other Exon</text>
<rect x="351.2" y="383.9" width="4.2" height="4.5" fill="#b0401e"/>
<text x="355.2" y="380.9" font-size="5.9" text-anchor="start" fill="#2a2a2a" transform="rotate(-90 355.2 380.9)" textLength="19.8" lengthAdjust="spacingAndGlyphs">1st Exon</text>
<rect x="351.2" y="417.2" width="4.2" height="4.5" fill="#d85660"/>
<text x="355.2" y="414.2" font-size="5.9" text-anchor="start" fill="#2a2a2a" transform="rotate(-90 355.2 414.2)" textLength="15.6" lengthAdjust="spacingAndGlyphs">3' UTR</text>
<rect x="351.2" y="450.9" width="4.2" height="4.5" fill="#3f9a2c"/>
<text x="355.2" y="447.9" font-size="5.9" text-anchor="start" fill="#2a2a2a" transform="rotate(-90 355.2 447.9)" textLength="16.1" lengthAdjust="spacingAndGlyphs">5' UTR</text>
<rect x="351.2" y="510" width="4.2" height="4.5" fill="#8ebe69"/>
<text x="355.2" y="507" font-size="5.9" text-anchor="start" fill="#2a2a2a" transform="rotate(-90 355.2 507)" textLength="43.4" lengthAdjust="spacingAndGlyphs">Promoter (&lt;=1kb)</text>
<rect x="351.2" y="567" width="4.2" height="4.5" fill="#2378b4"/>
<text x="355.2" y="564" font-size="5.9" text-anchor="start" fill="#2a2a2a" transform="rotate(-90 355.2 564)" textLength="39.7" lengthAdjust="spacingAndGlyphs">Promoter (2-3kb)</text>
<rect x="351.2" y="623.8" width="4.2" height="4.5" fill="#aad0e6"/>
<text x="355.2" y="620.8" font-size="5.9" text-anchor="start" fill="#2a2a2a" transform="rotate(-90 355.2 620.8)" textLength="39.6" lengthAdjust="spacingAndGlyphs">Promoter (1-2kb)</text>
<rect x="359.9" y="383.9" width="4.2" height="4.5" fill="#c45a1a"/>
<text x="363.9" y="380.9" font-size="5.9" text-anchor="start" fill="#2a2a2a" transform="rotate(-90 363.9 380.9)" textLength="38.2" lengthAdjust="spacingAndGlyphs">Distal Intergenic</text>
<rect x="359.9" y="450.9" width="4.2" height="4.5" fill="#f0e682"/>
<text x="363.9" y="447.9" font-size="5.9" text-anchor="start" fill="#2a2a2a" transform="rotate(-90 363.9 447.9)" textLength="51.2" lengthAdjust="spacingAndGlyphs">Downstream (&lt;=300)</text>
<rect x="359.9" y="510" width="4.2" height="4.5" fill="#7a52a0"/>
<text x="363.9" y="507" font-size="5.9" text-anchor="start" fill="#2a2a2a" transform="rotate(-90 363.9 507)" textLength="30.2" lengthAdjust="spacingAndGlyphs">Other Intron</text>
<rect x="359.9" y="567" width="4.2" height="4.5" fill="#8c5a4e"/>
<text x="363.9" y="564" font-size="5.9" text-anchor="start" fill="#2a2a2a" transform="rotate(-90 363.9 564)" textLength="22.7" lengthAdjust="spacingAndGlyphs">1st Intron</text>
<rect x="359.9" y="623.8" width="4.2" height="4.5" fill="#e08c22"/>
<text x="363.9" y="620.8" font-size="5.9" text-anchor="start" fill="#2a2a2a" transform="rotate(-90 363.9 620.8)" textLength="27.3" lengthAdjust="spacingAndGlyphs">Other Exon</text>
<rect x="441" y="22.1" width="7.8" height="13.2" fill="#cc62a0"/>
<rect x="441.4" y="22.5" width="7" height="12.4" fill="none" stroke="#c2548f" stroke-width="0.8"/>
<rect x="441" y="35.3" width="4.4" height="13.3" fill="#e09a18"/>
<rect x="441.4" y="35.7" width="3.6" height="12.5" fill="none" stroke="#d88e10" stroke-width="0.8"/>
<rect x="441" y="48.6" width="0.3" height="13.3" fill="#268c4a"/>
<line x1="440.8" y1="16.3" x2="440.8" y2="63" stroke="#111" stroke-width="1.1"/>
<line x1="440.3" y1="62.5" x2="483.8" y2="62.5" stroke="#111" stroke-width="1.1"/>
<line x1="442.7" y1="62.5" x2="442.7" y2="64.9" stroke="#111" stroke-width="1"/>
<line x1="452.33" y1="62.5" x2="452.33" y2="64.9" stroke="#111" stroke-width="1"/>
<line x1="461.96" y1="62.5" x2="461.96" y2="64.9" stroke="#111" stroke-width="1"/>
<line x1="471.59" y1="62.5" x2="471.59" y2="64.9" stroke="#111" stroke-width="1"/>
<line x1="481.22" y1="62.5" x2="481.22" y2="64.9" stroke="#111" stroke-width="1"/>
<rect x="441" y="74.3" width="37.7" height="13.1" fill="#cc62a0"/>
<rect x="441.4" y="74.7" width="36.9" height="12.3" fill="none" stroke="#c2548f" stroke-width="0.8"/>
<rect x="441" y="87.4" width="17" height="13.3" fill="#e09a18"/>
<rect x="441.4" y="87.8" width="16.2" height="12.5" fill="none" stroke="#d88e10" stroke-width="0.8"/>
<rect x="441" y="100.7" width="1" height="13.3" fill="#268c4a"/>
<line x1="440.8" y1="71" x2="440.8" y2="117.4" stroke="#111" stroke-width="1.1"/>
<line x1="440.3" y1="116.9" x2="483.8" y2="116.9" stroke="#111" stroke-width="1.1"/>
<line x1="442.7" y1="116.9" x2="442.7" y2="119.3" stroke="#111" stroke-width="1"/>
<line x1="452.33" y1="116.9" x2="452.33" y2="119.3" stroke="#111" stroke-width="1"/>
<line x1="461.96" y1="116.9" x2="461.96" y2="119.3" stroke="#111" stroke-width="1"/>
<line x1="471.59" y1="116.9" x2="471.59" y2="119.3" stroke="#111" stroke-width="1"/>
<line x1="481.22" y1="116.9" x2="481.22" y2="119.3" stroke="#111" stroke-width="1"/>
<rect x="441" y="128.9" width="1.2" height="13.2" fill="#cc62a0"/>
<rect x="441" y="142.1" width="1" height="13.2" fill="#e09a18"/>
<rect x="441" y="155.3" width="0.3" height="13.3" fill="#268c4a"/>
<line x1="440.8" y1="126" x2="440.8" y2="172.1" stroke="#111" stroke-width="1.1"/>
<line x1="440.3" y1="171.6" x2="483.8" y2="171.6" stroke="#111" stroke-width="1.1"/>
<line x1="442.7" y1="171.6" x2="442.7" y2="174" stroke="#111" stroke-width="1"/>
<line x1="452.33" y1="171.6" x2="452.33" y2="174" stroke="#111" stroke-width="1"/>
<line x1="461.96" y1="171.6" x2="461.96" y2="174" stroke="#111" stroke-width="1"/>
<line x1="471.59" y1="171.6" x2="471.59" y2="174" stroke="#111" stroke-width="1"/>
<line x1="481.22" y1="171.6" x2="481.22" y2="174" stroke="#111" stroke-width="1"/>
<rect x="441" y="185.6" width="14.2" height="13.2" fill="#cc62a0"/>
<rect x="441.4" y="186" width="13.4" height="12.4" fill="none" stroke="#c2548f" stroke-width="0.8"/>
<rect x="441" y="198.8" width="7.8" height="13.2" fill="#e09a18"/>
<rect x="441.4" y="199.2" width="7" height="12.4" fill="none" stroke="#d88e10" stroke-width="0.8"/>
<rect x="441" y="212" width="0.3" height="13.2" fill="#268c4a"/>
<line x1="440.8" y1="180.8" x2="440.8" y2="227.4" stroke="#111" stroke-width="1.1"/>
<line x1="440.3" y1="226.9" x2="483.8" y2="226.9" stroke="#111" stroke-width="1.1"/>
<line x1="442.7" y1="226.9" x2="442.7" y2="229.3" stroke="#111" stroke-width="1"/>
<line x1="452.33" y1="226.9" x2="452.33" y2="229.3" stroke="#111" stroke-width="1"/>
<line x1="461.96" y1="226.9" x2="461.96" y2="229.3" stroke="#111" stroke-width="1"/>
<line x1="471.59" y1="226.9" x2="471.59" y2="229.3" stroke="#111" stroke-width="1"/>
<line x1="481.22" y1="226.9" x2="481.22" y2="229.3" stroke="#111" stroke-width="1"/>
<rect x="441" y="238.7" width="7.8" height="13.1" fill="#cc62a0"/>
<rect x="441.4" y="239.1" width="7" height="12.3" fill="none" stroke="#c2548f" stroke-width="0.8"/>
<rect x="441" y="251.8" width="5" height="13.3" fill="#e09a18"/>
<rect x="441.4" y="252.2" width="4.2" height="12.5" fill="none" stroke="#d88e10" stroke-width="0.8"/>
<rect x="441" y="265.1" width="1.7" height="13.3" fill="#268c4a"/>
<line x1="440.8" y1="235.8" x2="440.8" y2="282" stroke="#111" stroke-width="1.1"/>
<line x1="440.3" y1="281.5" x2="483.8" y2="281.5" stroke="#111" stroke-width="1.1"/>
<line x1="442.7" y1="281.5" x2="442.7" y2="283.9" stroke="#111" stroke-width="1"/>
<line x1="452.33" y1="281.5" x2="452.33" y2="283.9" stroke="#111" stroke-width="1"/>
<line x1="461.96" y1="281.5" x2="461.96" y2="283.9" stroke="#111" stroke-width="1"/>
<line x1="471.59" y1="281.5" x2="471.59" y2="283.9" stroke="#111" stroke-width="1"/>
<line x1="481.22" y1="281.5" x2="481.22" y2="283.9" stroke="#111" stroke-width="1"/>
<text x="442.7" y="293.5" font-size="7" text-anchor="middle" fill="#222">0</text>
<text x="461.96" y="293.5" font-size="7" text-anchor="middle" fill="#222">20</text>
<text x="481.22" y="293.5" font-size="7" text-anchor="middle" fill="#222">40</text>
<text x="462" y="304.5" font-size="7.6" text-anchor="middle" fill="#222" textLength="27.3" lengthAdjust="spacingAndGlyphs">% feature</text>
<rect x="441" y="365.3" width="0.6" height="13.3" fill="#e09a18"/>
<rect x="441" y="379" width="6.5" height="13.2" fill="#268c4a"/>
<rect x="441.4" y="379.4" width="5.7" height="12.4" fill="none" stroke="#1d7a3c" stroke-width="0.8"/>
<line x1="440.8" y1="349.2" x2="440.8" y2="393" stroke="#111" stroke-width="1.1"/>
<line x1="440.3" y1="392.5" x2="483.8" y2="392.5" stroke="#111" stroke-width="1.1"/>
<line x1="442.7" y1="392.5" x2="442.7" y2="394.9" stroke="#111" stroke-width="1"/>
<line x1="452.33" y1="392.5" x2="452.33" y2="394.9" stroke="#111" stroke-width="1"/>
<line x1="461.96" y1="392.5" x2="461.96" y2="394.9" stroke="#111" stroke-width="1"/>
<line x1="471.59" y1="392.5" x2="471.59" y2="394.9" stroke="#111" stroke-width="1"/>
<line x1="481.22" y1="392.5" x2="481.22" y2="394.9" stroke="#111" stroke-width="1"/>
<rect x="441" y="431.7" width="20" height="12.9" fill="#268c4a"/>
<rect x="441.4" y="432.1" width="19.2" height="12.1" fill="none" stroke="#1d7a3c" stroke-width="0.8"/>
<line x1="440.8" y1="402" x2="440.8" y2="445.3" stroke="#111" stroke-width="1.1"/>
<line x1="440.3" y1="444.8" x2="483.8" y2="444.8" stroke="#111" stroke-width="1.1"/>
<line x1="442.7" y1="444.8" x2="442.7" y2="447.2" stroke="#111" stroke-width="1"/>
<line x1="452.33" y1="444.8" x2="452.33" y2="447.2" stroke="#111" stroke-width="1"/>
<line x1="461.96" y1="444.8" x2="461.96" y2="447.2" stroke="#111" stroke-width="1"/>
<line x1="471.59" y1="444.8" x2="471.59" y2="447.2" stroke="#111" stroke-width="1"/>
<line x1="481.22" y1="444.8" x2="481.22" y2="447.2" stroke="#111" stroke-width="1"/>
<rect x="441" y="484" width="18.4" height="12.9" fill="#268c4a"/>
<rect x="441.4" y="484.4" width="17.6" height="12.1" fill="none" stroke="#1d7a3c" stroke-width="0.8"/>
<line x1="440.8" y1="454.4" x2="440.8" y2="497.6" stroke="#111" stroke-width="1.1"/>
<line x1="440.3" y1="497.1" x2="483.8" y2="497.1" stroke="#111" stroke-width="1.1"/>
<line x1="442.7" y1="497.1" x2="442.7" y2="499.5" stroke="#111" stroke-width="1"/>
<line x1="452.33" y1="497.1" x2="452.33" y2="499.5" stroke="#111" stroke-width="1"/>
<line x1="461.96" y1="497.1" x2="461.96" y2="499.5" stroke="#111" stroke-width="1"/>
<line x1="471.59" y1="497.1" x2="471.59" y2="499.5" stroke="#111" stroke-width="1"/>
<line x1="481.22" y1="497.1" x2="481.22" y2="499.5" stroke="#111" stroke-width="1"/>
<rect x="441" y="537" width="33" height="12.6" fill="#268c4a"/>
<rect x="441.4" y="537.4" width="32.2" height="11.8" fill="none" stroke="#1d7a3c" stroke-width="0.8"/>
<line x1="440.8" y1="507" x2="440.8" y2="550.3" stroke="#111" stroke-width="1.1"/>
<line x1="440.3" y1="549.8" x2="483.8" y2="549.8" stroke="#111" stroke-width="1.1"/>
<line x1="442.7" y1="549.8" x2="442.7" y2="552.2" stroke="#111" stroke-width="1"/>
<line x1="452.33" y1="549.8" x2="452.33" y2="552.2" stroke="#111" stroke-width="1"/>
<line x1="461.96" y1="549.8" x2="461.96" y2="552.2" stroke="#111" stroke-width="1"/>
<line x1="471.59" y1="549.8" x2="471.59" y2="552.2" stroke="#111" stroke-width="1"/>
<line x1="481.22" y1="549.8" x2="481.22" y2="552.2" stroke="#111" stroke-width="1"/>
<rect x="441" y="562.6" width="15.3" height="12.8" fill="#cc62a0"/>
<rect x="441.4" y="563" width="14.5" height="12" fill="none" stroke="#c2548f" stroke-width="0.8"/>
<rect x="441" y="575.4" width="6.8" height="13.3" fill="#e09a18"/>
<rect x="441.4" y="575.8" width="6" height="12.5" fill="none" stroke="#d88e10" stroke-width="0.8"/>
<rect x="441" y="588.7" width="11.7" height="13.2" fill="#268c4a"/>
<rect x="441.4" y="589.1" width="10.9" height="12.4" fill="none" stroke="#1d7a3c" stroke-width="0.8"/>
<line x1="440.8" y1="559.8" x2="440.8" y2="602.6" stroke="#111" stroke-width="1.1"/>
<line x1="440.3" y1="602.1" x2="483.8" y2="602.1" stroke="#111" stroke-width="1.1"/>
<line x1="442.7" y1="602.1" x2="442.7" y2="604.5" stroke="#111" stroke-width="1"/>
<line x1="452.33" y1="602.1" x2="452.33" y2="604.5" stroke="#111" stroke-width="1"/>
<line x1="461.96" y1="602.1" x2="461.96" y2="604.5" stroke="#111" stroke-width="1"/>
<line x1="471.59" y1="602.1" x2="471.59" y2="604.5" stroke="#111" stroke-width="1"/>
<line x1="481.22" y1="602.1" x2="481.22" y2="604.5" stroke="#111" stroke-width="1"/>
<text x="442.7" y="614.1" font-size="7" text-anchor="middle" fill="#222">0</text>
<text x="461.96" y="614.1" font-size="7" text-anchor="middle" fill="#222">20</text>
<text x="481.22" y="614.1" font-size="7" text-anchor="middle" fill="#222">40</text>
<text x="462" y="625.1" font-size="7.6" text-anchor="middle" fill="#222" textLength="27.3" lengthAdjust="spacingAndGlyphs">% feature</text>
<rect x="485.8" y="362.7" width="12.1" height="4.1" fill="#268c4a"/>
<text x="500.4" y="366.8" font-size="6.2" text-anchor="start" fill="#222" textLength="14.4" lengthAdjust="spacingAndGlyphs">Suz12</text>
<rect x="485.8" y="368.7" width="12.1" height="4.1" fill="#e09a18"/>
<text x="500.4" y="372.8" font-size="6.2" text-anchor="start" fill="#222" textLength="13.3" lengthAdjust="spacingAndGlyphs">cMyb</text>
<rect x="485.8" y="374.3" width="12.1" height="4.1" fill="#cc62a0"/>
<text x="500.4" y="378.4" font-size="6.2" text-anchor="start" fill="#222" textLength="12.5" lengthAdjust="spacingAndGlyphs">p300</text>
<rect x="0.5" y="0.5" width="519" height="635" fill="none" stroke="#000" stroke-width="1"/></svg>
</body></html>
